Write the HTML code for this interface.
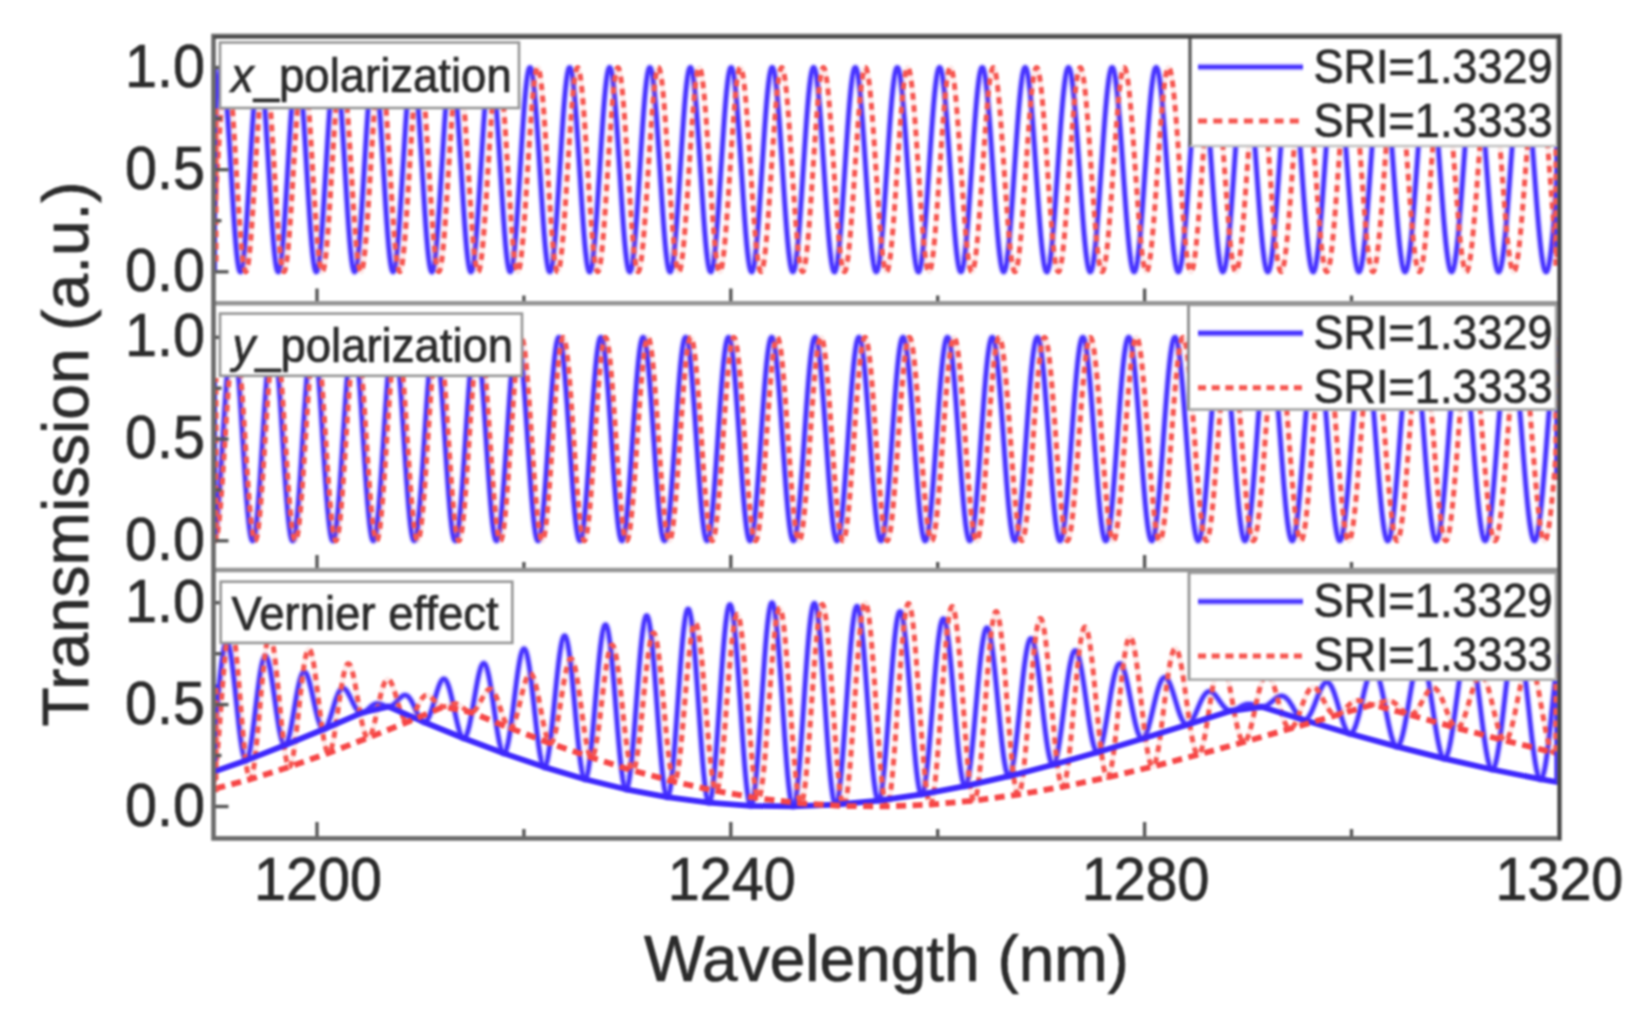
<!DOCTYPE html>
<html><head><meta charset="utf-8"><title>Transmission spectra</title>
<style>
html,body{margin:0;padding:0;background:#fff;}
body{width:1646px;height:1026px;overflow:hidden;}
svg{display:block;filter:blur(1.0px);}
</style></head><body>
<svg width="1646" height="1026" viewBox="0 0 1646 1026">
<defs>
<clipPath id="c1"><rect x="213.5" y="36.0" width="1344.9" height="267.5"/></clipPath>
<clipPath id="c2"><rect x="213.5" y="303.5" width="1344.9" height="266.5"/></clipPath>
<clipPath id="c3"><rect x="213.5" y="570.0" width="1344.9" height="267.0"/></clipPath>
</defs>
<rect width="100%" height="100%" fill="#fff"/>
<defs><path id="k0" d="M213.5 146.5l.6 -9.8l.6 -9.5l.6 -9.1l.6 -8.6l.6 -8l.6 -7.3l.6 -6.5l.6 -5.7l.6 -4.8l.6 -3.9l.6 -2.9l.6 -1.9l.6 -.9l.6 .1l.6 1.1l.6 2.2l.6 3.1l.6 4.1l.6 5.1l.6 5.8l.6 6.7l.6 7.5l.6 8.1l.6 8.6l.6 9.2l.6 9.6l.6 9.9l.6 10.1l.6 10.2l.6 10.2l.6 10.1l.6 9.9l.6 9.6l.6 9.3l.6 8.7l.6 8.2l.6 7.5l.6 6.8l.6 6l.6 5.1l.6 4.2l.6 3.3l.6 2.3l.6 1.3l.6 .3l.6 -.8l.6 -1.7l.6 -2.8l.6 -3.7l.6 -4.6l.6 -5.6l.6 -6.3l.6 -7.1l.6 -7.8l.6 -8.4l.6 -9l.6 -9.4l.6 -9.7l.6 -10l.6 -10.2l.6 -10.1l.6 -10.2l.6 -10l.6 -9.7l.6 -9.4l.6 -8.9l.6 -8.4l.6 -7.8l.6 -7.1l.6 -6.4l.6 -5.5l.6 -4.7l.6 -3.7l.6 -2.7l.6 -1.8l.6 -.8l.6 .3l.6 1.2l.6 2.3l.6 3.2l.6 4.2l.6 5.1l.6 5.9l.6 6.7l.6 7.5l.6 8.1l.6 8.6l.6 9.2l.6 9.5l.6 9.9l.6 10l.6 10.1l.6 10.2l.6 10l.6 9.9l.6 9.5l.6 9.2l.6 8.7l.6 8.1l.6 7.5l.6 6.8l.6 5.9l.6 5.2l.6 4.2l.6 3.3l.6 2.3l.6 1.4l.6 .3l.6 -.7l.6 -1.7l.6 -2.6l.6 -3.6l.6 -4.6l.6 -5.4l.6 -6.2l.6 -7l.6 -7.7l.6 -8.3l.6 -8.8l.6 -9.3l.6 -9.6l.6 -9.9l.6 -10.1l.6 -10.1l.6 -10.1l.6 -10l.6 -9.7l.6 -9.4l.6 -9l.6 -8.4l.6 -7.9l.6 -7.2l.6 -6.5l.6 -5.7l.6 -4.8l.6 -3.9l.6 -3l.6 -2l.6 -1l.6 0l.6 1l.6 2l.6 3l.6 3.8l.6 4.8l.6 5.7l.6 6.4l.6 7.2l.6 7.9l.6 8.4l.6 9l.6 9.3l.6 9.7l.6 10l.6 10l.6 10.1l.6 10l.6 9.9l.6 9.6l.6 9.3l.6 8.8l.6 8.3l.6 7.7l.6 7l.6 6.3l.6 5.4l.6 4.6l.6 3.7l.6 2.7l.6 1.8l.6 .8l.6 -.3l.6 -1.2l.6 -2.2l.6 -3.1l.6 -4.1l.6 -5l.6 -5.8l.6 -6.6l.6 -7.3l.6 -7.9l.6 -8.5l.6 -9l.6 -9.5l.6 -9.7l.6 -9.9l.6 -10l.6 -10.1l.6 -10l.6 -9.8l.6 -9.5l.6 -9.2l.6 -8.7l.6 -8.2l.6 -7.6l.6 -6.8l.6 -6.2l.6 -5.3l.6 -4.4l.6 -3.5l.6 -2.6l.6 -1.6l.6 -.7l.6 .4l.6 1.3l.6 2.3l.6 3.3l.6 4.1l.6 5.1l.6 5.8l.6 6.7l.6 7.3l.6 8l.6 8.6l.6 9l.6 9.4l.6 9.7l.6 9.9l.6 10l.6 10.1l.6 9.9l.6 9.8l.6 9.5l.6 9.1l.6 8.6l.6 8.2l.6 7.5l.6 6.8l.6 6l.6 5.3l.6 4.4l.6 3.5l.6 2.5l.6 1.6l.6 .6l.6 -.4l.6 -1.3l.6 -2.4l.6 -3.2l.6 -4.2l.6 -5l.6 -5.9l.6 -6.6l.6 -7.4l.6 -7.9l.6 -8.6l.6 -8.9l.6 -9.4l.6 -9.7l.6 -9.9l.6 -10l.6 -9.9l.6 -10l.6 -9.7l.6 -9.5l.6 -9.1l.6 -8.6l.6 -8.1l.6 -7.5l.6 -6.9l.6 -6l.6 -5.3l.6 -4.4l.6 -3.6l.6 -2.6l.6 -1.6l.6 -.7l.6 .3l.6 1.3l.6 2.2l.6 3.2l.6 4.1l.6 5l.6 5.7l.6 6.6l.6 7.2l.6 7.9l.6 8.4l.6 9l.6 9.3l.6 9.6l.6 9.8l.6 10l.6 9.9l.6 9.9l.6 9.8l.6 9.4l.6 9.2l.6 8.6l.6 8.2l.6 7.6l.6 6.9l.6 6.2l.6 5.4l.6 4.5l.6 3.7l.6 2.7l.6 1.8l.6 .8l.6 -.1l.6 -1.1l.6 -2.1l.6 -3l.6 -3.9l.6 -4.8l.6 -5.6l.6 -6.3l.6 -7.1l.6 -7.8l.6 -8.3l.6 -8.8l.6 -9.2l.6 -9.5l.6 -9.8l.6 -9.9l.6 -9.9l.6 -9.9l.6 -9.7l.6 -9.5l.6 -9.2l.6 -8.8l.6 -8.3l.6 -7.7l.6 -7l.6 -6.4l.6 -5.6l.6 -4.7l.6 -3.9l.6 -3l.6 -2l.6 -1.1l.6 -.1l.6 .8l.6 1.8l.6 2.7l.6 3.7l.6 4.5l.6 5.3l.6 6.2l.6 6.8l.6 7.6l.6 8.1l.6 8.6l.6 9.1l.6 9.4l.6 9.6l.6 9.9l.6 9.9l.6 9.8l.6 9.8l.6 9.6l.6 9.3l.6 8.9l.6 8.4l.6 7.9l.6 7.2l.6 6.6l.6 5.9l.6 5l.6 4.2l.6 3.3l.6 2.4l.6 1.4l.6 .5l.6 -.5l.6 -1.4l.6 -2.4l.6 -3.2l.6 -4.2l.6 -5l.6 -5.8l.6 -6.6l.6 -7.2l.6 -7.9l.6 -8.4l.6 -8.9l.6 -9.2l.6 -9.5l.6 -9.8l.6 -9.8l.6 -9.9l.6 -9.8l.6 -9.6l.6 -9.4l.6 -9.1l.6 -8.6l.6 -8.1l.6 -7.5l.6 -6.9l.6 -6.2l.6 -5.4l.6 -4.5l.6 -3.8l.6 -2.8l.6 -1.8l.6 -1l.6 0l.6 1l.6 1.9l.6 2.8l.6 3.7l.6 4.6l.6 5.4l.6 6.2l.6 6.9l.6 7.5l.6 8.1l.6 8.6l.6 9l.6 9.4l.6 9.6l.6 9.8l.6 9.8l.6 9.9l.6 9.7l.6 9.5l.6 9.2l.6 8.8l.6 8.4l.6 7.8l.6 7.2l.6 6.6l.6 5.8l.6 5l.6 4.2l.6 3.4l.6 2.4l.6 1.5l.6 .5l.6 -.4l.6 -1.3l.6 -2.3l.6 -3.2l.6 -4.1l.6 -4.9l.6 -5.7l.6 -6.4l.6 -7.1l.6 -7.7l.6 -8.3l.6 -8.8l.6 -9.1l.6 -9.4l.6 -9.7l.6 -9.8l.6 -9.8l.6 -9.7l.6 -9.6l.6 -9.4l.6 -9.1l.6 -8.6l.6 -8.2l.6 -7.6l.6 -7l.6 -6.3l.6 -5.6l.6 -4.7l.6 -3.9l.6 -3l.6 -2.1l.6 -1.2l.6 -.3l.6 .7l.6 1.6l.6 2.6l.6 3.4l.6 4.3l.6 5.1l.6 5.9l.6 6.6l.6 7.3l.6 7.9l.6 8.3l.6 8.9l.6 9.2l.6 9.4l.6 9.7l.6 9.8l.6 9.7l.6 9.7l.6 9.6l.6 9.2l.6 9l.6 8.5l.6 8l.6 7.5l.6 6.8l.6 6.1l.6 5.4l.6 4.5l.6 3.7l.6 2.8l.6 2l.6 1l.6 0l.6 -.9l.6 -1.8l.6 -2.7l.6 -3.5l.6 -4.5l.6 -5.2l.6 -6l.6 -6.7l.6 -7.4l.6 -7.9l.6 -8.5l.6 -8.8l.6 -9.2l.6 -9.5l.6 -9.7l.6 -9.7l.6 -9.7l.6 -9.7l.6 -9.5l.6 -9.2l.6 -8.8l.6 -8.5l.6 -7.9l.6 -7.3l.6 -6.8l.6 -6l.6 -5.2l.6 -4.5l.6 -3.6l.6 -2.7l.6 -1.8l.6 -.9l.6 0l.6 1l.6 1.8l.6 2.8l.6 3.7l.6 4.4l.6 5.3l.6 6.1l.6 6.7l.6 7.4l.6 7.9l.6 8.4l.6 8.9l.6 9.2l.6 9.4l.6 9.7l.6 9.7l.6 9.7l.6 9.6l.6 9.4l.6 9.2l.6 8.8l.6 8.4l.6 7.9l.6 7.3l.6 6.7l.6 6l.6 5.2l.6 4.4l.6 3.6l.6 2.8l.6 1.8l.6 .9l.6 0l.6 -.9l.6 -1.9l.6 -2.7l.6 -3.6l.6 -4.5l.6 -5.2l.6 -6l.6 -6.7l.6 -7.3l.6 -7.9l.6 -8.4l.6 -8.8l.6 -9.1l.6 -9.4l.6 -9.6l.6 -9.7l.6 -9.6l.6 -9.6l.6 -9.5l.6 -9.1l.6 -8.8l.6 -8.5l.6 -7.9l.6 -7.3l.6 -6.8l.6 -6l.6 -5.3l.6 -4.5l.6 -3.7l.6 -2.8l.6 -1.9l.6 -1l.6 -.1l.6 .8l.6 1.7l.6 2.6l.6 3.5l.6 4.3l.6 5.1l.6 5.8l.6 6.6l.6 7.2l.6 7.8l.6 8.2l.6 8.8l.6 9l.6 9.4l.6 9.5l.6 9.6l.6 9.7l.6 9.5l.6 9.5l.6 9.1l.6 8.9l.6 8.5l.6 8l.6 7.4l.6 6.9l.6 6.2l.6 5.4l.6 4.7l.6 3.8l.6 3l.6 2.1l.6 1.3l.6 .3l.6 -.6l.6 -1.5l.6 -2.4l.6 -3.2l.6 -4.1l.6 -4.9l.6 -5.6l.6 -6.4l.6 -7l.6 -7.6l.6 -8.1l.6 -8.6l.6 -8.9l.6 -9.3l.6 -9.4l.6 -9.6l.6 -9.6l.6 -9.6l.6 -9.4l.6 -9.3l.6 -8.9l.6 -8.6l.6 -8.1l.6 -7.6l.6 -7l.6 -6.4l.6 -5.7l.6 -4.9l.6 -4.1l.6 -3.3l.6 -2.4l.6 -1.5l.6 -.7l.6 .3l.6 1.1l.6 2.1l.6 2.9l.6 3.8l.6 4.6l.6 5.3l.6 6.1l.6 6.7l.6 7.4l.6 7.9l.6 8.4l.6 8.7l.6 9.1l.6 9.4l.6 9.5l.6 9.6l.6 9.5l.6 9.5l.6 9.3l.6 9.1l.6 8.7l.6 8.3l.6 7.8l.6 7.3l.6 6.6l.6 6l.6 5.2l.6 4.5l.6 3.6l.6 2.8l.6 1.9l.6 1.1l.6 .2l.6 -.8l.6 -1.6l.6 -2.5l.6 -3.4l.6 -4.2l.6 -4.9l.6 -5.7l.6 -6.4l.6 -7.1l.6 -7.6l.6 -8.1l.6 -8.5l.6 -9l.6 -9.2l.6 -9.4l.6 -9.5l.6 -9.5l.6 -9.5l.6 -9.4l.6 -9.2l.6 -8.8l.6 -8.5l.6 -8.1l.6 -7.5l.6 -7l.6 -6.3l.6 -5.7l.6 -4.8l.6 -4.1l.6 -3.3l.6 -2.4l.6 -1.6l.6 -.7l.6 .2l.6 1.2l.6 1.9l.6 2.9l.6 3.7l.6 4.5l.6 5.2l.6 6l.6 6.6l.6 7.2l.6 7.8l.6 8.3l.6 8.7l.6 9l.6 9.2l.6 9.4l.6 9.5l.6 9.5l.6 9.5l.6 9.3l.6 9l.6 8.7l.6 8.3l.6 7.9l.6 7.3l.6 6.8l.6 6.1l.6 5.3l.6 4.6l.6 3.9l.6 3l.6 2.1l.6 1.3l.6 .4l.6 -.5l.6 -1.4l.6 -2.2l.6 -3.1l.6 -3.9l.6 -4.7l.6 -5.4l.6 -6.1l.6 -6.8l.6 -7.4l.6 -7.9l.6 -8.3l.6 -8.8l.6 -9l.6 -9.3l.6 -9.4l.6 -9.5l.6 -9.4l.6 -9.4l.6 -9.2l.6 -8.9l.6 -8.6l.6 -8.2l.6 -7.8l.6 -7.2l.6 -6.5l.6 -5.9l.6 -5.2l.6 -4.5l.6 -3.6l.6 -2.9l.6 -1.9l.6 -1.1l.6 -.3l.6 .7l.6 1.5l.6 2.4l.6 3.2l.6 4l.6 4.8l.6 5.5l.6 6.3l.6 6.8l.6 7.4l.6 8l.6 8.4l.6 8.7l.6 9l.6 9.3l.6 9.4l.6 9.4l.6 9.5l.6 9.3l.6 9.1l.6 8.9l.6 8.6l.6 8.1l.6 7.6l.6 7.1l.6 6.5l.6 5.8l.6 5.2l.6 4.3l.6 3.6l.6 2.7l.6 1.9l.6 1.1l.6 .2l.6 -.7l.6 -1.6l.6 -2.4l.6 -3.3l.6 -4l.6 -4.8l.6 -5.6l.6 -6.2l.6 -6.9l.6 -7.4l.6 -7.9l.6 -8.4l.6 -8.7l.6 -9l.6 -9.2l.6 -9.4l.6 -9.4l.6 -9.4l.6 -9.3l.6 -9.1l.6 -8.8l.6 -8.6l.6 -8.1l.6 -7.6l.6 -7.1l.6 -6.5l.6 -5.8l.6 -5.1l.6 -4.4l.6 -3.6l.6 -2.7l.6 -2l.6 -1.1l.6 -.2l.6 .7l.6 1.5l.6 2.3l.6 3.2l.6 4l.6 4.8l.6 5.4l.6 6.2l.6 6.8l.6 7.3l.6 7.8l.6 8.3l.6 8.7l.6 9l.6 9.1l.6 9.4l.6 9.3l.6 9.4l.6 9.3l.6 9.1l.6 8.8l.6 8.6l.6 8.1l.6 7.7l.6 7.1l.6 6.6l.6 5.9l.6 5.2l.6 4.4l.6 3.7l.6 2.9l.6 2.1l.6 1.2l.6 .4l.6 -.5l.6 -1.3l.6 -2.2l.6 -3.1l.6 -3.8l.6 -4.6l.6 -5.3l.6 -6l.6 -6.6l.6 -7.2l.6 -7.7l.6 -8.2l.6 -8.6l.6 -8.8l.6 -9.1l.6 -9.3l.6 -9.3l.6 -9.4l.6 -9.2l.6 -9.2l.6 -8.9l.6 -8.5l.6 -8.2l.6 -7.8l.6 -7.3l.6 -6.7l.6 -6l.6 -5.4l.6 -4.7l.6 -3.9l.6 -3.1l.6 -2.3l.6 -1.5l.6 -.6l.6 .3l.6 1.1l.6 1.9l.6 2.7l.6 3.6l.6 4.3l.6 5.1l.6 5.8l.6 6.4l.6 7l.6 7.5l.6 8l.6 8.4l.6 8.7l.6 9l.6 9.2l.6 9.3l.6 9.3l.6 9.3l.6 9.1l.6 9l.6 8.7l.6 8.3l.6 7.9l.6 7.4l.6 6.9l.6 6.3l.6 5.7l.6 4.9l.6 4.2l.6 3.4l.6 2.7l.6 1.8l.6 .9l.6 .1l.6 -.7l.6 -1.6l.6 -2.3l.6 -3.3l.6 -3.9l.6 -4.8l.6 -5.4l.6 -6.1l.6 -6.7l.6 -7.3l.6 -7.7l.6 -8.2l.6 -8.6l.6 -8.8l.6 -9.1l.6 -9.2l.6 -9.3l.6 -9.3l.6 -9.2l.6 -9l.6 -8.8l.6 -8.5l.6 -8.1l.6 -7.6l.6 -7.2l.6 -6.6l.6 -5.9l.6 -5.3l.6 -4.6l.6 -3.8l.6 -3.1l.6 -2.2l.6 -1.4l.6 -.6l.6 .3l.6 1.1l.6 1.9l.6 2.8l.6 3.5l.6 4.3l.6 5l.6 5.7l.6 6.4l.6 6.9l.6 7.4l.6 8l.6 8.3l.6 8.6l.6 9l.6 9.1l.6 9.2l.6 9.2l.6 9.2l.6 9.1l.6 9l.6 8.6l.6 8.3l.6 7.9l.6 7.5l.6 6.9l.6 6.4l.6 5.7l.6 5l.6 4.3l.6 3.5l.6 2.8l.6 2l.6 1.1l.6 .3l.6 -.5l.6 -1.4l.6 -2.2l.6 -3l.6 -3.7l.6 -4.6l.6 -5.2l.6 -5.8l.6 -6.5l.6 -7.1l.6 -7.6l.6 -8l.6 -8.4l.6 -8.7l.6 -8.9l.6 -9.1l.6 -9.2l.6 -9.2l.6 -9.2l.6 -9l.6 -8.8l.6 -8.6l.6 -8.2l.6 -7.8l.6 -7.3l.6 -6.7l.6 -6.2l.6 -5.6l.6 -4.8l.6 -4.1l.6 -3.4l.6 -2.6l.6 -1.8l.6 -.9l.6 -.2l.6 .7l.6 1.6l.6 2.3l.6 3.1l.6 3.9l.6 4.6l.6 5.3l.6 6l.6 6.6l.6 7.1l.6 7.6l.6 8.1l.6 8.4l.6 8.7l.6 8.9l.6 9.1l.6 9.2l.6 9.2l.6 9.1l.6 8.9l.6 8.8l.6 8.5l.6 8.1l.6 7.7l.6 7.2l.6 6.7l.6 6.1l.6 5.4l.6 4.8l.6 4.1l.6 3.2l.6 2.6l.6 1.7l.6 .9l.6 0l.6 -.7l.6 -1.6l.6 -2.4l.6 -3.1l.6 -3.9l.6 -4.7l.6 -5.3l.6 -6l.6 -6.5l.6 -7.1l.6 -7.6l.6 -8.1l.6 -8.3l.6 -8.7l.6 -8.9l.6 -9.1l.6 -9.1l.6 -9.2l.6 -9l.6 -9l.6 -8.7l.6 -8.5l.6 -8.1l.6 -7.6l.6 -7.2l.6 -6.7l.6 -6.1l.6 -5.5l.6 -4.7l.6 -4.1l.6 -3.3l.6 -2.5l.6 -1.8l.6 -.9l.6 -.1l.6 .6l.6 1.6l.6 2.3l.6 3l.6 3.9l.6 4.5l.6 5.3l.6 5.9l.6 6.5l.6 7l.6 7.5l.6 8l.6 8.3l.6 8.6l.6 8.9l.6 9l.6 9.1l.6 9.1l.6 9l.6 9l.6 8.7l.6 8.5l.6 8.1l.6 7.7l.6 7.3l.6 6.7l.6 6.2l.6 5.5l.6 4.9l.6 4.1l.6 3.5l.6 2.6l.6 1.9l.6 1.1l.6 .3l.6 -.5l.6 -1.4l.6 -2.1l.6 -2.9l.6 -3.7l.6 -4.4l.6 -5.1l.6 -5.7l.6 -6.3l.6 -6.9l.6 -7.4l.6 -7.8l.6 -8.3l.6 -8.5l.6 -8.7l.6 -9l.6 -9l.6 -9.1l.6 -9.1l.6 -8.9l.6 -8.7l.6 -8.5l.6 -8.2l.6 -7.8l.6 -7.4l.6 -6.9l.6 -6.3l.6 -5.7l.6 -5.1l.6 -4.3l.6 -3.7l.6 -2.9l.6 -2.1l.6 -1.4l.6 -.5l.6 .3l.6 1l.6 1.9l.6 2.7l.6 3.4l.6 4.1l.6 4.8l.6 5.5l.6 6.1l.6 6.7l.6 7.1l.6 7.7l.6 8l.6 8.4l.6 8.7l.6 8.8l.6 9l.6 9l.6 9.1l.6 8.9l.6 8.8l.6 8.6l.6 8.3l.6 7.9l.6 7.6l.6 7l.6 6.6l.6 5.9l.6 5.3l.6 4.7l.6 4l.6 3.2l.6 2.5l.6 1.6l.6 .9l.6 .1l.6 -.6l.6 -1.5l.6 -2.3l.6 -3l.6 -3.8l.6 -4.5l.6 -5.1l.6 -5.8l.6 -6.4l.6 -6.9l.6 -7.4l.6 -7.8l.6 -8.2l.6 -8.5l.6 -8.7l.6 -8.9l.6 -8.9l.6 -9.1l.6 -8.9l.6 -8.9l.6 -8.7l.6 -8.4l.6 -8.1l.6 -7.7l.6 -7.3l.6 -6.8l.6 -6.3l.6 -5.7l.6 -5l.6 -4.4l.6 -3.6l.6 -2.9l.6 -2.1l.6 -1.4l.6 -.6l.6 .2l.6 1l.6 1.8l.6 2.6l.6 3.3l.6 4l.6 4.7l.6 5.4l.6 6l.6 6.5l.6 7.1l.6 7.5l.6 7.9l.6 8.3l.6 8.5l.6 8.8l.6 8.9l.6 8.9l.6 9l.6 8.9l.6 8.8l.6 8.6l.6 8.3l.6 7.9l.6 7.6l.6 7.1l.6 6.7l.6 6l.6 5.5l.6 4.8l.6 4.2l.6 3.4l.6 2.7l.6 1.9l.6 1.1l.6 .4l.6 -.4l.6 -1.2l.6 -2l.6 -2.7l.6 -3.5l.6 -4.2l.6 -4.8l.6 -5.5l.6 -6.1l.6 -6.7l.6 -7.1l.6 -7.6l.6 -8l.6 -8.2l.6 -8.6l.6 -8.7l.6 -8.9l.6 -9l.6 -8.9l.6 -8.8l.6 -8.7l.6 -8.5l.6 -8.3l.6 -7.8l.6 -7.5l.6 -7l.6 -6.6l.6 -5.9l.6 -5.4l.6 -4.7l.6 -4l.6 -3.3l.6 -2.6l.6 -1.8l.6 -1l.6 -.3l.6 .5l.6 1.3l.6 2.1l.6 2.8l.6 3.5l.6 4.2l.6 4.9l.6 5.6l.6 6.1l.6 6.6l.6 7.2l.6 7.6l.6 7.9l.6 8.3l.6 8.5l.6 8.8l.6 8.8l.6 8.9l.6 8.9l.6 8.8l.6 8.7l.6 8.4l.6 8.2l.6 7.9l.6 7.4l.6 7l.6 6.5l.6 5.9l.6 5.3l.6 4.7l.6 4l.6 3.3l.6 2.5l.6 1.9l.6 1l.6 .3l.6 -.5l.6 -1.3l.6 -2l.6 -2.7l.6 -3.5l.6 -4.2l.6 -4.9l.6 -5.4l.6 -6.1l.6 -6.6l.6 -7.1l.6 -7.5l.6 -7.9l.6 -8.3l.6 -8.5l.6 -8.6l.6 -8.8l.6 -8.9l.6 -8.9l.6 -8.8l.6 -8.6l.6 -8.4l.6 -8.2l.6 -7.9l.6 -7.4l.6 -7l.6 -6.6l.6 -5.9l.6 -5.4l.6 -4.8l.6 -4l.6 -3.4l.6 -2.7l.6 -1.9l.6 -1.2l.6 -.4l.6 .4l.6 1.1l.6 1.9l.6 2.6l.6 3.3l.6 4.1l.6 4.7l.6 5.3l.6 6l.6 6.4l.6 7l.6 7.4l.6 7.8l.6 8.1l.6 8.4l.6 8.7l.6 8.7l.6 8.8l.6 8.8l.6 8.8l.6 8.7l.6 8.4l.6 8.3l.6 7.9l.6 7.5l.6 7.1l.6 6.6l.6 6.1l.6 5.6l.6 4.9l.6 4.2l.6 3.6l.6 2.9l.6 2.1l.6 1.4l.6 .7l.6 -.2l.6 -.9l.6 -1.6l.6 -2.4l.6 -3.1l.6 -3.8l.6 -4.4l.6 -5.2l.6 -5.7l.6 -6.2l.6 -6.8l.6 -7.2l.6 -7.7l.6 -8l.6 -8.2l.6 -8.5l.6 -8.7l.6 -8.8l.6 -8.8l.6 -8.7l.6 -8.7l.6 -8.5l.6 -8.3l.6 -8l.6 -7.7l.6 -7.2l.6 -6.8l.6 -6.3l.6 -5.8l.6 -5.2l.6 -4.5l.6 -3.8l.6 -3.2l.6 -2.5l.6 -1.7l.6 -1l.6 -.2l.6 .6l.6 1.2l.6 2.1l.6 2.7l.6 3.5l.6 4.1l.6 4.8l.6 5.4l.6 6l.6 6.5l.6 7l.6 7.4l.6 7.8l.6 8.1l.6 8.3l.6 8.6l.6 8.7l.6 8.7l.6 8.8l.6 8.7l.6 8.5l.6 8.4l.6 8.2l.6 7.8l.6 7.4l.6 7.1l.6 6.5l.6 6.1l.6 5.5l.6 4.8l.6 4.3l.6 3.5l.6 2.9l.6 2.2l.6 1.4l.6 .6l.6 0l.6 -.9l.6 -1.5l.6 -2.3l.6 -3l.6 -3.7l.6 -4.4l.6 -5l.6 -5.6l.6 -6.1l.6 -6.7l.6 -7.1l.6 -7.5l.6 -7.9l.6 -8.1l.6 -8.4l.6 -8.6l.6 -8.7l.6 -8.7l.6 -8.7l.6 -8.6l.6 -8.5l.6 -8.3l.6 -8l.6 -7.7l.6 -7.3l.6 -6.9l.6 -6.4l.6 -5.9l.6 -5.3l.6 -4.7l.6 -4l.6 -3.4l.6 -2.6l.6 -2l.6 -1.2l.6 -.5l.6 .3l.6 1l.6 1.7l.6 2.5l.6 3.1l.6 3.8l.6 4.5l.6 5.1l.6 5.7l.6 6.2l.6 6.8l.6 7.1l.6 7.6l.6 7.9l.6 8.2l.6 8.4l.6 8.5l.6 8.7l.6 8.7l.6 8.6l.6 8.6l.6 8.4l.6 8.2l.6 8l.6 7.6l.6 7.2l.6 6.8l.6 6.3l.6 5.8l.6 5.2l.6 4.6l.6 3.9l.6 3.3l.6 2.6l.6 1.8l.6 1.2l.6 .4l.6 -.3l.6 -1.1l.6 -1.8l.6 -2.5l.6 -3.2l.6 -3.8l.6 -4.5l.6 -5.2l.6 -5.7l.6 -6.2l.6 -6.7l.6 -7.1l.6 -7.6l.6 -7.9l.6 -8.1l.6 -8.4l.6 -8.5l.6 -8.6l.6 -8.7l.6 -8.6l.6 -8.5l.6 -8.4l.6 -8.2l.6 -7.9l.6 -7.6l.6 -7.2l.6 -6.8l.6 -6.3l.6 -5.7l.6 -5.2l.6 -4.6l.6 -4l.6 -3.3l.6 -2.6l.6 -1.9l.6 -1.1l.6 -.5l.6 .3l.6 1l.6 1.7l.6 2.5l.6 3.1l.6 3.8l.6 4.4l.6 5l.6 5.7l.6 6.1l.6 6.6l.6 7.1l.6 7.5l.6 7.8l.6 8.1l.6 8.3l.6 8.5l.6 8.5l.6 8.7l.6 8.6l.6 8.5l.6 8.4l.6 8.1l.6 8l.6 7.6l.6 7.2l.6 6.8l.6 6.4l.6 5.8l.6 5.3l.6 4.7l.6 4l.6 3.5l.6 2.7l.6 2l.6 1.4l.6 .6l.6 -.2l.6 -.8l.6 -1.6l.6 -2.2l.6 -3l.6 -3.6l.6 -4.3l.6 -4.8l.6 -5.5l.6 -6l.6 -6.5l.6 -6.9l.6 -7.3l.6 -7.7l.6 -8l.6 -8.2l.6 -8.4l.6 -8.5l.6 -8.6l.6 -8.6l.6 -8.5l.6 -8.4l.6 -8.2l.6 -8l.6 -7.6l.6 -7.4l.6 -6.9l.6 -6.5l.6 -6l.6 -5.4l.6 -4.9l.6 -4.3l.6 -3.6l.6 -3l.6 -2.3l.6 -1.5l.6 -.9l.6 -.2l.6 .6l.6 1.3l.6 2l.6 2.6l.6 3.4l.6 4l.6 4.6l.6 5.2l.6 5.7l.6 6.3l.6 6.7l.6 7.1l.6 7.5l.6 7.9l.6 8l.6 8.3l.6 8.5l.6 8.5l.6 8.5l.6 8.5l.6 8.5l.6 8.2l.6 8.1l.6 7.8l.6 7.5l.6 7.1l.6 6.6l.6 6.3l.6 5.7l.6 5.1l.6 4.6l.6 3.9l.6 3.3l.6 2.7l.6 1.9l.6 1.2l.6 .6l.6 -.2l.6 -.9l.6 -1.6l.6 -2.3l.6 -2.9l.6 -3.6l.6 -4.3l.6 -4.8l.6 -5.4l.6 -6l.6 -6.4l.6 -6.9l.6 -7.2l.6 -7.7l.6 -7.9l.6 -8.1l.6 -8.3l.6 -8.4l.6 -8.5l.6 -8.6l.6 -8.4l.6 -8.3l.6 -8.2l.6 -7.9l.6 -7.7l.6 -7.3l.6 -6.9l.6 -6.5l.6 -6.1l.6 -5.4l.6 -5l.6 -4.3l.6 -3.8l.6 -3l.6 -2.4l.6 -1.8l.6 -1l.6 -.3l.6 .4l.6 1.1l.6 1.8l.6 2.4l.6 3.2l.6 3.7l.6 4.4l.6 5l.6 5.5l.6 6.1l.6 6.5l.6 6.9l.6 7.4l.6 7.6l.6 7.9l.6 8.2l.6 8.3l.6 8.4l.6 8.5l.6 8.5l.6 8.4l.6 8.2l.6 8.1l.6 7.9l.6 7.5l.6 7.2l.6 6.9l.6 6.3l.6 5.9l.6 5.4l.6 4.8l.6 4.3l.6 3.6l.6 2.9l.6 2.3l.6 1.6l.6 1l.6 .2l.6 -.5l.6 -1.2l.6 -1.8l.6 -2.6l.6 -3.2l.6 -3.8l.6 -4.4l.6 -5l.6 -5.6l.6 -6.1l.6 -6.5l.6 -6.9l.6 -7.4l.6 -7.6l.6 -7.9l.6 -8.1l.6 -8.3l.6 -8.4l.6 -8.4l.6 -8.5l.6 -8.3l.6 -8.2l.6 -8.1l.6 -7.8l.6 -7.5l.6 -7.2l.6 -6.8l.6 -6.3l.6 -5.9l.6 -5.3l.6 -4.8l.6 -4.2l.6 -3.6l.6 -3l.6 -2.3l.6 -1.6l.6 -.9l.6 -.3l.6 .5l.6 1.1l.6 1.8l.6 2.5l.6 3.2l.6 3.7l.6 4.4l.6 5l.6 5.5l.6 6l.6 6.4l.6 6.9l.6 7.3l.6 7.6l.6 7.8l.6 8.1l.6 8.2l.6 8.4l.6 8.3l.6 8.4l.6 8.4l.6 8.2l.6 8l.6 7.8l.6 7.5l.6 7.2l.6 6.9l.6 6.4l.6 5.9l.6 5.4l.6 4.9l.6 4.3l.6 3.6l.6 3.1l.6 2.4l.6 1.8l.6 1l.6 .4l.6 -.3l.6 -1l.6 -1.7l.6 -2.3l.6 -3l.6 -3.6l.6 -4.3l.6 -4.8l.6 -5.3l.6 -5.9l.6 -6.3l.6 -6.7l.6 -7.2l.6 -7.4l.6 -7.8l.6 -8l.6 -8.1l.6 -8.3l.6 -8.4l.6 -8.3l.6 -8.3l.6 -8.2l.6 -8.1l.6 -7.8l.6 -7.6l.6 -7.3l.6 -6.9l.6 -6.5l.6 -6.1l.6 -5.5l.6 -5.1l.6 -4.5l.6 -3.8l.6 -3.3l.6 -2.6l.6 -2l.6 -1.3l.6 -.6l.6 0l.6 .7l.6 1.5l.6 2l.6 2.8l.6 3.3l.6 4l.6 4.5l.6 5.1l.6 5.7l.6 6.1l.6 6.5l.6 7l.6 7.3l.6 7.6l.6 7.8l.6 8.1l.6 8.2l.6 8.2l.6 8.4l.6 8.3l.6 8.2l.6 8.1l.6 7.9l.6 7.7l.6 7.4l.6 7.1l.6 6.6l.6 6.3l.6 5.8l.6 5.3l.6 4.7l.6 4.2l.6 3.6l.6 2.9l.6 2.3l.6 1.7l.6 1l.6 .3l.6 -.4l.6 -1l.6 -1.7l.6 -2.3l.6 -3l.6 -3.6l.6 -4.2l.6 -4.8l.6 -5.3l.6 -5.8l.6 -6.3l.6 -6.7l.6 -7l.6 -7.4l.6 -7.7l.6 -7.9l.6 -8l.6 -8.2l.6 -8.3l.6 -8.3l.6 -8.2l.6 -8.2l.6 -8l.6 -7.8l.6 -7.6l.6 -7.2l.6 -6.9l.6 -6.5l.6 -6.1l.6 -5.6l.6 -5.1l.6 -4.6l.6 -3.9l.6 -3.4l.6 -2.8l.6 -2.1l.6 -1.4l.6 -.8l.6 -.2l.6 .6l.6 1.2l.6 1.8l.6 2.5l.6 3.2l.6 3.7l.6 4.4l.6 4.8l.6 5.4l.6 5.9l.6 6.3l.6 6.8l.6 7.1l.6 7.4l.6 7.7l.6 7.9l.6 8.1l.6 8.1l.6 8.3l.6 8.2l.6 8.2l.6 8.1l.6 7.9l.6 7.8l.6 7.5l.6 7.1l.6 6.8l.6 6.5l.6 6l.6 5.5l.6 5l.6 4.4l.6 3.9l.6 3.3l.6 2.7l.6 2l.6 1.4l.6 .7l.6 0l.6 -.6l.6 -1.2l.6 -1.9l.6 -2.6l.6 -3.1l.6 -3.8l.6 -4.4l.6 -4.8l.6 -5.4l.6 -5.9l.6 -6.4l.6 -6.7l.6 -7.1l.6 -7.4l.6 -7.6l.6 -7.9l.6 -8l.6 -8.2l.6 -8.2l.6 -8.2l.6 -8.1l.6 -8.1l.6 -7.9l.6 -7.7l.6 -7.4l.6 -7.2l.6 -6.8l.6 -6.4l.6 -5.9l.6 -5.5l.6 -5l.6 -4.5l.6 -3.9l.6 -3.3l.6 -2.7l.6 -2.1l.6 -1.4l.6 -.8l.6 -.1l.6 .6l.6 1.2l.6 1.8l.6 2.5l.6 3.1l.6 3.7l.6 4.2l.6 4.8l.6 5.3l.6 5.8l.6 6.3l.6 6.6l.6 7l.6 7.3l.6 7.6l.6 7.8l.6 8l.6 8.1l.6 8.1l.6 8.2l.6 8.1l.6 8.1l.6 7.9l.6 7.7l.6 7.5l.6 7.1l.6 6.9l.6 6.4l.6 6.1l.6 5.6l.6 5.1l.6 4.5l.6 4l.6 3.5l.6 2.8l.6 2.2l.6 1.6l.6 .9l.6 .3l.6 -.4l.6 -1l.6 -1.6l.6 -2.3l.6 -2.9l.6 -3.5l.6 -4.1l.6 -4.6l.6 -5.2l.6 -5.6l.6 -6.1l.6 -6.4l.6 -6.9l.6 -7.2l.6 -7.5l.6 -7.6l.6 -7.9l.6 -8l.6 -8.1l.6 -8.2l.6 -8.1l.6 -8l.6 -8l.6 -7.7l.6 -7.5l.6 -7.3l.6 -6.9l.6 -6.6l.6 -6.2l.6 -5.7l.6 -5.3l.6 -4.8l.6 -4.2l.6 -3.7l.6 -3.1l.6 -2.4l.6 -1.9l.6 -1.2l.6 -.6l.6 .1l.6 .7l.6 1.4l.6 2l.6 2.6l.6 3.2l.6 3.8l.6 4.3l.6 4.9l.6 5.3l.6 5.9l.6 6.2l.6 6.7l.6 6.9l.6 7.3l.6 7.6l.6 7.7l.6 7.9l.6 8.1l.6 8.1l.6 8l.6 8.1l.6 7.9l.6 7.9l.6 7.6l.6 7.4l.6 7.1l.6 6.7l.6 6.4l.6 6l.6 5.5l.6 5.1l.6 4.5l.6 4l.6 3.4l.6 2.9l.6 2.2l.6 1.6l.6 1l.6 .3l.6 -.3l.6 -.9l.6 -1.6l.6 -2.2l.6 -2.8l.6 -3.4l.6 -3.9l.6 -4.5l.6 -5l.6 -5.5l.6 -5.9l.6 -6.4l.6 -6.7l.6 -7l.6 -7.4l.6 -7.6l.6 -7.7l.6 -7.9l.6 -8l.6 -8.1"/><path id="k1" d="M213.5 231.3l.6 -8.4l.6 -8.9l.6 -9.4l.6 -9.7l.6 -10l.6 -10.1l.6 -10.2l.6 -10.1l.6 -10l.6 -9.7l.6 -9.4l.6 -8.9l.6 -8.4l.6 -7.8l.6 -7.1l.6 -6.4l.6 -5.5l.6 -4.7l.6 -3.7l.6 -2.8l.6 -1.8l.6 -.8l.6 .3l.6 1.2l.6 2.2l.6 3.2l.6 4.2l.6 5l.6 5.9l.6 6.7l.6 7.4l.6 8l.6 8.6l.6 9.2l.6 9.5l.6 9.8l.6 10l.6 10.1l.6 10.2l.6 10l.6 9.9l.6 9.5l.6 9.2l.6 8.7l.6 8.1l.6 7.5l.6 6.8l.6 6.1l.6 5.1l.6 4.3l.6 3.4l.6 2.4l.6 1.4l.6 .4l.6 -.6l.6 -1.6l.6 -2.6l.6 -3.5l.6 -4.5l.6 -5.3l.6 -6.1l.6 -7l.6 -7.6l.6 -8.2l.6 -8.8l.6 -9.2l.6 -9.6l.6 -9.9l.6 -10l.6 -10.1l.6 -10.1l.6 -10l.6 -9.7l.6 -9.4l.6 -9l.6 -8.6l.6 -7.9l.6 -7.3l.6 -6.5l.6 -5.8l.6 -4.9l.6 -4l.6 -3.1l.6 -2.1l.6 -1.1l.6 -.1l.6 .8l.6 1.9l.6 2.8l.6 3.8l.6 4.7l.6 5.5l.6 6.3l.6 7.1l.6 7.8l.6 8.3l.6 8.9l.6 9.3l.6 9.6l.6 9.9l.6 10.1l.6 10l.6 10.1l.6 9.9l.6 9.6l.6 9.3l.6 8.9l.6 8.4l.6 7.8l.6 7.1l.6 6.3l.6 5.6l.6 4.7l.6 3.9l.6 2.8l.6 2l.6 .9l.6 -.1l.6 -1l.6 -2l.6 -3l.6 -3.9l.6 -4.8l.6 -5.7l.6 -6.4l.6 -7.2l.6 -7.8l.6 -8.4l.6 -8.9l.6 -9.4l.6 -9.6l.6 -9.9l.6 -10l.6 -10.1l.6 -10l.6 -9.8l.6 -9.6l.6 -9.2l.6 -8.8l.6 -8.3l.6 -7.7l.6 -7l.6 -6.3l.6 -5.4l.6 -4.7l.6 -3.7l.6 -2.8l.6 -1.8l.6 -.8l.6 .1l.6 1.1l.6 2.1l.6 3.1l.6 3.9l.6 4.9l.6 5.7l.6 6.4l.6 7.2l.6 7.9l.6 8.4l.6 8.9l.6 9.3l.6 9.6l.6 9.9l.6 10l.6 10l.6 10l.6 9.8l.6 9.5l.6 9.2l.6 8.8l.6 8.2l.6 7.7l.6 7l.6 6.2l.6 5.4l.6 4.7l.6 3.7l.6 2.7l.6 1.9l.6 .8l.6 -.1l.6 -1.1l.6 -2.1l.6 -3l.6 -3.9l.6 -4.8l.6 -5.7l.6 -6.4l.6 -7.1l.6 -7.8l.6 -8.4l.6 -8.8l.6 -9.3l.6 -9.6l.6 -9.8l.6 -10l.6 -9.9l.6 -10l.6 -9.8l.6 -9.5l.6 -9.2l.6 -8.8l.6 -8.2l.6 -7.7l.6 -7.1l.6 -6.3l.6 -5.5l.6 -4.6l.6 -3.8l.6 -2.9l.6 -1.9l.6 -1l.6 0l.6 1l.6 2l.6 2.8l.6 3.9l.6 4.6l.6 5.6l.6 6.3l.6 7l.6 7.7l.6 8.2l.6 8.8l.6 9.2l.6 9.5l.6 9.7l.6 10l.6 9.9l.6 9.9l.6 9.8l.6 9.6l.6 9.2l.6 8.8l.6 8.4l.6 7.7l.6 7.2l.6 6.4l.6 5.7l.6 4.8l.6 3.9l.6 3.1l.6 2.1l.6 1.2l.6 .2l.6 -.8l.6 -1.7l.6 -2.7l.6 -3.6l.6 -4.5l.6 -5.3l.6 -6.1l.6 -6.9l.6 -7.5l.6 -8.1l.6 -8.6l.6 -9l.6 -9.4l.6 -9.7l.6 -9.9l.6 -9.9l.6 -9.9l.6 -9.8l.6 -9.6l.6 -9.3l.6 -8.9l.6 -8.5l.6 -7.9l.6 -7.3l.6 -6.6l.6 -5.9l.6 -5l.6 -4.2l.6 -3.4l.6 -2.4l.6 -1.4l.6 -.5l.6 .5l.6 1.4l.6 2.4l.6 3.2l.6 4.2l.6 5l.6 5.9l.6 6.6l.6 7.2l.6 7.9l.6 8.4l.6 8.9l.6 9.3l.6 9.5l.6 9.8l.6 9.9l.6 9.9l.6 9.8l.6 9.6l.6 9.4l.6 9.1l.6 8.6l.6 8.1l.6 7.5l.6 6.9l.6 6.1l.6 5.4l.6 4.5l.6 3.7l.6 2.8l.6 1.8l.6 .9l.6 -.1l.6 -1l.6 -1.9l.6 -2.9l.6 -3.8l.6 -4.7l.6 -5.4l.6 -6.3l.6 -6.9l.6 -7.6l.6 -8.2l.6 -8.6l.6 -9.1l.6 -9.4l.6 -9.7l.6 -9.8l.6 -9.8l.6 -9.9l.6 -9.7l.6 -9.5l.6 -9.2l.6 -8.8l.6 -8.3l.6 -7.8l.6 -7.2l.6 -6.5l.6 -5.7l.6 -5l.6 -4.1l.6 -3.2l.6 -2.3l.6 -1.4l.6 -.4l.6 .5l.6 1.5l.6 2.4l.6 3.3l.6 4.2l.6 5l.6 5.8l.6 6.6l.6 7.2l.6 7.8l.6 8.4l.6 8.8l.6 9.2l.6 9.5l.6 9.7l.6 9.8l.6 9.8l.6 9.8l.6 9.6l.6 9.3l.6 9.1l.6 8.6l.6 8.1l.6 7.5l.6 6.9l.6 6.2l.6 5.4l.6 4.6l.6 3.7l.6 2.9l.6 1.9l.6 1l.6 .1l.6 -.9l.6 -1.8l.6 -2.7l.6 -3.6l.6 -4.5l.6 -5.3l.6 -6l.6 -6.8l.6 -7.4l.6 -8l.6 -8.5l.6 -9l.6 -9.3l.6 -9.5l.6 -9.7l.6 -9.8l.6 -9.8l.6 -9.7l.6 -9.5l.6 -9.2l.6 -8.9l.6 -8.4l.6 -7.9l.6 -7.3l.6 -6.7l.6 -5.9l.6 -5.2l.6 -4.3l.6 -3.5l.6 -2.6l.6 -1.7l.6 -.8l.6 .2l.6 1.2l.6 2l.6 3l.6 3.8l.6 4.7l.6 5.4l.6 6.2l.6 7l.6 7.5l.6 8.1l.6 8.6l.6 9l.6 9.3l.6 9.6l.6 9.7l.6 9.7l.6 9.8l.6 9.6l.6 9.4l.6 9.2l.6 8.7l.6 8.3l.6 7.8l.6 7.2l.6 6.5l.6 5.7l.6 5.1l.6 4.1l.6 3.4l.6 2.4l.6 1.5l.6 .6l.6 -.3l.6 -1.3l.6 -2.2l.6 -3.1l.6 -3.9l.6 -4.8l.6 -5.6l.6 -6.3l.6 -7l.6 -7.6l.6 -8.1l.6 -8.6l.6 -9l.6 -9.4l.6 -9.5l.6 -9.7l.6 -9.7l.6 -9.7l.6 -9.6l.6 -9.4l.6 -9l.6 -8.7l.6 -8.3l.6 -7.6l.6 -7.1l.6 -6.5l.6 -5.7l.6 -4.9l.6 -4.1l.6 -3.3l.6 -2.3l.6 -1.5l.6 -.5l.6 .4l.6 1.3l.6 2.2l.6 3.1l.6 4l.6 4.8l.6 5.6l.6 6.3l.6 7l.6 7.6l.6 8.1l.6 8.6l.6 9l.6 9.3l.6 9.5l.6 9.7l.6 9.7l.6 9.6l.6 9.6l.6 9.3l.6 9.1l.6 8.6l.6 8.2l.6 7.7l.6 7.1l.6 6.4l.6 5.7l.6 5l.6 4.1l.6 3.2l.6 2.4l.6 1.5l.6 .6l.6 -.4l.6 -1.2l.6 -2.2l.6 -3l.6 -3.9l.6 -4.8l.6 -5.5l.6 -6.2l.6 -6.9l.6 -7.5l.6 -8.1l.6 -8.5l.6 -9l.6 -9.2l.6 -9.5l.6 -9.6l.6 -9.7l.6 -9.6l.6 -9.5l.6 -9.4l.6 -9l.6 -8.7l.6 -8.2l.6 -7.8l.6 -7.1l.6 -6.5l.6 -5.8l.6 -5l.6 -4.2l.6 -3.4l.6 -2.5l.6 -1.6l.6 -.8l.6 .2l.6 1.1l.6 2.1l.6 2.9l.6 3.7l.6 4.6l.6 5.3l.6 6.1l.6 6.8l.6 7.4l.6 7.9l.6 8.4l.6 8.8l.6 9.2l.6 9.4l.6 9.6l.6 9.6l.6 9.6l.6 9.6l.6 9.3l.6 9.1l.6 8.7l.6 8.4l.6 7.8l.6 7.2l.6 6.7l.6 5.9l.6 5.2l.6 4.4l.6 3.6l.6 2.8l.6 1.8l.6 1l.6 0l.6 -.9l.6 -1.7l.6 -2.7l.6 -3.5l.6 -4.3l.6 -5.1l.6 -5.9l.6 -6.5l.6 -7.2l.6 -7.7l.6 -8.3l.6 -8.7l.6 -9l.6 -9.3l.6 -9.5l.6 -9.6l.6 -9.6l.6 -9.5l.6 -9.4l.6 -9.2l.6 -8.8l.6 -8.5l.6 -7.9l.6 -7.5l.6 -6.8l.6 -6.2l.6 -5.4l.6 -4.7l.6 -3.9l.6 -3.1l.6 -2.1l.6 -1.3l.6 -.4l.6 .5l.6 1.4l.6 2.3l.6 3.2l.6 4l.6 4.8l.6 5.5l.6 6.3l.6 6.9l.6 7.5l.6 8l.6 8.5l.6 8.9l.6 9.1l.6 9.4l.6 9.5l.6 9.6l.6 9.5l.6 9.5l.6 9.2l.6 9l.6 8.6l.6 8.2l.6 7.6l.6 7.1l.6 6.5l.6 5.8l.6 5l.6 4.3l.6 3.4l.6 2.6l.6 1.7l.6 .8l.6 -.1l.6 -.9l.6 -1.9l.6 -2.7l.6 -3.5l.6 -4.4l.6 -5.2l.6 -5.8l.6 -6.6l.6 -7.2l.6 -7.7l.6 -8.2l.6 -8.7l.6 -9l.6 -9.2l.6 -9.4l.6 -9.6l.6 -9.5l.6 -9.5l.6 -9.3l.6 -9.1l.6 -8.8l.6 -8.4l.6 -7.9l.6 -7.4l.6 -6.8l.6 -6.2l.6 -5.5l.6 -4.7l.6 -3.9l.6 -3.1l.6 -2.2l.6 -1.3l.6 -.5l.6 .4l.6 1.3l.6 2.2l.6 3l.6 3.9l.6 4.7l.6 5.4l.6 6.1l.6 6.7l.6 7.4l.6 7.9l.6 8.3l.6 8.8l.6 9l.6 9.3l.6 9.5l.6 9.5l.6 9.5l.6 9.4l.6 9.2l.6 9l.6 8.6l.6 8.2l.6 7.8l.6 7.2l.6 6.6l.6 5.9l.6 5.2l.6 4.5l.6 3.7l.6 2.8l.6 2l.6 1.1l.6 .2l.6 -.7l.6 -1.5l.6 -2.4l.6 -3.3l.6 -4l.6 -4.9l.6 -5.6l.6 -6.2l.6 -6.9l.6 -7.5l.6 -8l.6 -8.4l.6 -8.8l.6 -9.1l.6 -9.3l.6 -9.4l.6 -9.5l.6 -9.4l.6 -9.4l.6 -9.1l.6 -8.9l.6 -8.5l.6 -8.1l.6 -7.7l.6 -7l.6 -6.5l.6 -5.8l.6 -5l.6 -4.3l.6 -3.5l.6 -2.7l.6 -1.8l.6 -1l.6 0l.6 .8l.6 1.7l.6 2.5l.6 3.3l.6 4.2l.6 4.9l.6 5.7l.6 6.3l.6 7l.6 7.5l.6 8l.6 8.4l.6 8.8l.6 9.1l.6 9.3l.6 9.4l.6 9.5l.6 9.4l.6 9.3l.6 9.1l.6 8.8l.6 8.4l.6 8.1l.6 7.5l.6 7l.6 6.4l.6 5.7l.6 5l.6 4.3l.6 3.4l.6 2.6l.6 1.8l.6 .9l.6 0l.6 -.8l.6 -1.7l.6 -2.6l.6 -3.4l.6 -4.1l.6 -5l.6 -5.6l.6 -6.3l.6 -7l.6 -7.5l.6 -8l.6 -8.4l.6 -8.7l.6 -9.1l.6 -9.2l.6 -9.4l.6 -9.4l.6 -9.4l.6 -9.3l.6 -9l.6 -8.8l.6 -8.5l.6 -8l.6 -7.6l.6 -7l.6 -6.3l.6 -5.8l.6 -5l.6 -4.2l.6 -3.5l.6 -2.7l.6 -1.8l.6 -.9l.6 -.1l.6 .7l.6 1.7l.6 2.4l.6 3.3l.6 4.1l.6 4.9l.6 5.5l.6 6.3l.6 6.8l.6 7.4l.6 8l.6 8.3l.6 8.7l.6 9l.6 9.2l.6 9.3l.6 9.4l.6 9.3l.6 9.3l.6 9.1l.6 8.8l.6 8.4l.6 8.1l.6 7.6l.6 7.1l.6 6.4l.6 5.9l.6 5.1l.6 4.4l.6 3.6l.6 2.8l.6 1.9l.6 1.1l.6 .3l.6 -.6l.6 -1.5l.6 -2.3l.6 -3.1l.6 -3.9l.6 -4.7l.6 -5.4l.6 -6l.6 -6.7l.6 -7.3l.6 -7.8l.6 -8.2l.6 -8.6l.6 -8.9l.6 -9.1l.6 -9.3l.6 -9.3l.6 -9.4l.6 -9.2l.6 -9.1l.6 -8.9l.6 -8.5l.6 -8.2l.6 -7.7l.6 -7.2l.6 -6.6l.6 -6l.6 -5.3l.6 -4.6l.6 -3.8l.6 -3l.6 -2.2l.6 -1.4l.6 -.5l.6 .3l.6 1.2l.6 2l.6 2.9l.6 3.6l.6 4.4l.6 5.2l.6 5.8l.6 6.5l.6 7l.6 7.6l.6 8.1l.6 8.4l.6 8.7l.6 9.1l.6 9.2l.6 9.2l.6 9.4l.6 9.2l.6 9.2l.6 8.9l.6 8.6l.6 8.3l.6 7.9l.6 7.3l.6 6.9l.6 6.2l.6 5.6l.6 4.8l.6 4.2l.6 3.3l.6 2.6l.6 1.7l.6 .9l.6 0l.6 -.8l.6 -1.6l.6 -2.5l.6 -3.3l.6 -4l.6 -4.8l.6 -5.5l.6 -6.2l.6 -6.8l.6 -7.3l.6 -7.8l.6 -8.2l.6 -8.6l.6 -8.9l.6 -9l.6 -9.3l.6 -9.2l.6 -9.3l.6 -9.2l.6 -9l.6 -8.7l.6 -8.5l.6 -8.1l.6 -7.6l.6 -7.1l.6 -6.5l.6 -5.9l.6 -5.2l.6 -4.5l.6 -3.8l.6 -3l.6 -2.1l.6 -1.4l.6 -.5l.6 .3l.6 1.2l.6 2l.6 2.8l.6 3.6l.6 4.4l.6 5.1l.6 5.7l.6 6.4l.6 7l.6 7.5l.6 7.9l.6 8.4l.6 8.6l.6 9l.6 9.1l.6 9.2l.6 9.2l.6 9.3l.6 9l.6 8.9l.6 8.7l.6 8.2l.6 7.9l.6 7.4l.6 6.9l.6 6.3l.6 5.7l.6 4.9l.6 4.3l.6 3.5l.6 2.7l.6 1.9l.6 1l.6 .3l.6 -.6l.6 -1.4l.6 -2.3l.6 -3l.6 -3.8l.6 -4.6l.6 -5.3l.6 -5.9l.6 -6.5l.6 -7.1l.6 -7.6l.6 -8.1l.6 -8.4l.6 -8.7l.6 -8.9l.6 -9.2l.6 -9.2l.6 -9.2l.6 -9.1l.6 -9l.6 -8.8l.6 -8.6l.6 -8.1l.6 -7.8l.6 -7.2l.6 -6.8l.6 -6.1l.6 -5.5l.6 -4.8l.6 -4.1l.6 -3.3l.6 -2.5l.6 -1.8l.6 -.9l.6 0l.6 .7l.6 1.6l.6 2.4l.6 3.1l.6 4l.6 4.6l.6 5.4l.6 6l.6 6.6l.6 7.2l.6 7.6l.6 8.1l.6 8.4l.6 8.7l.6 9l.6 9.1l.6 9.1l.6 9.2l.6 9.1l.6 9l.6 8.7l.6 8.5l.6 8.1l.6 7.6l.6 7.2l.6 6.7l.6 6l.6 5.4l.6 4.8l.6 4l.6 3.2l.6 2.5l.6 1.6l.6 .9l.6 0l.6 -.8l.6 -1.6l.6 -2.4l.6 -3.2l.6 -4l.6 -4.6l.6 -5.4l.6 -6l.6 -6.6l.6 -7.2l.6 -7.6l.6 -8l.6 -8.4l.6 -8.7l.6 -8.9l.6 -9.1l.6 -9.1l.6 -9.2l.6 -9.1l.6 -8.9l.6 -8.7l.6 -8.4l.6 -8.1l.6 -7.6l.6 -7.2l.6 -6.7l.6 -6l.6 -5.4l.6 -4.8l.6 -4l.6 -3.3l.6 -2.5l.6 -1.7l.6 -.9l.6 0l.6 .7l.6 1.6l.6 2.3l.6 3.1l.6 3.9l.6 4.6l.6 5.3l.6 5.9l.6 6.5l.6 7.1l.6 7.5l.6 8l.6 8.4l.6 8.6l.6 8.8l.6 9.1l.6 9.1l.6 9.1l.6 9l.6 8.9l.6 8.7l.6 8.5l.6 8.1l.6 7.7l.6 7.2l.6 6.7l.6 6.2l.6 5.5l.6 4.8l.6 4.1l.6 3.4l.6 2.7l.6 1.8l.6 1l.6 .3l.6 -.6l.6 -1.4l.6 -2.2l.6 -2.9l.6 -3.7l.6 -4.4l.6 -5.2l.6 -5.7l.6 -6.4l.6 -6.9l.6 -7.4l.6 -7.9l.6 -8.2l.6 -8.5l.6 -8.8l.6 -8.9l.6 -9.1l.6 -9.1l.6 -9l.6 -8.9l.6 -8.8l.6 -8.5l.6 -8.1l.6 -7.8l.6 -7.4l.6 -6.8l.6 -6.3l.6 -5.7l.6 -5l.6 -4.3l.6 -3.7l.6 -2.8l.6 -2.1l.6 -1.3l.6 -.5l.6 .3l.6 1.1l.6 1.9l.6 2.7l.6 3.4l.6 4.2l.6 4.9l.6 5.5l.6 6.1l.6 6.7l.6 7.2l.6 7.7l.6 8.1l.6 8.3l.6 8.7l.6 8.9l.6 8.9l.6 9.1l.6 9l.6 9l.6 8.8l.6 8.5l.6 8.3l.6 7.9l.6 7.5l.6 7.1l.6 6.5l.6 5.9l.6 5.3l.6 4.6l.6 3.9l.6 3.2l.6 2.5l.6 1.6l.6 .9l.6 0l.6 -.7l.6 -1.5l.6 -2.3l.6 -3.1l.6 -3.8l.6 -4.5l.6 -5.2l.6 -5.8l.6 -6.4l.6 -7l.6 -7.4l.6 -7.8l.6 -8.2l.6 -8.5l.6 -8.7l.6 -8.9l.6 -9l.6 -9l.6 -9l.6 -8.9l.6 -8.6l.6 -8.4l.6 -8.1l.6 -7.7l.6 -7.3l.6 -6.8l.6 -6.2l.6 -5.7l.6 -5l.6 -4.3l.6 -3.6l.6 -2.8l.6 -2.1l.6 -1.4l.6 -.5l.6 .3l.6 1l.6 1.9l.6 2.6l.6 3.3l.6 4.1l.6 4.7l.6 5.4l.6 6l.6 6.6l.6 7.1l.6 7.6l.6 7.9l.6 8.3l.6 8.5l.6 8.8l.6 8.9l.6 9l.6 8.9l.6 8.9l.6 8.8l.6 8.6l.6 8.2l.6 8l.6 7.6l.6 7.1l.6 6.5l.6 6.1l.6 5.4l.6 4.8l.6 4.1l.6 3.4l.6 2.6l.6 1.9l.6 1.1l.6 .3l.6 -.5l.6 -1.2l.6 -2l.6 -2.8l.6 -3.5l.6 -4.3l.6 -4.9l.6 -5.5l.6 -6.1l.6 -6.7l.6 -7.2l.6 -7.6l.6 -8l.6 -8.3l.6 -8.6l.6 -8.7l.6 -8.9l.6 -8.9l.6 -9l.6 -8.8l.6 -8.7l.6 -8.5l.6 -8.2l.6 -7.9l.6 -7.4l.6 -7l.6 -6.5l.6 -5.9l.6 -5.3l.6 -4.7l.6 -3.9l.6 -3.3l.6 -2.5l.6 -1.8l.6 -1l.6 -.2l.6 .6l.6 1.3l.6 2.1l.6 2.9l.6 3.6l.6 4.2l.6 5l.6 5.6l.6 6.1l.6 6.7l.6 7.2l.6 7.6l.6 8l.6 8.3l.6 8.6l.6 8.7l.6 8.9l.6 8.9l.6 8.9l.6 8.8l.6 8.6l.6 8.5l.6 8.1l.6 7.8l.6 7.4l.6 7l.6 6.4l.6 5.9l.6 5.3l.6 4.6l.6 4l.6 3.2l.6 2.5l.6 1.8l.6 1l.6 .2l.6 -.6l.6 -1.3l.6 -2.1l.6 -2.8l.6 -3.6l.6 -4.2l.6 -4.9l.6 -5.5l.6 -6.1l.6 -6.7l.6 -7.1l.6 -7.6l.6 -7.9l.6 -8.3l.6 -8.5l.6 -8.7l.6 -8.8l.6 -8.9l.6 -8.8l.6 -8.8l.6 -8.6l.6 -8.5l.6 -8.1l.6 -7.8l.6 -7.5l.6 -6.9l.6 -6.5l.6 -5.9l.6 -5.4l.6 -4.7l.6 -4l.6 -3.3l.6 -2.6l.6 -1.9l.6 -1.1l.6 -.3l.6 .4l.6 1.2l.6 2l.6 2.7l.6 3.4l.6 4.1l.6 4.8l.6 5.4l.6 6l.6 6.5l.6 7l.6 7.4l.6 7.9l.6 8.1l.6 8.5l.6 8.6l.6 8.8l.6 8.8l.6 8.8l.6 8.8l.6 8.6l.6 8.5l.6 8.2l.6 7.8l.6 7.5l.6 7.1l.6 6.6l.6 6l.6 5.5l.6 4.9l.6 4.2l.6 3.5l.6 2.8l.6 2l.6 1.3l.6 .6l.6 -.2l.6 -1l.6 -1.7l.6 -2.5l.6 -3.2l.6 -3.8l.6 -4.6l.6 -5.2l.6 -5.7l.6 -6.4l.6 -6.8l.6 -7.3l.6 -7.6l.6 -8.1l.6 -8.3l.6 -8.5l.6 -8.7l.6 -8.8l.6 -8.8l.6 -8.7l.6 -8.7l.6 -8.5l.6 -8.3l.6 -7.9l.6 -7.7l.6 -7.2l.6 -6.7l.6 -6.3l.6 -5.7l.6 -5l.6 -4.5l.6 -3.8l.6 -3.1l.6 -2.3l.6 -1.7l.6 -.8l.6 -.2l.6 .7l.6 1.4l.6 2.1l.6 2.8l.6 3.6l.6 4.2l.6 4.9l.6 5.4l.6 6.1l.6 6.5l.6 7.1l.6 7.5l.6 7.8l.6 8.1l.6 8.4l.6 8.6l.6 8.7l.6 8.8l.6 8.7l.6 8.7l.6 8.6l.6 8.3l.6 8.1l.6 7.8l.6 7.4l.6 7l.6 6.5l.6 6l.6 5.4l.6 4.8l.6 4.1l.6 3.5l.6 2.8l.6 2l.6 1.3l.6 .6l.6 -.2l.6 -.9l.6 -1.7l.6 -2.4l.6 -3.1l.6 -3.8l.6 -4.5l.6 -5.1l.6 -5.7l.6 -6.2l.6 -6.7l.6 -7.2l.6 -7.6l.6 -7.9l.6 -8.2l.6 -8.4l.6 -8.6l.6 -8.7l.6 -8.7l.6 -8.8l.6 -8.6l.6 -8.4l.6 -8.3l.6 -8l.6 -7.6l.6 -7.3l.6 -6.8l.6 -6.3l.6 -5.8l.6 -5.2l.6 -4.6l.6 -3.9l.6 -3.2l.6 -2.6l.6 -1.8l.6 -1.1l.6 -.4l.6 .4l.6 1.1l.6 1.9l.6 2.5l.6 3.3l.6 4l.6 4.6l.6 5.2l.6 5.8l.6 6.3l.6 6.8l.6 7.2l.6 7.6l.6 8l.6 8.2l.6 8.4l.6 8.6l.6 8.7l.6 8.7l.6 8.7l.6 8.5l.6 8.4l.6 8.2l.6 7.9l.6 7.5l.6 7.2l.6 6.7l.6 6.2l.6 5.7l.6 5.1l.6 4.4l.6 3.9l.6 3.1l.6 2.5l.6 1.7l.6 1l.6 .3l.6 -.5l.6 -1.2l.6 -1.9l.6 -2.6l.6 -3.4l.6 -4l.6 -4.6l.6 -5.2l.6 -5.8l.6 -6.4l.6 -6.8l.6 -7.2l.6 -7.6l.6 -8l.6 -8.2l.6 -8.4l.6 -8.5l.6 -8.7l.6 -8.6l.6 -8.7l.6 -8.5l.6 -8.3l.6 -8.2l.6 -7.8l.6 -7.5l.6 -7.1l.6 -6.7l.6 -6.2l.6 -5.7l.6 -5l.6 -4.5l.6 -3.8l.6 -3.2l.6 -2.4l.6 -1.8l.6 -1l.6 -.3l.6 .4l.6 1.2l.6 1.9l.6 2.6l.6 3.3l.6 3.9l.6 4.6l.6 5.2l.6 5.7l.6 6.3l.6 6.7l.6 7.2l.6 7.5l.6 7.9l.6 8.2l.6 8.3l.6 8.5l.6 8.6l.6 8.7l.6 8.6l.6 8.4l.6 8.4l.6 8.1l.6 7.9l.6 7.5l.6 7.2l.6 6.7l.6 6.2l.6 5.7l.6 5.2l.6 4.5l.6 3.9l.6 3.3l.6 2.5l.6 1.9l.6 1.2l.6 .4l.6 -.3l.6 -1l.6 -1.8l.6 -2.4l.6 -3.1l.6 -3.8l.6 -4.4l.6 -5.1l.6 -5.6l.6 -6.1l.6 -6.6l.6 -7l.6 -7.5l.6 -7.7l.6 -8.1l.6 -8.3l.6 -8.4l.6 -8.6l.6 -8.6l.6 -8.5l.6 -8.5l.6 -8.4l.6 -8.1l.6 -7.9l.6 -7.6l.6 -7.3l.6 -6.8l.6 -6.4l.6 -5.8l.6 -5.3l.6 -4.7l.6 -4.1l.6 -3.5l.6 -2.8l.6 -2.1l.6 -1.4l.6 -.6l.6 0l.6 .8l.6 1.5l.6 2.1l.6 2.9l.6 3.5l.6 4.2l.6 4.8l.6 5.4l.6 5.9l.6 6.4l.6 6.8l.6 7.3l.6 7.6l.6 7.9l.6 8.2l.6 8.3l.6 8.5l.6 8.5l.6 8.6l.6 8.5l.6 8.4l.6 8.2l.6 8l.6 7.7l.6 7.4l.6 7l.6 6.5l.6 6.1l.6 5.5l.6 5l.6 4.4l.6 3.7l.6 3.1l.6 2.4l.6 1.8l.6 1l.6 .3l.6 -.4l.6 -1.1l.6 -1.8l.6 -2.5l.6 -3.2l.6 -3.8l.6 -4.5l.6 -5l.6 -5.6l.6 -6.1l.6 -6.6l.6 -7l.6 -7.4l.6 -7.7l.6 -8l.6 -8.2l.6 -8.4l.6 -8.5l.6 -8.5l.6 -8.5l.6 -8.4l.6 -8.3l.6 -8.1l.6 -7.9l.6 -7.5l.6 -7.2l.6 -6.8l.6 -6.4l.6 -5.8l.6 -5.3l.6 -4.8l.6 -4.1l.6 -3.5l.6 -2.8l.6 -2.2l.6 -1.5l.6 -.8l.6 0l.6 .6l.6 1.3l.6 2.1l.6 2.7l.6 3.3l.6 4l.6 4.7l.6 5.2l.6 5.7l.6 6.2l.6 6.7l.6 7.1l.6 7.5l.6 7.7l.6 8l.6 8.3l.6 8.3l.6 8.5l.6 8.5l.6 8.4l.6 8.4l.6 8.2l.6 8l.6 7.8l.6 7.4l.6 7.1l.6 6.7l.6 6.2l.6 5.7l.6 5.2l.6 4.6l.6 4l.6 3.3l.6 2.7l.6 2l.6 1.4l.6 .6l.6 0l.6 -.8l.6 -1.4l.6 -2.2l.6 -2.8l.6 -3.4l.6 -4.1l.6 -4.7l.6 -5.2l.6 -5.8l.6 -6.3l.6 -6.7l.6 -7.1l.6 -7.5l.6 -7.7l.6 -8l.6 -8.2l.6 -8.4l.6 -8.4l.6 -8.5l.6 -8.4l.6 -8.3l.6 -8.1l.6 -8l.6 -7.7l.6 -7.4l.6 -7l.6 -6.6l.6 -6.2l.6 -5.7l.6 -5.1l.6 -4.5l.6 -4l.6 -3.3l.6 -2.7l.6 -2l.6 -1.3l.6 -.6l.6 0l.6 .8l.6 1.4l.6 2.1l.6 2.8l.6 3.5l.6 4l.6 4.7l.6 5.2l.6 5.7l.6 6.2l.6 6.7l.6 7.1l.6 7.4l.6 7.7l.6 8l.6 8.2l.6 8.3l.6 8.3l.6 8.4l.6 8.4l.6 8.3l.6 8.2l.6 7.9l.6 7.7l.6 7.4l.6 7l.6 6.6l.6 6.2l.6 5.7l.6 5.2l.6 4.6l.6 4l.6 3.4l.6 2.8l.6 2l.6 1.5l.6 .7l.6 0l.6 -.6l.6 -1.3l.6 -2l.6 -2.7l.6 -3.3l.6 -3.9l.6 -4.6l.6 -5.1l.6 -5.6l.6 -6.1l.6 -6.5l.6 -7l.6 -7.3l.6 -7.6l.6 -7.9l.6 -8.1l.6 -8.2l.6 -8.4l.6 -8.3l.6 -8.4l.6 -8.3l.6 -8.1l.6 -8l.6 -7.7l.6 -7.5l.6 -7.1l.6 -6.7l.6 -6.3l.6 -5.8l.6 -5.3l.6 -4.7l.6 -4.2l.6 -3.6l.6 -2.9l.6 -2.3l.6 -1.6l.6 -.9l.6 -.3l.6 .4l.6 1.1l.6 1.8l.6 2.4l.6 3.1l.6 3.7l.6 4.3l.6 4.9l.6 5.4l.6 5.9l.6 6.4l.6 6.7l.6 7.2l.6 7.5l.6 7.7l.6 8l.6 8.2l.6 8.2l.6 8.4l.6 8.3l.6 8.3l.6 8.1l.6 8l.6 7.9l.6 7.5l.6 7.2l.6 6.9l.6 6.4l.6 6l.6 5.5l.6 5l.6 4.4l.6 3.9l.6 3.2l.6 2.6l.6 1.9l.6 1.3l.6 .6l.6 -.1l.6 -.8l.6 -1.4l.6 -2.1l.6 -2.8l.6 -3.3l.6 -4l.6 -4.6l.6 -5.1l.6 -5.6l.6 -6.1l.6 -6.5l.6 -6.9l.6 -7.3l.6 -7.6l.6 -7.8l.6 -8l.6 -8.2l.6 -8.3l.6 -8.3l.6 -8.2l.6 -8.2l.6 -8.1l.6 -7.9l.6 -7.7l.6 -7.4l.6 -7l.6 -6.7l.6 -6.3l.6 -5.7l.6 -5.3l.6 -4.8l.6 -4.2l.6 -3.6l.6 -3l.6 -2.3l.6 -1.7l.6 -1l.6 -.4l.6 .3l.6 1l.6 1.6l.6 2.3l.6 2.9l.6 3.6l.6 4.1l.6 4.7l.6 5.3l.6 5.7l.6 6.2l.6 6.6l.6 7l.6 7.3l.6 7.7l.6 7.8l.6 8l.6 8.2l.6 8.2l.6 8.3l.6 8.2l.6 8.2l.6 8l.6 7.8l.6 7.6l.6 7.2l.6 7l.6 6.6l.6 6.1l.6 5.7l.6 5.1l.6 4.6l.6 4.1l.6 3.5l.6 2.8l.6 2.3l.6 1.5l.6 .9l.6 .3l.6 -.4l.6 -1.1l.6 -1.7l.6 -2.4l.6 -3l.6 -3.6l.6 -4.2l.6 -4.7l.6 -5.3l.6 -5.8l.6 -6.2l.6 -6.6l.6 -7l.6 -7.4l.6 -7.6l.6 -7.8l.6 -8l.6 -8.1l.6 -8.2l.6 -8.3l.6 -8.2l.6 -8.1l.6 -7.9l.6 -7.8l.6 -7.5l.6 -7.2l.6 -6.9l.6 -6.6l.6 -6.1l.6 -5.6l.6 -5.1l.6 -4.6l.6 -4l.6 -3.5l.6 -2.8l.6 -2.2l.6 -1.6l.6 -.9l.6 -.3l.6 .4l.6 1.1l.6 1.7l.6 2.3l.6 3l.6 3.5l.6 4.2l.6 4.7l.6 5.2l.6 5.7l.6 6.2l.6 6.5l.6 7l.6 7.3l.6 7.5l.6 7.8l.6 7.9l.6 8.1l.6 8.2l.6 8.2l.6 8.1l.6 8.1l.6 8l.6 7.7l.6 7.5l.6 7.3l.6 6.9l.6 6.5l.6 6.2l.6 5.6l.6 5.2l.6 4.7l.6 4.1l.6 3.5l.6 3l.6 2.3l.6 1.7l.6 1l.6 .4l.6 -.3l.6 -.9l.6 -1.5l.6 -2.2l.6 -2.9l.6 -3.4l.6 -4l.6 -4.5l.6 -5.1l.6 -5.6l.6 -6l.6 -6.5l.6 -6.8l.6 -7.1l.6 -7.5l.6 -7.7l.6 -7.8l.6 -8.1l.6 -8.1l.6 -8.1l.6 -8.1l.6 -8.1l.6 -8l.6 -7.8l.6 -7.5l.6 -7.3l.6 -7l.6 -6.7l.6 -6.2l.6 -5.8l.6 -5.3l.6 -4.9l.6 -4.2l.6 -3.8l.6 -3.1l.6 -2.5l.6 -1.9l.6 -1.3l.6 -.6l.6 0l.6 .7l.6 1.3l.6 1.9l.6 2.6l.6 3.1l.6 3.8l.6 4.3l.6 4.8l.6 5.4l.6 5.8l.6 6.2l.6 6.7l.6 6.9l.6 7.3l.6 7.6l.6 7.7l.6 8l.6 8l.6 8.1l.6 8.1l.6 8.1l.6 7.9l.6 7.9l.6 7.6l.6 7.4l.6 7.1l.6 6.8l.6 6.4l.6 6.1l.6 5.5l.6 5.1l.6 4.5l.6 4l.6 3.5l.6 2.8l.6 2.3l.6 1.6l.6 1l.6 .3l.6 -.3l.6 -.9l.6 -1.6l.6 -2.2l.6 -2.8l.6 -3.4l.6 -3.9l.6 -4.6l.6 -5l.6 -5.5l.6 -5.9l.6 -6.4l.6 -6.7l.6 -7.1l.6 -7.4l.6 -7.6l.6 -7.7l.6 -8l.6 -8l.6 -8.1l.6 -8l.6 -8l.6 -7.9l.6 -7.8l.6 -7.5l.6 -7.3l.6 -7l.6 -6.6l.6 -6.3l.6 -5.8l.6 -5.4l.6 -4.9l.6 -4.4l.6 -3.8l.6 -3.3l.6 -2.7l.6 -2l.6 -1.5l.6 -.8l.6 -.2l.6 .5l.6 1.1l.6 1.7l.6 2.3l.6 2.9l.6 3.5l.6 4.1l.6 4.6l.6 5.1l.6 5.5l.6 6l.6 6.5l.6 6.7l.6 7.1l.6 7.4l.6 7.6l.6 7.8l.6 7.9l.6 8l.6 8l.6 8l.6 8l.6 7.8l.6 7.7l.6 7.5l.6 7.2l.6 6.9l.6 6.6l.6 6.2l.6 5.7l.6 5.3l.6 4.9l.6 4.3l.6 3.7"/><path id="k2" d="M213.5 540.3l.6 -1.5l.6 -2.3l.6 -3.2l.6 -4.1l.6 -4.9l.6 -5.6l.6 -6.4l.6 -7l.6 -7.7l.6 -8.1l.6 -8.6l.6 -9l.6 -9.3l.6 -9.5l.6 -9.6l.6 -9.7l.6 -9.6l.6 -9.5l.6 -9.2l.6 -9l.6 -8.5l.6 -8.2l.6 -7.5l.6 -7l.6 -6.3l.6 -5.6l.6 -4.8l.6 -4l.6 -3.2l.6 -2.3l.6 -1.3l.6 -.5l.6 .4l.6 1.4l.6 2.3l.6 3.1l.6 4l.6 4.8l.6 5.5l.6 6.3l.6 6.9l.6 7.6l.6 8.1l.6 8.5l.6 8.9l.6 9.2l.6 9.5l.6 9.5l.6 9.7l.6 9.6l.6 9.4l.6 9.3l.6 9l.6 8.6l.6 8.1l.6 7.7l.6 7l.6 6.4l.6 5.7l.6 5l.6 4.1l.6 3.3l.6 2.4l.6 1.5l.6 .7l.6 -.3l.6 -1.2l.6 -2.1l.6 -2.9l.6 -3.8l.6 -4.6l.6 -5.4l.6 -6.1l.6 -6.8l.6 -7.4l.6 -8l.6 -8.4l.6 -8.8l.6 -9.1l.6 -9.4l.6 -9.5l.6 -9.6l.6 -9.6l.6 -9.5l.6 -9.3l.6 -9l.6 -8.7l.6 -8.2l.6 -7.8l.6 -7.2l.6 -6.5l.6 -5.9l.6 -5.1l.6 -4.4l.6 -3.5l.6 -2.6l.6 -1.8l.6 -.9l.6 0l.6 .9l.6 1.9l.6 2.6l.6 3.6l.6 4.3l.6 5.2l.6 5.9l.6 6.5l.6 7.2l.6 7.8l.6 8.2l.6 8.7l.6 9l.6 9.3l.6 9.4l.6 9.6l.6 9.6l.6 9.5l.6 9.3l.6 9.1l.6 8.8l.6 8.4l.6 7.9l.6 7.4l.6 6.7l.6 6.1l.6 5.4l.6 4.6l.6 3.9l.6 2.9l.6 2.1l.6 1.3l.6 .3l.6 -.6l.6 -1.4l.6 -2.4l.6 -3.2l.6 -4l.6 -4.8l.6 -5.6l.6 -6.3l.6 -6.9l.6 -7.5l.6 -8l.6 -8.5l.6 -8.8l.6 -9.2l.6 -9.3l.6 -9.5l.6 -9.6l.6 -9.5l.6 -9.4l.6 -9.1l.6 -9l.6 -8.5l.6 -8.1l.6 -7.6l.6 -7.1l.6 -6.4l.6 -5.7l.6 -4.9l.6 -4.2l.6 -3.4l.6 -2.5l.6 -1.7l.6 -.7l.6 .1l.6 1l.6 1.9l.6 2.8l.6 3.6l.6 4.4l.6 5.2l.6 5.9l.6 6.5l.6 7.2l.6 7.8l.6 8.2l.6 8.6l.6 9l.6 9.2l.6 9.4l.6 9.5l.6 9.5l.6 9.4l.6 9.3l.6 9.1l.6 8.7l.6 8.3l.6 7.9l.6 7.4l.6 6.7l.6 6.1l.6 5.4l.6 4.6l.6 3.8l.6 3.1l.6 2.1l.6 1.3l.6 .4l.6 -.5l.6 -1.4l.6 -2.2l.6 -3.1l.6 -3.9l.6 -4.7l.6 -5.4l.6 -6.2l.6 -6.8l.6 -7.4l.6 -7.9l.6 -8.3l.6 -8.8l.6 -9l.6 -9.3l.6 -9.4l.6 -9.5l.6 -9.4l.6 -9.4l.6 -9.2l.6 -8.9l.6 -8.6l.6 -8.1l.6 -7.7l.6 -7.1l.6 -6.6l.6 -5.8l.6 -5.1l.6 -4.4l.6 -3.6l.6 -2.7l.6 -1.9l.6 -1l.6 -.1l.6 .7l.6 1.6l.6 2.5l.6 3.3l.6 4.1l.6 4.9l.6 5.7l.6 6.3l.6 6.9l.6 7.5l.6 8l.6 8.5l.6 8.8l.6 9.1l.6 9.2l.6 9.4l.6 9.5l.6 9.4l.6 9.3l.6 9.1l.6 8.8l.6 8.5l.6 8l.6 7.6l.6 6.9l.6 6.4l.6 5.7l.6 4.9l.6 4.2l.6 3.4l.6 2.6l.6 1.7l.6 .8l.6 0l.6 -.9l.6 -1.8l.6 -2.7l.6 -3.4l.6 -4.3l.6 -5l.6 -5.7l.6 -6.4l.6 -7l.6 -7.6l.6 -8.1l.6 -8.4l.6 -8.8l.6 -9.1l.6 -9.3l.6 -9.4l.6 -9.4l.6 -9.4l.6 -9.2l.6 -9.1l.6 -8.7l.6 -8.4l.6 -8l.6 -7.4l.6 -6.9l.6 -6.3l.6 -5.6l.6 -4.8l.6 -4.1l.6 -3.3l.6 -2.5l.6 -1.6l.6 -.7l.6 .1l.6 1l.6 1.8l.6 2.7l.6 3.5l.6 4.3l.6 5l.6 5.8l.6 6.4l.6 7.1l.6 7.5l.6 8.1l.6 8.4l.6 8.9l.6 9l.6 9.3l.6 9.3l.6 9.4l.6 9.4l.6 9.2l.6 9l.6 8.7l.6 8.3l.6 8l.6 7.4l.6 6.8l.6 6.3l.6 5.6l.6 4.8l.6 4.1l.6 3.3l.6 2.4l.6 1.7l.6 .7l.6 -.1l.6 -.9l.6 -1.8l.6 -2.7l.6 -3.5l.6 -4.2l.6 -5l.6 -5.7l.6 -6.4l.6 -7l.6 -7.5l.6 -8l.6 -8.4l.6 -8.8l.6 -9l.6 -9.2l.6 -9.4l.6 -9.3l.6 -9.3l.6 -9.2l.6 -9l.6 -8.7l.6 -8.4l.6 -7.9l.6 -7.5l.6 -6.9l.6 -6.3l.6 -5.6l.6 -4.9l.6 -4.2l.6 -3.3l.6 -2.6l.6 -1.7l.6 -.9l.6 0l.6 .8l.6 1.7l.6 2.6l.6 3.3l.6 4.2l.6 4.8l.6 5.6l.6 6.3l.6 6.8l.6 7.5l.6 7.9l.6 8.3l.6 8.7l.6 8.9l.6 9.2l.6 9.3l.6 9.3l.6 9.3l.6 9.2l.6 9l.6 8.7l.6 8.5l.6 8l.6 7.5l.6 7l.6 6.4l.6 5.7l.6 5.1l.6 4.3l.6 3.5l.6 2.8l.6 1.9l.6 1.1l.6 .2l.6 -.7l.6 -1.4l.6 -2.4l.6 -3.1l.6 -3.9l.6 -4.7l.6 -5.4l.6 -6.1l.6 -6.6l.6 -7.3l.6 -7.7l.6 -8.2l.6 -8.6l.6 -8.9l.6 -9l.6 -9.3l.6 -9.3l.6 -9.2l.6 -9.2l.6 -9.1l.6 -8.8l.6 -8.5l.6 -8.1l.6 -7.7l.6 -7.1l.6 -6.6l.6 -5.9l.6 -5.3l.6 -4.6l.6 -3.7l.6 -3l.6 -2.2l.6 -1.4l.6 -.5l.6 .3l.6 1.2l.6 2l.6 2.9l.6 3.6l.6 4.4l.6 5.1l.6 5.8l.6 6.4l.6 7.1l.6 7.5l.6 8l.6 8.4l.6 8.7l.6 9l.6 9.1l.6 9.3l.6 9.3l.6 9.2l.6 9.1l.6 8.9l.6 8.6l.6 8.2l.6 7.8l.6 7.4l.6 6.8l.6 6.2l.6 5.6l.6 4.8l.6 4.1l.6 3.4l.6 2.5l.6 1.8l.6 .9l.6 0l.6 -.8l.6 -1.6l.6 -2.4l.6 -3.3l.6 -4l.6 -4.8l.6 -5.4l.6 -6.1l.6 -6.7l.6 -7.3l.6 -7.8l.6 -8.1l.6 -8.6l.6 -8.8l.6 -9l.6 -9.2l.6 -9.3l.6 -9.2l.6 -9.1l.6 -9l.6 -8.7l.6 -8.4l.6 -8.1l.6 -7.6l.6 -7.1l.6 -6.5l.6 -5.9l.6 -5.2l.6 -4.5l.6 -3.8l.6 -3l.6 -2.2l.6 -1.4l.6 -.5l.6 .3l.6 1.1l.6 2l.6 2.8l.6 3.5l.6 4.3l.6 5.1l.6 5.7l.6 6.3l.6 6.9l.6 7.5l.6 7.9l.6 8.3l.6 8.6l.6 8.9l.6 9.1l.6 9.1l.6 9.2l.6 9.2l.6 9.1l.6 8.8l.6 8.6l.6 8.3l.6 7.9l.6 7.4l.6 6.8l.6 6.3l.6 5.7l.6 5l.6 4.3l.6 3.5l.6 2.7l.6 1.9l.6 1.1l.6 .3l.6 -.6l.6 -1.4l.6 -2.2l.6 -2.9l.6 -3.8l.6 -4.5l.6 -5.2l.6 -5.9l.6 -6.5l.6 -7l.6 -7.6l.6 -8l.6 -8.3l.6 -8.7l.6 -8.9l.6 -9.1l.6 -9.2l.6 -9.1l.6 -9.2l.6 -8.9l.6 -8.8l.6 -8.5l.6 -8.2l.6 -7.7l.6 -7.3l.6 -6.7l.6 -6.1l.6 -5.5l.6 -4.9l.6 -4.1l.6 -3.3l.6 -2.5l.6 -1.8l.6 -.9l.6 -.1l.6 .7l.6 1.5l.6 2.3l.6 3.2l.6 3.9l.6 4.6l.6 5.3l.6 6l.6 6.5l.6 7.1l.6 7.6l.6 8l.6 8.4l.6 8.7l.6 8.9l.6 9.1l.6 9.1l.6 9.2l.6 9l.6 9l.6 8.7l.6 8.4l.6 8.1l.6 7.7l.6 7.2l.6 6.6l.6 6l.6 5.5l.6 4.7l.6 4l.6 3.3l.6 2.4l.6 1.7l.6 .9l.6 0l.6 -.8l.6 -1.5l.6 -2.4l.6 -3.2l.6 -3.9l.6 -4.7l.6 -5.3l.6 -6l.6 -6.5l.6 -7.1l.6 -7.6l.6 -8l.6 -8.4l.6 -8.7l.6 -8.9l.6 -9l.6 -9.1l.6 -9.1l.6 -9.1l.6 -8.9l.6 -8.6l.6 -8.5l.6 -8l.6 -7.6l.6 -7.2l.6 -6.6l.6 -6.1l.6 -5.4l.6 -4.7l.6 -4l.6 -3.3l.6 -2.5l.6 -1.7l.6 -.9l.6 0l.6 .7l.6 1.5l.6 2.4l.6 3.1l.6 3.9l.6 4.6l.6 5.2l.6 5.9l.6 6.6l.6 7l.6 7.5l.6 8l.6 8.3l.6 8.6l.6 8.8l.6 9l.6 9.1l.6 9.1l.6 9l.6 8.9l.6 8.7l.6 8.4l.6 8.1l.6 7.6l.6 7.2l.6 6.7l.6 6.1l.6 5.5l.6 4.8l.6 4.1l.6 3.4l.6 2.5l.6 1.9l.6 1l.6 .2l.6 -.6l.6 -1.4l.6 -2.2l.6 -3l.6 -3.7l.6 -4.5l.6 -5.1l.6 -5.8l.6 -6.4l.6 -6.9l.6 -7.4l.6 -7.9l.6 -8.2l.6 -8.5l.6 -8.8l.6 -8.9l.6 -9l.6 -9.1l.6 -9l.6 -8.9l.6 -8.7l.6 -8.5l.6 -8.1l.6 -7.7l.6 -7.3l.6 -6.8l.6 -6.2l.6 -5.6l.6 -5l.6 -4.3l.6 -3.5l.6 -2.8l.6 -2l.6 -1.3l.6 -.4l.6 .4l.6 1.2l.6 1.9l.6 2.8l.6 3.5l.6 4.2l.6 4.9l.6 5.6l.6 6.1l.6 6.8l.6 7.2l.6 7.7l.6 8.1l.6 8.4l.6 8.7l.6 8.8l.6 9l.6 9l.6 9l.6 8.9l.6 8.8l.6 8.5l.6 8.2l.6 7.9l.6 7.4l.6 7l.6 6.4l.6 5.8l.6 5.2l.6 4.5l.6 3.9l.6 3l.6 2.3l.6 1.6l.6 .7l.6 0l.6 -.9l.6 -1.6l.6 -2.4l.6 -3.2l.6 -3.9l.6 -4.6l.6 -5.3l.6 -5.9l.6 -6.5l.6 -7l.6 -7.5l.6 -7.9l.6 -8.2l.6 -8.5l.6 -8.8l.6 -8.9l.6 -8.9l.6 -9l.6 -9l.6 -8.8l.6 -8.6l.6 -8.3l.6 -8l.6 -7.7l.6 -7.1l.6 -6.7l.6 -6.1l.6 -5.5l.6 -4.9l.6 -4.1l.6 -3.5l.6 -2.7l.6 -1.9l.6 -1.1l.6 -.4l.6 .4l.6 1.3l.6 2l.6 2.7l.6 3.5l.6 4.2l.6 4.9l.6 5.6l.6 6.1l.6 6.7l.6 7.2l.6 7.7l.6 8l.6 8.3l.6 8.6l.6 8.8l.6 8.9l.6 9l.6 8.9l.6 8.9l.6 8.7l.6 8.5l.6 8.1l.6 7.9l.6 7.4l.6 7l.6 6.4l.6 5.9l.6 5.2l.6 4.6l.6 3.9l.6 3.1l.6 2.4l.6 1.7l.6 .9l.6 0l.6 -.7l.6 -1.5l.6 -2.2l.6 -3l.6 -3.8l.6 -4.4l.6 -5.1l.6 -5.7l.6 -6.3l.6 -6.8l.6 -7.4l.6 -7.7l.6 -8.1l.6 -8.4l.6 -8.6l.6 -8.8l.6 -8.9l.6 -9l.6 -8.9l.6 -8.7l.6 -8.7l.6 -8.3l.6 -8.1l.6 -7.7l.6 -7.3l.6 -6.8l.6 -6.3l.6 -5.6l.6 -5.1l.6 -4.4l.6 -3.7l.6 -3l.6 -2.2l.6 -1.5l.6 -.6l.6 .1l.6 .8l.6 1.7l.6 2.4l.6 3.1l.6 3.9l.6 4.6l.6 5.2l.6 5.8l.6 6.4l.6 6.9l.6 7.4l.6 7.7l.6 8.2l.6 8.4l.6 8.6l.6 8.8l.6 8.9l.6 8.9l.6 8.8l.6 8.8l.6 8.5l.6 8.3l.6 8l.6 7.7l.6 7.2l.6 6.7l.6 6.1l.6 5.6l.6 5l.6 4.3l.6 3.6l.6 2.9l.6 2.1l.6 1.4l.6 .6l.6 -.2l.6 -1l.6 -1.7l.6 -2.4l.6 -3.2l.6 -4l.6 -4.5l.6 -5.3l.6 -5.8l.6 -6.4l.6 -6.9l.6 -7.4l.6 -7.8l.6 -8.1l.6 -8.4l.6 -8.6l.6 -8.8l.6 -8.8l.6 -8.9l.6 -8.8l.6 -8.7l.6 -8.5l.6 -8.3l.6 -8l.6 -7.6l.6 -7.1l.6 -6.7l.6 -6.1l.6 -5.6l.6 -5l.6 -4.2l.6 -3.6l.6 -2.9l.6 -2.2l.6 -1.3l.6 -.7l.6 .2l.6 .9l.6 1.7l.6 2.4l.6 3.2l.6 3.9l.6 4.5l.6 5.2l.6 5.8l.6 6.3l.6 6.9l.6 7.3l.6 7.7l.6 8.1l.6 8.3l.6 8.6l.6 8.7l.6 8.8l.6 8.9l.6 8.8l.6 8.6l.6 8.6l.6 8.2l.6 8l.6 7.6l.6 7.2l.6 6.7l.6 6.2l.6 5.6l.6 5l.6 4.4l.6 3.7l.6 3l.6 2.2l.6 1.5l.6 .7l.6 0l.6 -.8l.6 -1.6l.6 -2.3l.6 -3l.6 -3.7l.6 -4.4l.6 -5.1l.6 -5.6l.6 -6.3l.6 -6.7l.6 -7.2l.6 -7.6l.6 -8l.6 -8.3l.6 -8.4l.6 -8.7l.6 -8.8l.6 -8.8l.6 -8.8l.6 -8.6l.6 -8.6l.6 -8.3l.6 -8l.6 -7.7l.6 -7.2l.6 -6.9l.6 -6.3l.6 -5.7l.6 -5.2l.6 -4.5l.6 -3.9l.6 -3.1l.6 -2.4l.6 -1.7l.6 -1l.6 -.2l.6 .6l.6 1.3l.6 2.1l.6 2.8l.6 3.5l.6 4.2l.6 4.8l.6 5.5l.6 6l.6 6.6l.6 7l.6 7.4l.6 7.9l.6 8.1l.6 8.4l.6 8.6l.6 8.7l.6 8.8l.6 8.7l.6 8.7l.6 8.6l.6 8.3l.6 8.1l.6 7.8l.6 7.4l.6 7l.6 6.5l.6 5.9l.6 5.4l.6 4.8l.6 4.1l.6 3.4l.6 2.7l.6 2l.6 1.3l.6 .5l.6 -.3l.6 -1l.6 -1.7l.6 -2.5l.6 -3.2l.6 -3.9l.6 -4.5l.6 -5.2l.6 -5.7l.6 -6.3l.6 -6.8l.6 -7.2l.6 -7.7l.6 -7.9l.6 -8.3l.6 -8.5l.6 -8.6l.6 -8.7l.6 -8.7l.6 -8.8l.6 -8.6l.6 -8.4l.6 -8.2l.6 -7.9l.6 -7.6l.6 -7.2l.6 -6.7l.6 -6.2l.6 -5.7l.6 -5l.6 -4.5l.6 -3.8l.6 -3.1l.6 -2.3l.6 -1.7l.6 -.9l.6 -.2l.6 .6l.6 1.3l.6 2.1l.6 2.8l.6 3.4l.6 4.2l.6 4.8l.6 5.4l.6 5.9l.6 6.5l.6 7l.6 7.4l.6 7.7l.6 8.1l.6 8.3l.6 8.5l.6 8.6l.6 8.7l.6 8.7l.6 8.7l.6 8.5l.6 8.3l.6 8.1l.6 7.8l.6 7.4l.6 7l.6 6.5l.6 6l.6 5.4l.6 4.9l.6 4.2l.6 3.5l.6 2.9l.6 2.1l.6 1.5l.6 .6l.6 0l.6 -.8l.6 -1.6l.6 -2.2l.6 -3l.6 -3.7l.6 -4.3l.6 -4.9l.6 -5.6l.6 -6.1l.6 -6.6l.6 -7l.6 -7.5l.6 -7.8l.6 -8.1l.6 -8.3l.6 -8.5l.6 -8.6l.6 -8.7l.6 -8.7l.6 -8.6l.6 -8.4l.6 -8.3l.6 -8l.6 -7.6l.6 -7.3l.6 -6.9l.6 -6.4l.6 -5.9l.6 -5.3l.6 -4.7l.6 -4l.6 -3.4l.6 -2.8l.6 -2l.6 -1.2l.6 -.6l.6 .2l.6 .9l.6 1.7l.6 2.4l.6 3l.6 3.8l.6 4.4l.6 5l.6 5.6l.6 6.1l.6 6.7l.6 7.1l.6 7.4l.6 7.8l.6 8.1l.6 8.4l.6 8.5l.6 8.6l.6 8.6l.6 8.6l.6 8.6l.6 8.4l.6 8.2l.6 7.9l.6 7.6l.6 7.3l.6 6.8l.6 6.3l.6 5.8l.6 5.3l.6 4.6l.6 4l.6 3.4l.6 2.7l.6 1.9l.6 1.3l.6 .5l.6 -.2l.6 -1l.6 -1.7l.6 -2.3l.6 -3.1l.6 -3.8l.6 -4.3l.6 -5l.6 -5.6l.6 -6.1l.6 -6.6l.6 -7.1l.6 -7.4l.6 -7.8l.6 -8.1l.6 -8.3l.6 -8.4l.6 -8.6l.6 -8.6l.6 -8.6l.6 -8.5l.6 -8.4l.6 -8.2l.6 -7.9l.6 -7.6l.6 -7.2l.6 -6.8l.6 -6.4l.6 -5.8l.6 -5.3l.6 -4.7l.6 -4l.6 -3.4l.6 -2.8l.6 -2l.6 -1.3l.6 -.6l.6 .2l.6 .8l.6 1.6l.6 2.3l.6 3l.6 3.6l.6 4.3l.6 4.9l.6 5.5l.6 6l.6 6.6l.6 6.9l.6 7.4l.6 7.7l.6 8l.6 8.2l.6 8.4l.6 8.5l.6 8.6l.6 8.6l.6 8.5l.6 8.3l.6 8.2l.6 8l.6 7.6l.6 7.3l.6 6.9l.6 6.4l.6 5.9l.6 5.4l.6 4.8l.6 4.2l.6 3.5l.6 2.9l.6 2.2l.6 1.4l.6 .8l.6 0l.6 -.7l.6 -1.4l.6 -2.1l.6 -2.7l.6 -3.5l.6 -4.1l.6 -4.7l.6 -5.3l.6 -5.9l.6 -6.3l.6 -6.9l.6 -7.2l.6 -7.6l.6 -7.8l.6 -8.2l.6 -8.3l.6 -8.5l.6 -8.5l.6 -8.5l.6 -8.5l.6 -8.4l.6 -8.2l.6 -8l.6 -7.8l.6 -7.3l.6 -7l.6 -6.6l.6 -6.1l.6 -5.5l.6 -5l.6 -4.4l.6 -3.8l.6 -3.1l.6 -2.4l.6 -1.8l.6 -1l.6 -.3l.6 .4l.6 1.1l.6 1.8l.6 2.5l.6 3.2l.6 3.8l.6 4.5l.6 5l.6 5.6l.6 6.2l.6 6.6l.6 7l.6 7.4l.6 7.7l.6 8l.6 8.2l.6 8.4l.6 8.5l.6 8.5l.6 8.5l.6 8.4l.6 8.3l.6 8.1l.6 7.8l.6 7.5l.6 7.2l.6 6.7l.6 6.3l.6 5.8l.6 5.3l.6 4.7l.6 4l.6 3.5l.6 2.7l.6 2.1l.6 1.4l.6 .7l.6 0l.6 -.7l.6 -1.5l.6 -2.1l.6 -2.8l.6 -3.4l.6 -4.1l.6 -4.7l.6 -5.3l.6 -5.8l.6 -6.3l.6 -6.8l.6 -7.1l.6 -7.5l.6 -7.9l.6 -8l.6 -8.3l.6 -8.4l.6 -8.4l.6 -8.5l.6 -8.4l.6 -8.4l.6 -8.2l.6 -7.9l.6 -7.7l.6 -7.4l.6 -7l.6 -6.5l.6 -6.1l.6 -5.6l.6 -5.1l.6 -4.4l.6 -3.9l.6 -3.2l.6 -2.5l.6 -1.9l.6 -1.1l.6 -.5l.6 .3l.6 .9l.6 1.6l.6 2.4l.6 2.9l.6 3.7l.6 4.2l.6 4.9l.6 5.4l.6 5.9l.6 6.4l.6 6.9l.6 7.2l.6 7.6l.6 7.8l.6 8.1l.6 8.3l.6 8.4l.6 8.4l.6 8.5l.6 8.3l.6 8.3l.6 8.1l.6 7.9l.6 7.6l.6 7.2l.6 6.9l.6 6.5l.6 5.9l.6 5.5l.6 4.9l.6 4.3l.6 3.7l.6 3.1l.6 2.4l.6 1.7l.6 1.1l.6 .3l.6 -.4l.6 -1l.6 -1.8l.6 -2.4l.6 -3.1l.6 -3.7l.6 -4.3l.6 -4.9l.6 -5.5l.6 -6l.6 -6.4l.6 -6.9l.6 -7.2l.6 -7.6l.6 -7.8l.6 -8.1l.6 -8.3l.6 -8.3l.6 -8.4l.6 -8.4l.6 -8.4l.6 -8.2l.6 -8.1l.6 -7.8l.6 -7.5l.6 -7.2l.6 -6.9l.6 -6.3l.6 -6l.6 -5.4l.6 -4.8l.6 -4.3l.6 -3.7l.6 -3l.6 -2.4l.6 -1.7l.6 -1l.6 -.3l.6 .4l.6 1l.6 1.8l.6 2.4l.6 3.1l.6 3.7l.6 4.3l.6 4.9l.6 5.4l.6 5.9l.6 6.5l.6 6.8l.6 7.2l.6 7.5l.6 7.8l.6 8.1l.6 8.2l.6 8.3l.6 8.4l.6 8.3l.6 8.4l.6 8.2l.6 8l.6 7.8l.6 7.5l.6 7.2l.6 6.9l.6 6.4l.6 5.9l.6 5.5l.6 4.9l.6 4.3l.6 3.7l.6 3.1l.6 2.4l.6 1.8l.6 1.1l.6 .4l.6 -.3l.6 -.9l.6 -1.7l.6 -2.3l.6 -3l.6 -3.6l.6 -4.2l.6 -4.7l.6 -5.4l.6 -5.8l.6 -6.3l.6 -6.7l.6 -7.2l.6 -7.4l.6 -7.7l.6 -8l.6 -8.1l.6 -8.3l.6 -8.3l.6 -8.4l.6 -8.3l.6 -8.2l.6 -8l.6 -7.9l.6 -7.5l.6 -7.3l.6 -6.9l.6 -6.5l.6 -6l.6 -5.6l.6 -5l.6 -4.4l.6 -3.9l.6 -3.2l.6 -2.6l.6 -2l.6 -1.3l.6 -.6l.6 .1l.6 .8l.6 1.4l.6 2.1l.6 2.8l.6 3.4l.6 4l.6 4.6l.6 5.1l.6 5.7l.6 6.1l.6 6.6l.6 6.9l.6 7.3l.6 7.7l.6 7.8l.6 8.1l.6 8.2l.6 8.2l.6 8.4l.6 8.2l.6 8.3l.6 8l.6 7.9l.6 7.7l.6 7.3l.6 7l.6 6.7l.6 6.2l.6 5.7l.6 5.2l.6 4.7l.6 4.1l.6 3.4l.6 2.9l.6 2.2l.6 1.6l.6 .9l.6 .2l.6 -.5l.6 -1.1l.6 -1.8l.6 -2.5l.6 -3.1l.6 -3.7l.6 -4.3l.6 -4.8l.6 -5.4l.6 -5.9l.6 -6.3l.6 -6.8l.6 -7.1l.6 -7.4l.6 -7.7l.6 -8l.6 -8.1l.6 -8.2l.6 -8.3l.6 -8.2l.6 -8.3l.6 -8.1l.6 -7.9l.6 -7.8l.6 -7.5l.6 -7.1l.6 -6.9l.6 -6.4l.6 -5.9l.6 -5.5l.6 -5l.6 -4.4l.6 -3.8l.6 -3.2l.6 -2.6l.6 -1.9l.6 -1.3l.6 -.6l.6 0l.6 .7l.6 1.4l.6 2.1l.6 2.7l.6 3.3l.6 3.9l.6 4.5l.6 5l.6 5.6l.6 6l.6 6.5l.6 6.8l.6 7.2l.6 7.6l.6 7.7l.6 8l.6 8.1l.6 8.2l.6 8.2l.6 8.3l.6 8.1l.6 8.1l.6 7.8l.6 7.7l.6 7.3l.6 7.1l.6 6.7l.6 6.2l.6 5.8l.6 5.4l.6 4.7l.6 4.3l.6 3.6l.6 3.1l.6 2.4l.6 1.7l.6 1.1l.6 .5l.6 -.2l.6 -.9l.6 -1.6l.6 -2.1l.6 -2.9l.6 -3.4l.6 -4l.6 -4.6l.6 -5.1l.6 -5.7l.6 -6.1l.6 -6.5l.6 -6.9l.6 -7.2l.6 -7.6l.6 -7.7l.6 -8l.6 -8.1l.6 -8.2l.6 -8.2l.6 -8.2l.6 -8.1l.6 -8l.6 -7.8l.6 -7.5l.6 -7.3l.6 -7l.6 -6.6l.6 -6.2l.6 -5.7l.6 -5.2l.6 -4.7l.6 -4.2l.6 -3.6l.6 -2.9l.6 -2.4l.6 -1.7l.6 -1l.6 -.4l.6 .3l.6 .9l.6 1.6l.6 2.2l.6 2.9l.6 3.4l.6 4.1l.6 4.6l.6 5.1l.6 5.6l.6 6.1l.6 6.5l.6 6.9l.6 7.2l.6 7.5l.6 7.7l.6 8l.6 8l.6 8.2l.6 8.2l.6 8.1l.6 8.1l.6 7.9l.6 7.8l.6 7.6l.6 7.2l.6 7l.6 6.6l.6 6.2l.6 5.7l.6 5.2l.6 4.7l.6 4.2l.6 3.6l.6 3l.6 2.3l.6 1.8l.6 1.1l.6 .4l.6 -.2l.6 -.9l.6 -1.5l.6 -2.2l.6 -2.7l.6 -3.4l.6 -4l.6 -4.5l.6 -5.1l.6 -5.5l.6 -6l.6 -6.4l.6 -6.8l.6 -7.2l.6 -7.4l.6 -7.7l.6 -7.9l.6 -8l.6 -8.1l.6 -8.1l.6 -8.1l.6 -8.1l.6 -8l.6 -7.7l.6 -7.6l.6 -7.3l.6 -7l.6 -6.6l.6 -6.2l.6 -5.8l.6 -5.3l.6 -4.9l.6 -4.2l.6 -3.7l.6 -3.1l.6 -2.5l.6 -1.9l.6 -1.3l.6 -.5l.6 0l.6 .7l.6 1.4l.6 1.9l.6 2.6l.6 3.3l.6 3.7l.6 4.4l.6 4.9l.6 5.4l.6 5.8l.6 6.3l.6 6.7l.6 7l.6 7.3l.6 7.6l.6 7.8l.6 7.9l.6 8l.6 8.1l.6 8.1l.6 8.1l.6 8l.6 7.8l.6 7.6l.6 7.3l.6 7.1l.6 6.7l.6 6.4l.6 5.9l.6 5.5l.6 5l.6 4.4l.6 4l.6 3.3l.6 2.7l.6 2.1l.6 1.5l.6 .9l.6 .2l.6 -.4l.6 -1.1l.6 -1.7l.6 -2.3l.6 -3l.6 -3.5l.6 -4.1l.6 -4.6l.6 -5.2l.6 -5.6l.6 -6l.6 -6.5l.6 -6.8l.6 -7.2l.6 -7.4l.6 -7.7l.6 -7.8l.6 -8l.6 -8l.6 -8.1l.6 -8l.6 -8l.6 -7.9l.6 -7.7l.6 -7.4l.6 -7.2l.6 -6.9l.6 -6.5l.6 -6.2l.6 -5.7l.6 -5.2l.6 -4.8l.6 -4.1l.6 -3.7l.6 -3l.6 -2.5l.6 -1.8l.6 -1.3l.6 -.5l.6 0l.6 .7l.6 1.3l.6 2l.6 2.5l.6 3.2l.6 3.7l.6 4.3l.6 4.8l.6 5.3l.6 5.8l.6 6.2l.6 6.5l.6 7l.6 7.2l.6 7.5l.6 7.7l.6 7.8l.6 8l.6 8l.6 8l.6 8l.6 7.9l.6 7.8l.6 7.6l.6 7.4l.6 7l.6 6.8l.6 6.4l.6 6l.6 5.5l.6 5.1l.6 4.6l.6 4l.6 3.5l.6 2.9l.6 2.2l.6 1.7l.6 1.1l.6 .4l.6 -.2l.6 -.9l.6 -1.4l.6 -2.1l.6 -2.7l.6 -3.3l.6 -3.8l.6 -4.4l.6 -4.9l.6 -5.3l.6 -5.9l.6 -6.2l.6 -6.6l.6 -7l.6 -7.2l.6 -7.5l.6 -7.7l.6 -7.8l.6 -8l.6 -8l.6 -8l.6 -7.9l.6 -7.9l.6 -7.7l.6 -7.5l.6 -7.3l.6 -7l.6 -6.7l.6 -6.3l.6 -5.9l.6 -5.5l.6 -5l.6 -4.5l.6 -4l.6 -3.4l.6 -2.8l.6 -2.2l.6 -1.6l.6 -1l.6 -.4l.6 .3l.6 .8l.6 1.5l.6 2.1l.6 2.7l.6 3.3l.6 3.9l.6 4.3l.6 4.9l.6 5.4l.6 5.8l.6 6.2l.6 6.6l.6 6.9l.6 7.3l.6 7.4l.6 7.7l.6 7.8l.6 7.9l.6 7.9l.6 8l.6 7.9l.6 7.8l.6 7.7l.6 7.5l.6 7.3l.6 7l.6 6.7l.6 6.3l.6 5.9l.6 5.5l.6 5l.6 4.5l.6 4l.6 3.4l.6 2.9l.6 2.2l.6 1.7l.6 1l.6 .5l.6 -.2l.6 -.8l.6 -1.4l.6 -2l.6 -2.7l.6 -3.2l.6 -3.7l.6 -4.3l.6 -4.8l.6 -5.3l.6 -5.7l.6 -6.1l.6 -6.5l.6 -6.9l.6 -7.1l.6 -7.4l.6 -7.6l.6 -7.7l.6 -7.9l.6 -7.9l.6 -7.9l.6 -7.9l.6 -7.8l.6 -7.7l.6 -7.5l.6 -7.3l.6 -7l.6 -6.8l.6 -6.3l.6 -6l.6 -5.6l.6 -5.1l.6 -4.6l.6 -4.1l.6 -3.6l.6 -3l.6 -2.4l.6 -1.8l.6 -1.2l.6 -.6l.6 0l.6 .6l.6 1.2l.6 1.9l.6 2.4l.6 3l.6 3.6l.6 4.1l.6 4.6l.6 5.1l.6 5.5l.6 6l.6 6.4l.6 6.7l.6 7l.6 7.2l.6 7.5l.6 7.7l.6 7.8l.6 7.8l.6 7.9l.6 7.9l.6 7.8l.6 7.7l.6 7.6l.6 7.3l.6 7.1l.6 6.9l.6 6.4l.6 6.2l.6 5.7l.6 5.3l.6 4.8l.6 4.3l.6 3.8l.6 3.2l.6 2.7l.6 2l.6 1.5l.6 .9l.6 .3l.6 -.3l.6 -1l.6 -1.5l.6 -2.1l.6 -2.8l.6 -3.2l.6 -3.9l.6 -4.3l.6 -4.8l.6 -5.3l.6 -5.8l.6 -6.1l.6 -6.5l.6 -6.8l.6 -7.1l.6 -7.4l.6 -7.5l.6 -7.7l.6 -7.8l.6 -7.8l.6 -7.9l.6 -7.8l.6 -7.7l.6 -7.7l.6 -7.4l.6 -7.2l.6 -7l.6 -6.6l.6 -6.4l.6 -5.9l.6 -5.5l.6 -5.1l.6 -4.6l.6 -4.1l.6 -3.5l.6 -3l.6 -2.5l.6 -1.9l.6 -1.2l.6 -.7l.6 -.1l.6 .6l.6 1.1l.6 1.8l.6 2.3l.6 2.9l.6 3.4l.6 4l.6 4.5l.6 4.9l.6 5.4l.6 5.9l.6 6.2l.6 6.5l.6 6.9l.6 7.2l.6 7.3l.6 7.6l.6 7.6l.6 7.8l.6 7.8l.6 7.9l.6 7.7l.6 7.7l.6 7.6l.6 7.3l.6 7.1l.6 6.9l.6 6.6l.6 6.2l.6 5.8l.6 5.4l.6 5l.6 4.4l.6 4l.6 3.4l.6 2.9l.6 2.4l.6 1.7l.6 1.2l.6 .5l.6 0l.6 -.6l.6 -1.3l.6 -1.8l.6 -2.4l.6 -2.9l.6 -3.5l.6 -4l.6 -4.6l.6 -4.9l.6 -5.5l.6 -5.8l.6 -6.3l.6 -6.5l.6 -6.9l.6 -7.1l.6 -7.4l.6 -7.5l.6 -7.7l.6 -7.7l.6 -7.8l.6 -7.8l.6 -7.7l.6 -7.6l.6 -7.5l.6 -7.3l.6 -7.1l.6 -6.9l.6 -6.5l.6 -6.1l.6 -5.8l.6 -5.4l.6 -4.9l.6 -4.5l.6 -3.9l.6 -3.4l.6 -2.9l.6 -2.3l.6 -1.8l.6 -1.2l.6 -.5l.6 0l.6 .6l.6 1.2l.6 1.8l.6 2.3l.6 2.9l.6 3.5l.6 4l.6 4.4l.6 5l.6 5.4l.6 5.8l.6 6.1l.6 6.5l.6 6.8l.6 7.1l.6 7.3l.6 7.5l.6 7.6l.6 7.7l.6 7.7l.6 7.8l.6 7.7l.6 7.6l.6 7.5l.6 7.3l.6 7.1l.6 6.8l.6 6.6l.6 6.2l.6 5.8l.6 5.4l.6 5l.6 4.5l.6 4l.6 3.5l.6 3l.6 2.4l.6 1.9l.6 1.3l.6 .7l.6 .1l.6 -.5l.6 -1.1l.6 -1.6l.6 -2.2l.6 -2.8l.6 -3.3l.6 -3.8l.6 -4.4l.6 -4.8l.6 -5.2l.6 -5.7l.6 -6l.6 -6.4l.6 -6.7l.6 -7l.6 -7.2l.6 -7.3l.6 -7.6l.6 -7.6l.6 -7.7l.6 -7.7l.6 -7.7l.6 -7.6l.6 -7.5l.6 -7.4l.6 -7.1l.6 -6.9l.6 -6.6l.6 -6.3l.6 -5.9l.6 -5.6l.6 -5.1l.6 -4.7l.6 -4.2l.6 -3.7l.6 -3.1l.6 -2.6l.6 -2.1l.6 -1.5"/><path id="k3" d="M213.5 537.4l.6 2l.6 1.1l.6 .3l.6 -.7l.6 -1.6l.6 -2.5l.6 -3.3l.6 -4.2l.6 -5l.6 -5.7l.6 -6.4l.6 -7.1l.6 -7.6l.6 -8.2l.6 -8.6l.6 -9l.6 -9.2l.6 -9.5l.6 -9.5l.6 -9.6l.6 -9.6l.6 -9.4l.6 -9.2l.6 -8.9l.6 -8.5l.6 -8l.6 -7.5l.6 -6.9l.6 -6.3l.6 -5.5l.6 -4.8l.6 -3.9l.6 -3.2l.6 -2.2l.6 -1.4l.6 -.5l.6 .4l.6 1.4l.6 2.2l.6 3l.6 4l.6 4.7l.6 5.5l.6 6.2l.6 6.8l.6 7.5l.6 8l.6 8.4l.6 8.9l.6 9.1l.6 9.4l.6 9.5l.6 9.6l.6 9.5l.6 9.4l.6 9.3l.6 8.9l.6 8.7l.6 8.1l.6 7.7l.6 7.1l.6 6.5l.6 5.8l.6 5l.6 4.3l.6 3.4l.6 2.6l.6 1.7l.6 .8l.6 -.1l.6 -.9l.6 -1.9l.6 -2.7l.6 -3.6l.6 -4.4l.6 -5.2l.6 -5.9l.6 -6.6l.6 -7.2l.6 -7.7l.6 -8.3l.6 -8.6l.6 -9l.6 -9.3l.6 -9.4l.6 -9.5l.6 -9.6l.6 -9.4l.6 -9.3l.6 -9.1l.6 -8.8l.6 -8.3l.6 -7.9l.6 -7.4l.6 -6.7l.6 -6.1l.6 -5.4l.6 -4.6l.6 -3.8l.6 -3l.6 -2.1l.6 -1.2l.6 -.4l.6 .5l.6 1.5l.6 2.3l.6 3.1l.6 4l.6 4.8l.6 5.5l.6 6.2l.6 6.9l.6 7.5l.6 7.9l.6 8.5l.6 8.8l.6 9.1l.6 9.3l.6 9.4l.6 9.6l.6 9.4l.6 9.4l.6 9.2l.6 8.9l.6 8.6l.6 8.1l.6 7.6l.6 7.1l.6 6.5l.6 5.7l.6 5.1l.6 4.2l.6 3.5l.6 2.6l.6 1.7l.6 .9l.6 0l.6 -.9l.6 -1.8l.6 -2.6l.6 -3.5l.6 -4.3l.6 -5.1l.6 -5.8l.6 -6.4l.6 -7.1l.6 -7.7l.6 -8.1l.6 -8.5l.6 -8.9l.6 -9.2l.6 -9.3l.6 -9.5l.6 -9.5l.6 -9.4l.6 -9.3l.6 -9.1l.6 -8.7l.6 -8.4l.6 -8l.6 -7.4l.6 -6.8l.6 -6.2l.6 -5.6l.6 -4.7l.6 -4l.6 -3.2l.6 -2.3l.6 -1.5l.6 -.6l.6 .3l.6 1.2l.6 2l.6 2.9l.6 3.7l.6 4.5l.6 5.3l.6 6l.6 6.6l.6 7.2l.6 7.8l.6 8.2l.6 8.6l.6 9l.6 9.1l.6 9.4l.6 9.5l.6 9.4l.6 9.4l.6 9.2l.6 8.9l.6 8.7l.6 8.3l.6 7.8l.6 7.2l.6 6.7l.6 6.1l.6 5.3l.6 4.6l.6 3.8l.6 3l.6 2.1l.6 1.3l.6 .4l.6 -.5l.6 -1.3l.6 -2.2l.6 -3.1l.6 -3.8l.6 -4.7l.6 -5.3l.6 -6.1l.6 -6.7l.6 -7.3l.6 -7.8l.6 -8.3l.6 -8.7l.6 -8.9l.6 -9.2l.6 -9.4l.6 -9.4l.6 -9.4l.6 -9.3l.6 -9.2l.6 -8.9l.6 -8.6l.6 -8.1l.6 -7.8l.6 -7.1l.6 -6.6l.6 -6l.6 -5.2l.6 -4.5l.6 -3.7l.6 -2.9l.6 -2l.6 -1.2l.6 -.3l.6 .6l.6 1.4l.6 2.3l.6 3.1l.6 3.9l.6 4.7l.6 5.4l.6 6.1l.6 6.7l.6 7.3l.6 7.9l.6 8.2l.6 8.7l.6 8.9l.6 9.2l.6 9.3l.6 9.4l.6 9.4l.6 9.3l.6 9.1l.6 8.9l.6 8.5l.6 8.2l.6 7.6l.6 7.2l.6 6.5l.6 5.9l.6 5.2l.6 4.5l.6 3.7l.6 2.9l.6 2l.6 1.2l.6 .3l.6 -.6l.6 -1.4l.6 -2.2l.6 -3.1l.6 -3.9l.6 -4.6l.6 -5.4l.6 -6.1l.6 -6.7l.6 -7.3l.6 -7.7l.6 -8.3l.6 -8.6l.6 -8.9l.6 -9.1l.6 -9.3l.6 -9.4l.6 -9.3l.6 -9.3l.6 -9.1l.6 -8.9l.6 -8.5l.6 -8.1l.6 -7.7l.6 -7.2l.6 -6.6l.6 -5.9l.6 -5.3l.6 -4.5l.6 -3.8l.6 -2.9l.6 -2.1l.6 -1.3l.6 -.4l.6 .4l.6 1.3l.6 2.2l.6 3l.6 3.7l.6 4.6l.6 5.2l.6 6l.6 6.6l.6 7.2l.6 7.7l.6 8.1l.6 8.5l.6 8.9l.6 9l.6 9.3l.6 9.3l.6 9.3l.6 9.3l.6 9.1l.6 8.9l.6 8.6l.6 8.2l.6 7.7l.6 7.3l.6 6.6l.6 6.1l.6 5.4l.6 4.6l.6 3.9l.6 3.1l.6 2.3l.6 1.5l.6 .6l.6 -.3l.6 -1.1l.6 -1.9l.6 -2.8l.6 -3.6l.6 -4.3l.6 -5.1l.6 -5.8l.6 -6.4l.6 -7l.6 -7.5l.6 -8l.6 -8.4l.6 -8.8l.6 -9l.6 -9.2l.6 -9.2l.6 -9.3l.6 -9.3l.6 -9.1l.6 -8.9l.6 -8.7l.6 -8.3l.6 -7.9l.6 -7.3l.6 -6.9l.6 -6.2l.6 -5.6l.6 -4.9l.6 -4.1l.6 -3.3l.6 -2.6l.6 -1.7l.6 -.9l.6 0l.6 .8l.6 1.7l.6 2.5l.6 3.2l.6 4.1l.6 4.8l.6 5.5l.6 6.2l.6 6.8l.6 7.3l.6 7.8l.6 8.3l.6 8.6l.6 8.9l.6 9l.6 9.3l.6 9.2l.6 9.3l.6 9.1l.6 9l.6 8.8l.6 8.4l.6 8l.6 7.6l.6 7l.6 6.5l.6 5.8l.6 5.2l.6 4.4l.6 3.7l.6 2.9l.6 2.1l.6 1.2l.6 .4l.6 -.4l.6 -1.3l.6 -2.1l.6 -2.9l.6 -3.7l.6 -4.5l.6 -5.2l.6 -5.8l.6 -6.5l.6 -7.1l.6 -7.5l.6 -8.1l.6 -8.4l.6 -8.7l.6 -9l.6 -9.1l.6 -9.2l.6 -9.3l.6 -9.1l.6 -9.1l.6 -8.8l.6 -8.6l.6 -8.2l.6 -7.8l.6 -7.3l.6 -6.8l.6 -6.1l.6 -5.5l.6 -4.8l.6 -4.1l.6 -3.3l.6 -2.5l.6 -1.7l.6 -.9l.6 0l.6 .8l.6 1.6l.6 2.5l.6 3.2l.6 4.1l.6 4.7l.6 5.5l.6 6.1l.6 6.7l.6 7.2l.6 7.8l.6 8.1l.6 8.5l.6 8.8l.6 9.1l.6 9.1l.6 9.2l.6 9.2l.6 9.1l.6 9l.6 8.7l.6 8.4l.6 8l.6 7.6l.6 7.1l.6 6.5l.6 6l.6 5.2l.6 4.5l.6 3.8l.6 3.1l.6 2.2l.6 1.4l.6 .6l.6 -.3l.6 -1l.6 -1.9l.6 -2.8l.6 -3.4l.6 -4.3l.6 -4.9l.6 -5.7l.6 -6.3l.6 -6.8l.6 -7.4l.6 -7.8l.6 -8.3l.6 -8.5l.6 -8.9l.6 -9l.6 -9.2l.6 -9.1l.6 -9.2l.6 -9l.6 -8.9l.6 -8.6l.6 -8.3l.6 -7.9l.6 -7.5l.6 -6.9l.6 -6.4l.6 -5.7l.6 -5l.6 -4.4l.6 -3.6l.6 -2.8l.6 -2.1l.6 -1.2l.6 -.4l.6 .4l.6 1.3l.6 2l.6 2.9l.6 3.6l.6 4.4l.6 5.1l.6 5.7l.6 6.4l.6 6.9l.6 7.5l.6 7.9l.6 8.3l.6 8.6l.6 8.8l.6 9l.6 9.2l.6 9.1l.6 9.1l.6 9l.6 8.8l.6 8.6l.6 8.2l.6 7.8l.6 7.3l.6 6.9l.6 6.2l.6 5.7l.6 4.9l.6 4.3l.6 3.5l.6 2.7l.6 2l.6 1.1l.6 .3l.6 -.5l.6 -1.3l.6 -2.2l.6 -2.9l.6 -3.7l.6 -4.4l.6 -5.1l.6 -5.8l.6 -6.4l.6 -7l.6 -7.4l.6 -7.9l.6 -8.3l.6 -8.6l.6 -8.8l.6 -9l.6 -9.1l.6 -9.1l.6 -9.1l.6 -9l.6 -8.7l.6 -8.5l.6 -8.2l.6 -7.8l.6 -7.3l.6 -6.8l.6 -6.2l.6 -5.6l.6 -5l.6 -4.2l.6 -3.5l.6 -2.7l.6 -1.9l.6 -1.2l.6 -.3l.6 .5l.6 1.3l.6 2.1l.6 2.9l.6 3.7l.6 4.4l.6 5l.6 5.8l.6 6.3l.6 6.9l.6 7.4l.6 7.9l.6 8.2l.6 8.5l.6 8.8l.6 9l.6 9.1l.6 9.1l.6 9l.6 8.9l.6 8.8l.6 8.5l.6 8.2l.6 7.8l.6 7.3l.6 6.8l.6 6.3l.6 5.7l.6 5l.6 4.3l.6 3.5l.6 2.8l.6 2.1l.6 1.2l.6 .4l.6 -.4l.6 -1.2l.6 -2l.6 -2.8l.6 -3.5l.6 -4.3l.6 -4.9l.6 -5.6l.6 -6.3l.6 -6.8l.6 -7.3l.6 -7.7l.6 -8.2l.6 -8.4l.6 -8.7l.6 -8.9l.6 -9.1l.6 -9l.6 -9.1l.6 -8.9l.6 -8.8l.6 -8.5l.6 -8.2l.6 -7.9l.6 -7.4l.6 -6.9l.6 -6.4l.6 -5.7l.6 -5.2l.6 -4.4l.6 -3.8l.6 -2.9l.6 -2.2l.6 -1.5l.6 -.6l.6 .2l.6 1l.6 1.8l.6 2.6l.6 3.3l.6 4l.6 4.8l.6 5.4l.6 6.1l.6 6.6l.6 7.1l.6 7.6l.6 8l.6 8.4l.6 8.6l.6 8.8l.6 9l.6 9l.6 9.1l.6 8.9l.6 8.8l.6 8.6l.6 8.3l.6 7.9l.6 7.6l.6 7l.6 6.6l.6 5.9l.6 5.4l.6 4.7l.6 3.9l.6 3.3l.6 2.4l.6 1.7l.6 .9l.6 .1l.6 -.6l.6 -1.5l.6 -2.3l.6 -3l.6 -3.8l.6 -4.5l.6 -5.1l.6 -5.8l.6 -6.4l.6 -6.9l.6 -7.4l.6 -7.8l.6 -8.2l.6 -8.5l.6 -8.7l.6 -8.9l.6 -9l.6 -9l.6 -8.9l.6 -8.9l.6 -8.6l.6 -8.4l.6 -8.1l.6 -7.7l.6 -7.3l.6 -6.8l.6 -6.2l.6 -5.6l.6 -5l.6 -4.2l.6 -3.6l.6 -2.8l.6 -2.1l.6 -1.3l.6 -.5l.6 .3l.6 1.1l.6 1.9l.6 2.6l.6 3.4l.6 4.1l.6 4.8l.6 5.4l.6 6.1l.6 6.6l.6 7.1l.6 7.6l.6 8l.6 8.3l.6 8.6l.6 8.7l.6 8.9l.6 9l.6 9l.6 8.9l.6 8.7l.6 8.5l.6 8.3l.6 7.9l.6 7.5l.6 7l.6 6.5l.6 6l.6 5.3l.6 4.7l.6 4l.6 3.2l.6 2.6l.6 1.7l.6 1l.6 .2l.6 -.6l.6 -1.4l.6 -2.2l.6 -2.9l.6 -3.6l.6 -4.4l.6 -5l.6 -5.7l.6 -6.2l.6 -6.8l.6 -7.2l.6 -7.7l.6 -8.1l.6 -8.4l.6 -8.6l.6 -8.8l.6 -8.9l.6 -8.9l.6 -9l.6 -8.8l.6 -8.6l.6 -8.4l.6 -8.1l.6 -7.8l.6 -7.3l.6 -6.9l.6 -6.3l.6 -5.8l.6 -5.1l.6 -4.5l.6 -3.8l.6 -3l.6 -2.3l.6 -1.6l.6 -.7l.6 0l.6 .8l.6 1.6l.6 2.3l.6 3.1l.6 3.8l.6 4.5l.6 5.2l.6 5.8l.6 6.3l.6 6.9l.6 7.3l.6 7.8l.6 8.1l.6 8.4l.6 8.6l.6 8.8l.6 8.9l.6 8.9l.6 8.9l.6 8.8l.6 8.5l.6 8.4l.6 8l.6 7.7l.6 7.2l.6 6.7l.6 6.3l.6 5.6l.6 5l.6 4.3l.6 3.7l.6 2.9l.6 2.2l.6 1.4l.6 .7l.6 -.2l.6 -.9l.6 -1.7l.6 -2.4l.6 -3.2l.6 -3.8l.6 -4.6l.6 -5.2l.6 -5.8l.6 -6.4l.6 -6.9l.6 -7.4l.6 -7.8l.6 -8.1l.6 -8.4l.6 -8.6l.6 -8.8l.6 -8.8l.6 -8.9l.6 -8.8l.6 -8.7l.6 -8.6l.6 -8.3l.6 -7.9l.6 -7.7l.6 -7.1l.6 -6.7l.6 -6.2l.6 -5.6l.6 -5l.6 -4.3l.6 -3.6l.6 -2.9l.6 -2.1l.6 -1.4l.6 -.7l.6 .2l.6 .9l.6 1.7l.6 2.4l.6 3.2l.6 3.8l.6 4.6l.6 5.2l.6 5.7l.6 6.4l.6 6.9l.6 7.3l.6 7.7l.6 8.1l.6 8.3l.6 8.6l.6 8.8l.6 8.8l.6 8.8l.6 8.8l.6 8.7l.6 8.6l.6 8.2l.6 8l.6 7.6l.6 7.2l.6 6.7l.6 6.2l.6 5.6l.6 5l.6 4.4l.6 3.7l.6 2.9l.6 2.2l.6 1.5l.6 .7l.6 0l.6 -.8l.6 -1.6l.6 -2.3l.6 -3.1l.6 -3.8l.6 -4.4l.6 -5.1l.6 -5.7l.6 -6.2l.6 -6.8l.6 -7.2l.6 -7.7l.6 -8l.6 -8.3l.6 -8.5l.6 -8.7l.6 -8.7l.6 -8.9l.6 -8.7l.6 -8.7l.6 -8.5l.6 -8.3l.6 -8.1l.6 -7.6l.6 -7.3l.6 -6.8l.6 -6.2l.6 -5.8l.6 -5.1l.6 -4.5l.6 -3.8l.6 -3.1l.6 -2.4l.6 -1.6l.6 -.9l.6 -.2l.6 .7l.6 1.4l.6 2.1l.6 2.8l.6 3.6l.6 4.3l.6 4.9l.6 5.5l.6 6.1l.6 6.6l.6 7l.6 7.5l.6 7.9l.6 8.2l.6 8.4l.6 8.6l.6 8.8l.6 8.7l.6 8.8l.6 8.7l.6 8.6l.6 8.3l.6 8.1l.6 7.7l.6 7.4l.6 6.9l.6 6.5l.6 5.9l.6 5.3l.6 4.7l.6 4l.6 3.4l.6 2.6l.6 1.9l.6 1.2l.6 .4l.6 -.3l.6 -1.1l.6 -1.9l.6 -2.6l.6 -3.2l.6 -4l.6 -4.6l.6 -5.3l.6 -5.8l.6 -6.4l.6 -6.9l.6 -7.3l.6 -7.7l.6 -8l.6 -8.3l.6 -8.5l.6 -8.7l.6 -8.7l.6 -8.7l.6 -8.8l.6 -8.5l.6 -8.5l.6 -8.1l.6 -7.9l.6 -7.5l.6 -7.2l.6 -6.6l.6 -6.1l.6 -5.6l.6 -5l.6 -4.3l.6 -3.7l.6 -3l.6 -2.3l.6 -1.5l.6 -.8l.6 0l.6 .7l.6 1.4l.6 2.2l.6 2.9l.6 3.6l.6 4.3l.6 4.9l.6 5.5l.6 6.1l.6 6.6l.6 7l.6 7.5l.6 7.8l.6 8.1l.6 8.4l.6 8.6l.6 8.6l.6 8.7l.6 8.8l.6 8.6l.6 8.5l.6 8.3l.6 8l.6 7.7l.6 7.4l.6 6.9l.6 6.4l.6 5.9l.6 5.3l.6 4.8l.6 4l.6 3.4l.6 2.7l.6 2l.6 1.3l.6 .5l.6 -.2l.6 -1l.6 -1.7l.6 -2.5l.6 -3.1l.6 -3.8l.6 -4.5l.6 -5.1l.6 -5.7l.6 -6.2l.6 -6.7l.6 -7.2l.6 -7.5l.6 -7.9l.6 -8.2l.6 -8.4l.6 -8.6l.6 -8.6l.6 -8.7l.6 -8.7l.6 -8.5l.6 -8.5l.6 -8.2l.6 -7.9l.6 -7.6l.6 -7.2l.6 -6.7l.6 -6.3l.6 -5.7l.6 -5.2l.6 -4.5l.6 -3.9l.6 -3.3l.6 -2.5l.6 -1.8l.6 -1.1l.6 -.3l.6 .4l.6 1.1l.6 1.9l.6 2.6l.6 3.3l.6 3.9l.6 4.6l.6 5.2l.6 5.7l.6 6.3l.6 6.8l.6 7.2l.6 7.6l.6 8l.6 8.1l.6 8.4l.6 8.6l.6 8.6l.6 8.7l.6 8.6l.6 8.5l.6 8.4l.6 8.1l.6 7.9l.6 7.5l.6 7.1l.6 6.7l.6 6.1l.6 5.7l.6 5.1l.6 4.4l.6 3.8l.6 3.2l.6 2.4l.6 1.7l.6 1l.6 .3l.6 -.5l.6 -1.2l.6 -1.9l.6 -2.6l.6 -3.3l.6 -4l.6 -4.6l.6 -5.2l.6 -5.8l.6 -6.3l.6 -6.8l.6 -7.2l.6 -7.6l.6 -7.9l.6 -8.1l.6 -8.4l.6 -8.5l.6 -8.6l.6 -8.7l.6 -8.5l.6 -8.5l.6 -8.4l.6 -8.1l.6 -7.8l.6 -7.5l.6 -7.1l.6 -6.6l.6 -6.2l.6 -5.6l.6 -5.1l.6 -4.4l.6 -3.8l.6 -3.2l.6 -2.4l.6 -1.8l.6 -1l.6 -.3l.6 .4l.6 1.2l.6 1.9l.6 2.5l.6 3.3l.6 3.9l.6 4.6l.6 5.1l.6 5.7l.6 6.3l.6 6.7l.6 7.1l.6 7.5l.6 7.9l.6 8.1l.6 8.3l.6 8.5l.6 8.6l.6 8.6l.6 8.5l.6 8.5l.6 8.3l.6 8.1l.6 7.8l.6 7.5l.6 7.2l.6 6.7l.6 6.2l.6 5.7l.6 5.1l.6 4.5l.6 3.9l.6 3.3l.6 2.5l.6 1.9l.6 1.2l.6 .4l.6 -.3l.6 -1l.6 -1.7l.6 -2.5l.6 -3.1l.6 -3.7l.6 -4.4l.6 -5.1l.6 -5.5l.6 -6.1l.6 -6.6l.6 -7l.6 -7.5l.6 -7.7l.6 -8l.6 -8.3l.6 -8.4l.6 -8.5l.6 -8.6l.6 -8.5l.6 -8.5l.6 -8.3l.6 -8.1l.6 -7.9l.6 -7.6l.6 -7.2l.6 -6.8l.6 -6.3l.6 -5.9l.6 -5.2l.6 -4.7l.6 -4.1l.6 -3.5l.6 -2.7l.6 -2.1l.6 -1.4l.6 -.6l.6 0l.6 .8l.6 1.5l.6 2.2l.6 2.8l.6 3.6l.6 4.1l.6 4.8l.6 5.4l.6 5.9l.6 6.4l.6 6.8l.6 7.2l.6 7.6l.6 7.9l.6 8.2l.6 8.3l.6 8.4l.6 8.6l.6 8.5l.6 8.5l.6 8.3l.6 8.2l.6 8l.6 7.7l.6 7.3l.6 6.9l.6 6.6l.6 6l.6 5.5l.6 4.9l.6 4.4l.6 3.7l.6 3.1l.6 2.3l.6 1.7l.6 1l.6 .3l.6 -.4l.6 -1.2l.6 -1.8l.6 -2.6l.6 -3.2l.6 -3.8l.6 -4.5l.6 -5l.6 -5.6l.6 -6.2l.6 -6.6l.6 -7l.6 -7.4l.6 -7.7l.6 -8l.6 -8.2l.6 -8.3l.6 -8.5l.6 -8.5l.6 -8.5l.6 -8.4l.6 -8.2l.6 -8.1l.6 -7.8l.6 -7.5l.6 -7.1l.6 -6.8l.6 -6.3l.6 -5.8l.6 -5.2l.6 -4.7l.6 -4.1l.6 -3.4l.6 -2.8l.6 -2.1l.6 -1.4l.6 -.7l.6 0l.6 .7l.6 1.4l.6 2.1l.6 2.8l.6 3.4l.6 4.1l.6 4.6l.6 5.3l.6 5.7l.6 6.3l.6 6.7l.6 7.1l.6 7.5l.6 7.8l.6 8l.6 8.3l.6 8.3l.6 8.5l.6 8.4l.6 8.5l.6 8.3l.6 8.2l.6 7.9l.6 7.7l.6 7.4l.6 7l.6 6.6l.6 6.1l.6 5.7l.6 5l.6 4.5l.6 3.9l.6 3.3l.6 2.6l.6 1.9l.6 1.2l.6 .6l.6 -.2l.6 -.9l.6 -1.5l.6 -2.3l.6 -2.9l.6 -3.5l.6 -4.2l.6 -4.8l.6 -5.3l.6 -5.9l.6 -6.3l.6 -6.8l.6 -7.2l.6 -7.5l.6 -7.8l.6 -8l.6 -8.2l.6 -8.4l.6 -8.4l.6 -8.4l.6 -8.4l.6 -8.3l.6 -8.1l.6 -7.9l.6 -7.6l.6 -7.3l.6 -7l.6 -6.5l.6 -6l.6 -5.5l.6 -5l.6 -4.4l.6 -3.8l.6 -3.2l.6 -2.5l.6 -1.9l.6 -1.1l.6 -.5l.6 .2l.6 1l.6 1.6l.6 2.3l.6 2.9l.6 3.6l.6 4.2l.6 4.8l.6 5.4l.6 5.8l.6 6.4l.6 6.7l.6 7.2l.6 7.5l.6 7.8l.6 8l.6 8.2l.6 8.3l.6 8.4l.6 8.4l.6 8.3l.6 8.3l.6 8.1l.6 7.8l.6 7.6l.6 7.3l.6 6.9l.6 6.5l.6 6l.6 5.5l.6 5l.6 4.4l.6 3.8l.6 3.2l.6 2.5l.6 1.9l.6 1.2l.6 .5l.6 -.2l.6 -.9l.6 -1.6l.6 -2.2l.6 -2.9l.6 -3.5l.6 -4.2l.6 -4.7l.6 -5.3l.6 -5.8l.6 -6.2l.6 -6.7l.6 -7.1l.6 -7.5l.6 -7.7l.6 -7.9l.6 -8.2l.6 -8.3l.6 -8.3l.6 -8.4l.6 -8.3l.6 -8.2l.6 -8.1l.6 -7.9l.6 -7.6l.6 -7.3l.6 -6.9l.6 -6.5l.6 -6.1l.6 -5.6l.6 -5.1l.6 -4.5l.6 -3.9l.6 -3.3l.6 -2.6l.6 -2l.6 -1.3l.6 -.6l.6 0l.6 .7l.6 1.5l.6 2l.6 2.8l.6 3.4l.6 3.9l.6 4.6l.6 5.2l.6 5.6l.6 6.1l.6 6.6l.6 7l.6 7.3l.6 7.6l.6 7.9l.6 8.1l.6 8.2l.6 8.3l.6 8.3l.6 8.3l.6 8.2l.6 8.1l.6 7.9l.6 7.7l.6 7.4l.6 7l.6 6.6l.6 6.2l.6 5.8l.6 5.2l.6 4.7l.6 4l.6 3.5l.6 2.9l.6 2.2l.6 1.5l.6 .9l.6 .2l.6 -.5l.6 -1.2l.6 -1.8l.6 -2.5l.6 -3.1l.6 -3.8l.6 -4.3l.6 -4.9l.6 -5.4l.6 -5.9l.6 -6.4l.6 -6.8l.6 -7.2l.6 -7.4l.6 -7.8l.6 -7.9l.6 -8.2l.6 -8.2l.6 -8.3l.6 -8.3l.6 -8.2l.6 -8.1l.6 -8l.6 -7.8l.6 -7.4l.6 -7.2l.6 -6.8l.6 -6.4l.6 -5.9l.6 -5.5l.6 -4.9l.6 -4.3l.6 -3.8l.6 -3.1l.6 -2.6l.6 -1.8l.6 -1.2l.6 -.6l.6 .2l.6 .8l.6 1.5l.6 2.1l.6 2.8l.6 3.4l.6 4l.6 4.6l.6 5.1l.6 5.6l.6 6.1l.6 6.6l.6 6.9l.6 7.3l.6 7.5l.6 7.8l.6 8l.6 8.2l.6 8.2l.6 8.3l.6 8.2l.6 8.2l.6 8l.6 7.9l.6 7.6l.6 7.3l.6 7l.6 6.6l.6 6.2l.6 5.8l.6 5.2l.6 4.7l.6 4.1l.6 3.6l.6 2.9l.6 2.3l.6 1.6l.6 1l.6 .3l.6 -.4l.6 -1l.6 -1.7l.6 -2.3l.6 -3l.6 -3.5l.6 -4.2l.6 -4.7l.6 -5.3l.6 -5.7l.6 -6.3l.6 -6.6l.6 -7l.6 -7.3l.6 -7.6l.6 -7.9l.6 -8l.6 -8.1l.6 -8.2l.6 -8.2l.6 -8.2l.6 -8.1l.6 -8l.6 -7.8l.6 -7.5l.6 -7.2l.6 -6.9l.6 -6.5l.6 -6.1l.6 -5.6l.6 -5.1l.6 -4.6l.6 -4l.6 -3.4l.6 -2.8l.6 -2.1l.6 -1.5l.6 -.9l.6 -.2l.6 .5l.6 1.1l.6 1.8l.6 2.4l.6 3.1l.6 3.6l.6 4.3l.6 4.7l.6 5.3l.6 5.8l.6 6.3l.6 6.6l.6 7l.6 7.4l.6 7.6l.6 7.8l.6 8l.6 8.1l.6 8.2l.6 8.2l.6 8.1l.6 8.1l.6 7.9l.6 7.7l.6 7.5l.6 7.2l.6 6.8l.6 6.5l.6 6l.6 5.6l.6 5l.6 4.6l.6 3.9l.6 3.4l.6 2.7l.6 2.2l.6 1.5l.6 .8l.6 .2l.6 -.5l.6 -1.1l.6 -1.8l.6 -2.4l.6 -3l.6 -3.7l.6 -4.2l.6 -4.7l.6 -5.3l.6 -5.8l.6 -6.2l.6 -6.6l.6 -6.9l.6 -7.3l.6 -7.6l.6 -7.8l.6 -7.9l.6 -8.1l.6 -8.1l.6 -8.2l.6 -8.1l.6 -8.1l.6 -7.9l.6 -7.7l.6 -7.4l.6 -7.2l.6 -6.9l.6 -6.4l.6 -6.1l.6 -5.6l.6 -5.1l.6 -4.5l.6 -4l.6 -3.5l.6 -2.8l.6 -2.2l.6 -1.6l.6 -.9l.6 -.3l.6 .4l.6 1l.6 1.7l.6 2.3l.6 2.9l.6 3.5l.6 4.1l.6 4.6l.6 5.2l.6 5.6l.6 6.1l.6 6.5l.6 6.9l.6 7.2l.6 7.5l.6 7.7l.6 7.9l.6 8l.6 8.1l.6 8.1l.6 8.1l.6 8l.6 7.9l.6 7.8l.6 7.5l.6 7.2l.6 6.9l.6 6.5l.6 6.2l.6 5.7l.6 5.2l.6 4.7l.6 4.2l.6 3.5l.6 3l.6 2.4l.6 1.8l.6 1.1l.6 .5l.6 -.2l.6 -.8l.6 -1.5l.6 -2l.6 -2.7l.6 -3.3l.6 -3.9l.6 -4.5l.6 -4.9l.6 -5.5l.6 -5.9l.6 -6.3l.6 -6.7l.6 -7.1l.6 -7.3l.6 -7.6l.6 -7.8l.6 -7.9l.6 -8.1l.6 -8.1l.6 -8.1l.6 -8l.6 -7.9l.6 -7.8l.6 -7.6l.6 -7.3l.6 -7l.6 -6.7l.6 -6.3l.6 -5.8l.6 -5.4l.6 -5l.6 -4.3l.6 -3.9l.6 -3.2l.6 -2.7l.6 -2l.6 -1.5l.6 -.7l.6 -.2l.6 .5l.6 1.2l.6 1.7l.6 2.4l.6 3l.6 3.6l.6 4.1l.6 4.7l.6 5.2l.6 5.6l.6 6.1l.6 6.5l.6 6.8l.6 7.2l.6 7.4l.6 7.7l.6 7.8l.6 8l.6 8l.6 8.1l.6 8l.6 8l.6 7.8l.6 7.7l.6 7.4l.6 7.2l.6 6.8l.6 6.5l.6 6.1l.6 5.7l.6 5.2l.6 4.7l.6 4.2l.6 3.6l.6 3l.6 2.4l.6 1.8l.6 1.2l.6 .6l.6 -.1l.6 -.7l.6 -1.4l.6 -2l.6 -2.5l.6 -3.2l.6 -3.8l.6 -4.2l.6 -4.9l.6 -5.3l.6 -5.7l.6 -6.2l.6 -6.6l.6 -6.9l.6 -7.2l.6 -7.5l.6 -7.7l.6 -7.8l.6 -8l.6 -8l.6 -8l.6 -8l.6 -7.9l.6 -7.8l.6 -7.5l.6 -7.4l.6 -7l.6 -6.8l.6 -6.4l.6 -6l.6 -5.5l.6 -5.1l.6 -4.5l.6 -4.1l.6 -3.4l.6 -2.9l.6 -2.3l.6 -1.7l.6 -1.1l.6 -.4l.6 .2l.6 .8l.6 1.5l.6 2l.6 2.7l.6 3.3l.6 3.8l.6 4.3l.6 4.9l.6 5.3l.6 5.8l.6 6.3l.6 6.5l.6 7l.6 7.2l.6 7.5l.6 7.6l.6 7.8l.6 8l.6 7.9l.6 8l.6 8l.6 7.8l.6 7.7l.6 7.6l.6 7.3l.6 7l.6 6.7l.6 6.3l.6 5.9l.6 5.5l.6 5.1l.6 4.5l.6 4l.6 3.4l.6 2.9l.6 2.3l.6 1.6l.6 1.1l.6 .4l.6 -.2l.6 -.8l.6 -1.5l.6 -2l.6 -2.7l.6 -3.2l.6 -3.8l.6 -4.3l.6 -4.8l.6 -5.3l.6 -5.8l.6 -6.2l.6 -6.5l.6 -6.9l.6 -7.2l.6 -7.4l.6 -7.6l.6 -7.8l.6 -7.9l.6 -7.9l.6 -8l.6 -7.9l.6 -7.8l.6 -7.7l.6 -7.5l.6 -7.3l.6 -7l.6 -6.7l.6 -6.4l.6 -5.9l.6 -5.6l.6 -5l.6 -4.6l.6 -4.1l.6 -3.5l.6 -2.9l.6 -2.3l.6 -1.8l.6 -1.1l.6 -.6l.6 .1l.6 .7l.6 1.4l.6 1.9l.6 2.5l.6 3.1l.6 3.7l.6 4.2l.6 4.7l.6 5.2l.6 5.6l.6 6.1l.6 6.4l.6 6.8l.6 7.1l.6 7.3l.6 7.6l.6 7.7l.6 7.8l.6 7.9l.6 7.9l.6 7.9l.6 7.8l.6 7.7l.6 7.6l.6 7.3l.6 7.1l.6 6.7l.6 6.5l.6 6l.6 5.6l.6 5.2l.6 4.7l.6 4.2l.6 3.7l.6 3.1l.6 2.5l.6 2l.6 1.3l.6 .8l.6 .1l.6 -.5l.6 -1.1l.6 -1.7l.6 -2.3l.6 -2.9l.6 -3.5l.6 -3.9l.6 -4.5l.6 -5l.6 -5.5l.6 -5.9l.6 -6.2l.6 -6.6l.6 -7l.6 -7.2l.6 -7.4l.6 -7.6l.6 -7.7l.6 -7.9l.6 -7.9l.6 -7.8l.6 -7.9l.6 -7.7l.6 -7.6l.6 -7.4l.6 -7.1l.6 -6.9l.6 -6.6l.6 -6.2l.6 -5.8l.6 -5.4l.6 -4.9l.6 -4.4l.6 -3.9l.6 -3.4l.6 -2.8l.6 -2.3l.6 -1.6l.6 -1l.6 -.5l.6 .2l.6 .8l.6 1.3l.6 2l.6 2.6l.6 3.1l.6 3.7l.6 4.2l.6 4.7l.6 5.1l.6 5.6l.6 6l.6 6.4l.6 6.8l.6 7l.6 7.2l.6 7.5l.6 7.6l.6 7.8l.6 7.8l.6 7.9l.6 7.8l.6 7.8l.6 7.6l.6 7.5l.6 7.3l.6 7l.6 6.8l.6 6.4l.6 6l.6 5.7l.6 5.2l.6 4.7l.6 4.3l.6 3.7l.6 3.2l.6 2.6l.6 2l.6 1.5l.6 .8l.6 .3l.6 -.3l.6 -1l.6 -1.5l.6 -2.2l.6 -2.7l.6 -3.2l.6 -3.8l.6 -4.3l.6 -4.8l.6 -5.3l.6 -5.7l.6 -6l.6 -6.5l.6 -6.7l.6 -7.1l.6 -7.3l.6 -7.4l.6 -7.7l.6 -7.7l.6 -7.8l.6 -7.8l.6 -7.8l.6 -7.7l.6 -7.6l.6 -7.4l.6 -7.2l.6 -7l.6 -6.6l.6 -6.4l.6 -5.9l.6 -5.6l.6 -5.1l.6 -4.6l.6 -4.2l.6 -3.6l.6 -3.1l.6 -2.6l.6 -1.9l.6 -1.4l.6 -.8l.6 -.2l.6 .4l.6 1l.6 1.6l.6 2.2l.6 2.7l.6 3.3l.6 3.8l.6 4.3l.6 4.8l.6 5.3l.6 5.7l.6 6.1l.6 6.4l.6 6.7l.6 7.1l.6 7.2l.6 7.5l.6 7.6l.6 7.7l.6 7.7l.6 7.8l.6 7.8l.6 7.6l.6 7.6l.6 7.4l.6 7.1l.6 7l.6 6.6l.6 6.3l.6 6l.6 5.5l.6 5.1l.6 4.7l.6 4.1l.6 3.7l.6 3.1l.6 2.5l.6 2l.6 1.4l.6 .9l.6 .2l.6 -.4l.6 -.9l.6 -1.5l.6 -2.1l.6 -2.7l.6 -3.2l.6 -3.8l.6 -4.2l.6 -4.7l.6 -5.2l.6 -5.6l.6 -6l.6 -6.4l.6 -6.6l.6 -7l.6 -7.2l.6 -7.4l.6 -7.5l.6 -7.7l.6 -7.7l.6 -7.7l.6 -7.8l.6 -7.6l.6 -7.6l.6 -7.3l.6 -7.2l.6 -7l.6 -6.6l.6 -6.4l.6 -6l.6 -5.6l.6 -5.2l.6 -4.7l.6 -4.3l.6 -3.7l.6 -3.3l.6 -2.6l.6 -2.2l.6 -1.5l.6 -1l.6 -.4l.6 .2l.6 .8l.6 1.3l.6 2l.6 2.5l.6 3l.6 3.6l.6 4.1l.6 4.5l.6 5l.6 5.5l.6 5.8l.6 6.2l.6 6.6l.6 6.8l.6 7.1l.6 7.3l.6 7.4l.6 7.6l.6 7.7l.6 7.7l.6 7.7l.6 7.6l.6 7.6l.6 7.4l.6 7.3l.6 7l.6 6.7l.6 6.5l.6 6.1l.6 5.7l.6 5.4l.6 4.9l.6 4.4l.6 4l.6 3.4l.6 2.9l.6 2.4l.6 1.8l.6 1.2l.6 .7l.6 .1l.6 -.5l.6 -1.1l.6 -1.7l.6 -2.2l.6 -2.8l.6 -3.3l.6 -3.8l.6 -4.3l.6 -4.7l.6 -5.2l.6 -5.7l.6 -6l.6 -6.3l.6 -6.7l.6 -6.9l.6 -7.1l.6 -7.4l.6 -7.5l.6 -7.5l.6 -7.7l.6 -7.7l.6 -7.6"/><path id="k4" d="M213.5 743.8l.6 -5.7l.6 -5.9l.6 -6.1l.6 -6.4l.6 -6.4l.6 -6.4l.6 -6.5l.6 -6.4l.6 -6.2l.6 -6l.6 -5.8l.6 -5.4l.6 -5.1l.6 -4.7l.6 -4.3l.6 -3.7l.6 -3.3l.6 -2.7l.6 -2.1l.6 -1.5l.6 -1l.6 -.4l.6 .3l.6 .8l.6 1.4l.6 2l.6 2.5l.6 3.1l.6 3.5l.6 3.9l.6 4.4l.6 4.7l.6 5l.6 5.3l.6 5.5l.6 5.6l.6 5.8l.6 5.8l.6 5.7l.6 5.7l.6 5.6l.6 5.4l.6 5.2l.6 4.9l.6 4.6l.6 4.3l.6 3.8l.6 3.5l.6 2.9l.6 2.5l.6 2l.6 1.5l.6 .9l.6 .4l.6 -.1l.6 -.6l.6 -1.2l.6 -1.6l.6 -2.1l.6 -2.6l.6 -3l.6 -3.5l.6 -3.7l.6 -4.1l.6 -4.4l.6 -4.6l.6 -4.8l.6 -4.9l.6 -5l.6 -5.1l.6 -5l.6 -5.1l.6 -4.9l.6 -4.8l.6 -4.5l.6 -4.4l.6 -4.1l.6 -3.8l.6 -3.4l.6 -3.1l.6 -2.7l.6 -2.3l.6 -1.8l.6 -1.4l.6 -.9l.6 -.5l.6 0l.6 .4l.6 .9l.6 1.3l.6 1.7l.6 2.1l.6 2.5l.6 2.8l.6 3.2l.6 3.4l.6 3.7l.6 3.9l.6 4.1l.6 4.2l.6 4.2l.6 4.4l.6 4.3l.6 4.3l.6 4.2l.6 4.1l.6 4l.6 3.7l.6 3.6l.6 3.3l.6 3l.6 2.7l.6 2.4l.6 2l.6 1.7l.6 1.3l.6 .9l.6 .6l.6 .1l.6 -.2l.6 -.6l.6 -1l.6 -1.3l.6 -1.7l.6 -2l.6 -2.2l.6 -2.6l.6 -2.8l.6 -2.9l.6 -3.2l.6 -3.3l.6 -3.5l.6 -3.5l.6 -3.5l.6 -3.6l.6 -3.5l.6 -3.5l.6 -3.5l.6 -3.2l.6 -3.2l.6 -3l.6 -2.7l.6 -2.6l.6 -2.3l.6 -2l.6 -1.8l.6 -1.4l.6 -1.2l.6 -.9l.6 -.5l.6 -.3l.6 .1l.6 .4l.6 .7l.6 .9l.6 1.2l.6 1.5l.6 1.7l.6 2l.6 2.1l.6 2.3l.6 2.5l.6 2.5l.6 2.7l.6 2.7l.6 2.8l.6 2.8l.6 2.8l.6 2.8l.6 2.6l.6 2.6l.6 2.5l.6 2.4l.6 2.2l.6 2l.6 1.8l.6 1.7l.6 1.4l.6 1.2l.6 1l.6 .7l.6 .5l.6 .3l.6 0l.6 -.2l.6 -.4l.6 -.6l.6 -.9l.6 -1l.6 -1.2l.6 -1.4l.6 -1.5l.6 -1.7l.6 -1.7l.6 -1.9l.6 -1.9l.6 -2l.6 -2l.6 -2l.6 -2l.6 -2l.6 -1.9l.6 -1.9l.6 -1.8l.6 -1.7l.6 -1.5l.6 -1.5l.6 -1.3l.6 -1.2l.6 -1l.6 -.9l.6 -.7l.6 -.5l.6 -.4l.6 -.2l.6 -.1l.6 .1l.6 .3l.6 .4l.6 .5l.6 .7l.6 .7l.6 .9l.6 1l.6 1.1l.6 1.1l.6 1.2l.6 1.2l.6 1.2l.6 1.3l.6 1.2l.6 1.2l.6 1.2l.6 1.2l.6 1.1l.6 1.1l.6 1l.6 .9l.6 .8l.6 .7l.6 .7l.6 .5l.6 .5l.6 .3l.6 .3l.6 .1l.6 .1l.6 0l.6 -.2l.6 -.1l.6 -.3l.6 -.3l.6 -.4l.6 -.5l.6 -.5l.6 -.5l.6 -.5l.6 -.6l.6 -.5l.6 -.6l.6 -.5l.6 -.6l.6 -.5l.6 -.5l.6 -.4l.6 -.4l.6 -.4l.6 -.3l.6 -.2l.6 -.2l.6 -.2l.6 -.1l.6 0l.6 0l.6 .1l.6 .1l.6 .1l.6 .2l.6 .2l.6 .2l.6 .3l.6 .2l.6 .3l.6 .2l.6 .3l.6 .2l.6 .2l.6 .2l.6 .1l.6 .1l.6 .1l.6 0l.6 -.1l.6 -.1l.6 -.2l.6 -.2l.6 -.3l.6 -.3l.6 -.4l.6 -.5l.6 -.5l.6 -.5l.6 -.6l.6 -.6l.6 -.6l.6 -.6l.6 -.7l.6 -.7l.6 -.6l.6 -.6l.6 -.6l.6 -.6l.6 -.5l.6 -.4l.6 -.4l.6 -.4l.6 -.2l.6 -.2l.6 0l.6 0l.6 .1l.6 .3l.6 .3l.6 .4l.6 .6l.6 .7l.6 .7l.6 .9l.6 .9l.6 1l.6 1.1l.6 1.2l.6 1.2l.6 1.3l.6 1.3l.6 1.4l.6 1.3l.6 1.3l.6 1.4l.6 1.3l.6 1.2l.6 1.2l.6 1.1l.6 1l.6 1l.6 .8l.6 .7l.6 .5l.6 .4l.6 .3l.6 .1l.6 -.1l.6 -.2l.6 -.4l.6 -.6l.6 -.7l.6 -.9l.6 -1.1l.6 -1.2l.6 -1.4l.6 -1.5l.6 -1.6l.6 -1.7l.6 -1.9l.6 -1.9l.6 -2l.6 -2l.6 -2.1l.6 -2.1l.6 -2.1l.6 -2l.6 -2l.6 -2l.6 -1.8l.6 -1.8l.6 -1.6l.6 -1.5l.6 -1.3l.6 -1.1l.6 -1l.6 -.7l.6 -.6l.6 -.3l.6 -.1l.6 .2l.6 .3l.6 .6l.6 .9l.6 1.1l.6 1.3l.6 1.5l.6 1.7l.6 1.9l.6 2.1l.6 2.3l.6 2.4l.6 2.5l.6 2.7l.6 2.7l.6 2.8l.6 2.8l.6 2.8l.6 2.8l.6 2.8l.6 2.7l.6 2.6l.6 2.4l.6 2.4l.6 2.1l.6 2l.6 1.8l.6 1.5l.6 1.3l.6 1l.6 .7l.6 .5l.6 .1l.6 -.1l.6 -.5l.6 -.7l.6 -1l.6 -1.4l.6 -1.6l.6 -1.9l.6 -2.2l.6 -2.4l.6 -2.6l.6 -2.9l.6 -3l.6 -3.2l.6 -3.3l.6 -3.4l.6 -3.5l.6 -3.5l.6 -3.5l.6 -3.5l.6 -3.5l.6 -3.4l.6 -3.3l.6 -3.1l.6 -2.9l.6 -2.8l.6 -2.5l.6 -2.2l.6 -2l.6 -1.7l.6 -1.3l.6 -1l.6 -.7l.6 -.3l.6 0l.6 .5l.6 .7l.6 1.2l.6 1.5l.6 1.8l.6 2.2l.6 2.5l.6 2.8l.6 3.1l.6 3.3l.6 3.6l.6 3.7l.6 4l.6 4l.6 4.1l.6 4.3l.6 4.2l.6 4.2l.6 4.2l.6 4l.6 4l.6 3.8l.6 3.6l.6 3.3l.6 3.1l.6 2.8l.6 2.5l.6 2.2l.6 1.7l.6 1.4l.6 1l.6 .6l.6 .1l.6 -.2l.6 -.7l.6 -1.2l.6 -1.5l.6 -2l.6 -2.3l.6 -2.7l.6 -3.1l.6 -3.4l.6 -3.8l.6 -3.9l.6 -4.3l.6 -4.4l.6 -4.6l.6 -4.8l.6 -4.8l.6 -4.9l.6 -4.9l.6 -4.8l.6 -4.8l.6 -4.6l.6 -4.5l.6 -4.3l.6 -4l.6 -3.7l.6 -3.5l.6 -3.1l.6 -2.7l.6 -2.2l.6 -1.9l.6 -1.4l.6 -1l.6 -.5l.6 0l.6 .5l.6 1l.6 1.4l.6 2l.6 2.3l.6 2.9l.6 3.2l.6 3.6l.6 4l.6 4.3l.6 4.6l.6 4.9l.6 5.1l.6 5.3l.6 5.4l.6 5.4l.6 5.5l.6 5.5l.6 5.5l.6 5.3l.6 5.2l.6 4.9l.6 4.7l.6 4.5l.6 4.1l.6 3.7l.6 3.4l.6 2.9l.6 2.4l.6 2l.6 1.4l.6 1l.6 .4l.6 -.1l.6 -.7l.6 -1.2l.6 -1.7l.6 -2.3l.6 -2.7l.6 -3.3l.6 -3.7l.6 -4.1l.6 -4.5l.6 -4.8l.6 -5.2l.6 -5.5l.6 -5.6l.6 -5.9l.6 -6l.6 -6l.6 -6.1l.6 -6.1l.6 -6l.6 -5.8l.6 -5.7l.6 -5.4l.6 -5.2l.6 -4.8l.6 -4.5l.6 -4l.6 -3.6l.6 -3.2l.6 -2.6l.6 -2.1l.6 -1.5l.6 -1l.6 -.4l.6 .2l.6 .8l.6 1.4l.6 2l.6 2.5l.6 3l.6 3.6l.6 4.1l.6 4.5l.6 4.9l.6 5.4l.6 5.6l.6 6l.6 6.2l.6 6.4l.6 6.5l.6 6.6l.6 6.6l.6 6.6l.6 6.5l.6 6.3l.6 6.2l.6 5.9l.6 5.6l.6 5.2l.6 4.9l.6 4.3l.6 3.9l.6 3.4l.6 2.9l.6 2.2l.6 1.7l.6 1l.6 .5l.6 -.2l.6 -.9l.6 -1.5l.6 -2.1l.6 -2.6l.6 -3.3l.6 -3.9l.6 -4.3l.6 -4.9l.6 -5.3l.6 -5.7l.6 -6.1l.6 -6.4l.6 -6.6l.6 -6.9l.6 -6.9l.6 -7.1l.6 -7.1l.6 -7.1l.6 -7l.6 -6.8l.6 -6.6l.6 -6.4l.6 -6l.6 -5.6l.6 -5.3l.6 -4.7l.6 -4.3l.6 -3.7l.6 -3.1l.6 -2.4l.6 -1.9l.6 -1.2l.6 -.5l.6 .1l.6 .8l.6 1.5l.6 2.1l.6 2.8l.6 3.4l.6 4l.6 4.5l.6 5.1l.6 5.6l.6 6l.6 6.4l.6 6.7l.6 7l.6 7.3l.6 7.4l.6 7.5l.6 7.5l.6 7.5l.6 7.5l.6 7.3l.6 7l.6 6.8l.6 6.5l.6 6.1l.6 5.6l.6 5.1l.6 4.7l.6 4l.6 3.4l.6 2.8l.6 2.2l.6 1.4l.6 .7l.6 .1l.6 -.7l.6 -1.3l.6 -2.1l.6 -2.8l.6 -3.4l.6 -4l.6 -4.6l.6 -5.3l.6 -5.7l.6 -6.2l.6 -6.6l.6 -7l.6 -7.3l.6 -7.5l.6 -7.8l.6 -7.8l.6 -8l.6 -7.9l.6 -7.8l.6 -7.7l.6 -7.5l.6 -7.3l.6 -6.9l.6 -6.5l.6 -6.1l.6 -5.5l.6 -5.1l.6 -4.4l.6 -3.9l.6 -3.1l.6 -2.5l.6 -1.8l.6 -1.1l.6 -.3l.6 .4l.6 1.2l.6 1.9l.6 2.6l.6 3.3l.6 3.9l.6 4.6l.6 5.2l.6 5.8l.6 6.2l.6 6.8l.6 7.1l.6 7.5l.6 7.8l.6 8l.6 8.1l.6 8.2l.6 8.3l.6 8.2l.6 8.1l.6 7.9l.6 7.7l.6 7.3l.6 7l.6 6.5l.6 6.1l.6 5.5l.6 4.9l.6 4.3l.6 3.6l.6 3l.6 2.2l.6 1.5l.6 .7l.6 -.1l.6 -.8l.6 -1.6l.6 -2.3l.6 -3l.6 -3.8l.6 -4.4l.6 -5.1l.6 -5.6l.6 -6.2l.6 -6.8l.6 -7.1l.6 -7.6l.6 -7.9l.6 -8.1l.6 -8.4l.6 -8.4l.6 -8.6l.6 -8.5l.6 -8.4l.6 -8.3l.6 -8.1l.6 -7.8l.6 -7.4l.6 -7l.6 -6.5l.6 -6.1l.6 -5.4l.6 -4.8l.6 -4.2l.6 -3.4l.6 -2.8l.6 -2l.6 -1.2l.6 -.4l.6 .3l.6 1.2l.6 1.9l.6 2.6l.6 3.4l.6 4.1l.6 4.8l.6 5.4l.6 6.1l.6 6.5l.6 7.1l.6 7.5l.6 7.9l.6 8.2l.6 8.4l.6 8.6l.6 8.8l.6 8.7l.6 8.7l.6 8.6l.6 8.5l.6 8.2l.6 7.8l.6 7.5l.6 7.1l.6 6.5l.6 6l.6 5.4l.6 4.8l.6 4l.6 3.4l.6 2.6l.6 1.8l.6 1l.6 .3l.6 -.6l.6 -1.3l.6 -2.2l.6 -2.9l.6 -3.6l.6 -4.4l.6 -5l.6 -5.7l.6 -6.3l.6 -6.8l.6 -7.3l.6 -7.8l.6 -8.1l.6 -8.4l.6 -8.6l.6 -8.8l.6 -8.9l.6 -8.9l.6 -8.9l.6 -8.7l.6 -8.6l.6 -8.3l.6 -7.9l.6 -7.6l.6 -7.1l.6 -6.5l.6 -6l.6 -5.4l.6 -4.7l.6 -4.1l.6 -3.3l.6 -2.5l.6 -1.7l.6 -1l.6 -.1l.6 .7l.6 1.4l.6 2.3l.6 3l.6 3.8l.6 4.5l.6 5.2l.6 5.8l.6 6.5l.6 6.9l.6 7.5l.6 7.8l.6 8.3l.6 8.5l.6 8.8l.6 8.9l.6 9l.6 9l.6 9l.6 8.8l.6 8.7l.6 8.3l.6 8l.6 7.7l.6 7.1l.6 6.6l.6 6.1l.6 5.4l.6 4.7l.6 4.1l.6 3.3l.6 2.5l.6 1.8l.6 .9l.6 .1l.6 -.6l.6 -1.5l.6 -2.3l.6 -3.1l.6 -3.8l.6 -4.5l.6 -5.2l.6 -5.9l.6 -6.4l.6 -7l.6 -7.5l.6 -7.9l.6 -8.3l.6 -8.6l.6 -8.8l.6 -9l.6 -9l.6 -9.1l.6 -9l.6 -8.9l.6 -8.7l.6 -8.4l.6 -8.1l.6 -7.7l.6 -7.2l.6 -6.7l.6 -6.1l.6 -5.5l.6 -4.8l.6 -4.2l.6 -3.4l.6 -2.6l.6 -1.8l.6 -1.1l.6 -.2l.6 .6l.6 1.4l.6 2.2l.6 2.9l.6 3.7l.6 4.5l.6 5.1l.6 5.8l.6 6.3l.6 7l.6 7.4l.6 7.8l.6 8.3l.6 8.5l.6 8.8l.6 8.9l.6 9.1l.6 9l.6 9.1l.6 8.9l.6 8.7l.6 8.5l.6 8.1l.6 7.8l.6 7.3l.6 6.8l.6 6.2l.6 5.6l.6 5l.6 4.3l.6 3.6l.6 2.8l.6 2l.6 1.2l.6 .4l.6 -.3l.6 -1.2l.6 -2l.6 -2.7l.6 -3.6l.6 -4.2l.6 -4.9l.6 -5.6l.6 -6.2l.6 -6.7l.6 -7.2l.6 -7.7l.6 -8.1l.6 -8.4l.6 -8.7l.6 -8.8l.6 -9l.6 -9l.6 -9l.6 -8.9l.6 -8.7l.6 -8.5l.6 -8.2l.6 -7.9l.6 -7.4l.6 -6.9l.6 -6.4l.6 -5.8l.6 -5.1l.6 -4.5l.6 -3.8l.6 -3.1l.6 -2.3l.6 -1.5l.6 -.7l.6 .1l.6 .9l.6 1.6l.6 2.4l.6 3.2l.6 3.9l.6 4.6l.6 5.3l.6 5.9l.6 6.4l.6 7l.6 7.4l.6 7.9l.6 8.1l.6 8.5l.6 8.7l.6 8.8l.6 8.9l.6 8.9l.6 8.8l.6 8.7l.6 8.5l.6 8.3l.6 7.9l.6 7.5l.6 7l.6 6.6l.6 6l.6 5.4l.6 4.7l.6 4.1l.6 3.4l.6 2.6l.6 1.8l.6 1.1l.6 .4l.6 -.5l.6 -1.2l.6 -2l.6 -2.8l.6 -3.5l.6 -4.1l.6 -4.9l.6 -5.4l.6 -6.1l.6 -6.6l.6 -7l.6 -7.5l.6 -7.9l.6 -8.2l.6 -8.4l.6 -8.6l.6 -8.7l.6 -8.7l.6 -8.7l.6 -8.6l.6 -8.5l.6 -8.2l.6 -8l.6 -7.6l.6 -7.2l.6 -6.7l.6 -6.2l.6 -5.7l.6 -5l.6 -4.4l.6 -3.7l.6 -3.1l.6 -2.3l.6 -1.5l.6 -.8l.6 0l.6 .7l.6 1.5l.6 2.2l.6 2.9l.6 3.7l.6 4.3l.6 4.9l.6 5.6l.6 6.1l.6 6.6l.6 7l.6 7.4l.6 7.8l.6 8.1l.6 8.3l.6 8.4l.6 8.5l.6 8.5l.6 8.5l.6 8.4l.6 8.2l.6 7.9l.6 7.7l.6 7.3l.6 6.9l.6 6.4l.6 5.9l.6 5.4l.6 4.7l.6 4.2l.6 3.4l.6 2.8l.6 2l.6 1.4l.6 .5l.6 -.1l.6 -.9l.6 -1.6l.6 -2.3l.6 -3l.6 -3.7l.6 -4.3l.6 -4.9l.6 -5.5l.6 -6l.6 -6.5l.6 -7l.6 -7.2l.6 -7.6l.6 -7.9l.6 -8.1l.6 -8.2l.6 -8.2l.6 -8.3l.6 -8.2l.6 -8.1l.6 -7.9l.6 -7.7l.6 -7.4l.6 -7l.6 -6.6l.6 -6.1l.6 -5.7l.6 -5.1l.6 -4.5l.6 -3.9l.6 -3.3l.6 -2.6l.6 -1.9l.6 -1.2l.6 -.5l.6 .2l.6 .9l.6 1.6l.6 2.3l.6 3l.6 3.6l.6 4.2l.6 4.8l.6 5.4l.6 5.8l.6 6.3l.6 6.7l.6 7l.6 7.4l.6 7.6l.6 7.7l.6 7.9l.6 8l.6 8l.6 7.9l.6 7.8l.6 7.6l.6 7.4l.6 7.1l.6 6.7l.6 6.4l.6 5.9l.6 5.4l.6 4.9l.6 4.4l.6 3.7l.6 3.2l.6 2.5l.6 1.8l.6 1.2l.6 .5l.6 -.2l.6 -.8l.6 -1.5l.6 -2.2l.6 -2.8l.6 -3.5l.6 -4l.6 -4.5l.6 -5.1l.6 -5.6l.6 -6l.6 -6.4l.6 -6.7l.6 -7l.6 -7.3l.6 -7.4l.6 -7.5l.6 -7.7l.6 -7.6l.6 -7.6l.6 -7.4l.6 -7.3l.6 -7.1l.6 -6.8l.6 -6.5l.6 -6.1l.6 -5.8l.6 -5.2l.6 -4.8l.6 -4.2l.6 -3.7l.6 -3.1l.6 -2.4l.6 -1.9l.6 -1.2l.6 -.6l.6 .1l.6 .7l.6 1.3l.6 2l.6 2.5l.6 3.2l.6 3.7l.6 4.3l.6 4.7l.6 5.2l.6 5.6l.6 6l.6 6.4l.6 6.6l.6 6.8l.6 7.1l.6 7.1l.6 7.2l.6 7.3l.6 7.2l.6 7.1l.6 7l.6 6.7l.6 6.6l.6 6.2l.6 5.9l.6 5.5l.6 5.1l.6 4.7l.6 4.1l.6 3.7l.6 3.1l.6 2.5l.6 1.9l.6 1.3l.6 .8l.6 .1l.6 -.5l.6 -1.1l.6 -1.6l.6 -2.3l.6 -2.8l.6 -3.3l.6 -3.9l.6 -4.3l.6 -4.8l.6 -5.2l.6 -5.5l.6 -5.9l.6 -6.1l.6 -6.4l.6 -6.6l.6 -6.7l.6 -6.8l.6 -6.8l.6 -6.8l.6 -6.8l.6 -6.6l.6 -6.4l.6 -6.3l.6 -6l.6 -5.6l.6 -5.4l.6 -4.9l.6 -4.6l.6 -4.1l.6 -3.6l.6 -3.1l.6 -2.6l.6 -2.1l.6 -1.5l.6 -.9l.6 -.4l.6 .3l.6 .7l.6 1.3l.6 1.9l.6 2.4l.6 2.9l.6 3.4l.6 3.8l.6 4.3l.6 4.7l.6 5l.6 5.4l.6 5.6l.6 5.9l.6 6l.6 6.2l.6 6.3l.6 6.4l.6 6.4l.6 6.3l.6 6.2l.6 6.2l.6 5.9l.6 5.7l.6 5.5l.6 5.1l.6 4.8l.6 4.5l.6 4l.6 3.6l.6 3.2l.6 2.7l.6 2.2l.6 1.6l.6 1.2l.6 .7l.6 .1l.6 -.4l.6 -1l.6 -1.4l.6 -1.9l.6 -2.5l.6 -2.8l.6 -3.4l.6 -3.7l.6 -4.1l.6 -4.5l.6 -4.7l.6 -5.1l.6 -5.3l.6 -5.5l.6 -5.7l.6 -5.7l.6 -5.9l.6 -5.9l.6 -5.9l.6 -5.8l.6 -5.7l.6 -5.6l.6 -5.4l.6 -5.2l.6 -5l.6 -4.6l.6 -4.3l.6 -4l.6 -3.6l.6 -3.2l.6 -2.8l.6 -2.3l.6 -1.9l.6 -1.4l.6 -1l.6 -.4l.6 0l.6 .5l.6 1l.6 1.5l.6 1.9l.6 2.3l.6 2.7l.6 3.2l.6 3.5l.6 3.9l.6 4.1l.6 4.5l.6 4.6l.6 4.9l.6 5.1l.6 5.2l.6 5.3l.6 5.4l.6 5.4l.6 5.3l.6 5.3l.6 5.3l.6 5l.6 4.9l.6 4.7l.6 4.5l.6 4.2l.6 3.9l.6 3.5l.6 3.2l.6 2.9l.6 2.4l.6 2.1l.6 1.6l.6 1.3l.6 .7l.6 .4l.6 -.1l.6 -.5l.6 -1l.6 -1.4l.6 -1.7l.6 -2.2l.6 -2.5l.6 -2.9l.6 -3.2l.6 -3.6l.6 -3.8l.6 -4l.6 -4.3l.6 -4.4l.6 -4.6l.6 -4.7l.6 -4.8l.6 -4.8l.6 -4.9l.6 -4.8l.6 -4.8l.6 -4.7l.6 -4.5l.6 -4.4l.6 -4.2l.6 -4l.6 -3.8l.6 -3.5l.6 -3.2l.6 -2.8l.6 -2.6l.6 -2.2l.6 -1.8l.6 -1.5l.6 -1l.6 -.7l.6 -.3l.6 .1l.6 .4l.6 .9l.6 1.2l.6 1.6l.6 1.9l.6 2.3l.6 2.6l.6 2.8l.6 3.2l.6 3.3l.6 3.6l.6 3.8l.6 3.9l.6 4.1l.6 4.2l.6 4.3l.6 4.2l.6 4.4l.6 4.2l.6 4.3l.6 4.1l.6 4.1l.6 3.9l.6 3.7l.6 3.6l.6 3.3l.6 3.1l.6 2.8l.6 2.6l.6 2.2l.6 2l.6 1.7l.6 1.3l.6 1l.6 .6l.6 .3l.6 0l.6 -.4l.6 -.7l.6 -1l.6 -1.4l.6 -1.6l.6 -2l.6 -2.2l.6 -2.5l.6 -2.7l.6 -2.9l.6 -3.1l.6 -3.3l.6 -3.4l.6 -3.5l.6 -3.6l.6 -3.7l.6 -3.8l.6 -3.7l.6 -3.7l.6 -3.7l.6 -3.6l.6 -3.5l.6 -3.5l.6 -3.2l.6 -3.1l.6 -2.9l.6 -2.8l.6 -2.5l.6 -2.2l.6 -2l.6 -1.8l.6 -1.5l.6 -1.2l.6 -.9l.6 -.6l.6 -.3l.6 -.1l.6 .3l.6 .5l.6 .8l.6 1.1l.6 1.3l.6 1.6l.6 1.9l.6 2l.6 2.3l.6 2.4l.6 2.6l.6 2.7l.6 2.9l.6 3l.6 3l.6 3.2l.6 3.1l.6 3.2l.6 3.1l.6 3.2l.6 3l.6 3l.6 2.9l.6 2.8l.6 2.7l.6 2.5l.6 2.3l.6 2.2l.6 2l.6 1.7l.6 1.6l.6 1.3l.6 1.1l.6 .8l.6 .6l.6 .4l.6 .1l.6 -.1l.6 -.4l.6 -.6l.6 -.8l.6 -1l.6 -1.3l.6 -1.4l.6 -1.6l.6 -1.8l.6 -2l.6 -2.1l.6 -2.2l.6 -2.3l.6 -2.4l.6 -2.5l.6 -2.5l.6 -2.6l.6 -2.6l.6 -2.5l.6 -2.6l.6 -2.5l.6 -2.5l.6 -2.4l.6 -2.3l.6 -2.2l.6 -2.1l.6 -1.9l.6 -1.8l.6 -1.7l.6 -1.5l.6 -1.3l.6 -1.1l.6 -1l.6 -.7l.6 -.6l.6 -.4l.6 -.1l.6 0l.6 .2l.6 .4l.6 .5l.6 .8l.6 .9l.6 1l.6 1.3l.6 1.3l.6 1.5l.6 1.6l.6 1.7l.6 1.7l.6 1.9l.6 1.9l.6 1.9l.6 2l.6 2l.6 2l.6 2l.6 2l.6 1.9l.6 1.9l.6 1.8l.6 1.7l.6 1.6l.6 1.5l.6 1.5l.6 1.3l.6 1.2l.6 1l.6 .9l.6 .8l.6 .6l.6 .5l.6 .4l.6 .2l.6 0l.6 0l.6 -.3l.6 -.3l.6 -.5l.6 -.6l.6 -.8l.6 -.8l.6 -.9l.6 -1.1l.6 -1.1l.6 -1.2l.6 -1.2l.6 -1.4l.6 -1.3l.6 -1.4l.6 -1.4l.6 -1.4l.6 -1.4l.6 -1.5l.6 -1.3l.6 -1.4l.6 -1.3l.6 -1.3l.6 -1.2l.6 -1.2l.6 -1.1l.6 -1l.6 -.9l.6 -.8l.6 -.8l.6 -.6l.6 -.6l.6 -.4l.6 -.4l.6 -.3l.6 -.1l.6 -.1l.6 0l.6 .2l.6 .2l.6 .3l.6 .4l.6 .4l.6 .5l.6 .6l.6 .7l.6 .7l.6 .7l.6 .8l.6 .8l.6 .8l.6 .9l.6 .8l.6 .9l.6 .9l.6 .8l.6 .8l.6 .8l.6 .8l.6 .7l.6 .7l.6 .7l.6 .6l.6 .5l.6 .5l.6 .5l.6 .3l.6 .4l.6 .2l.6 .3l.6 .1l.6 .1l.6 0l.6 0l.6 0l.6 -.1l.6 -.2l.6 -.2l.6 -.2l.6 -.3l.6 -.3l.6 -.3l.6 -.3l.6 -.4l.6 -.3l.6 -.4l.6 -.4l.6 -.3l.6 -.4l.6 -.3l.6 -.4l.6 -.3l.6 -.3l.6 -.3l.6 -.2l.6 -.2l.6 -.2l.6 -.2l.6 -.1l.6 -.1l.6 0l.6 0l.6 0l.6 0l.6 .1l.6 0l.6 .2l.6 .1l.6 .1l.6 .2l.6 .2l.6 .2l.6 .2l.6 .2l.6 .2l.6 .2l.6 .1l.6 .2l.6 .1l.6 .2l.6 .1l.6 0l.6 .1l.6 0l.6 0l.6 -.1l.6 -.1l.6 -.1l.6 -.2l.6 -.2l.6 -.2l.6 -.3l.6 -.3l.6 -.4l.6 -.4l.6 -.4l.6 -.4l.6 -.5l.6 -.5l.6 -.5l.6 -.5l.6 -.5l.6 -.5l.6 -.5l.6 -.6l.6 -.5l.6 -.4l.6 -.5l.6 -.4l.6 -.4l.6 -.4l.6 -.3l.6 -.2l.6 -.3l.6 -.1l.6 -.1l.6 -.1l.6 .1l.6 .1l.6 .1l.6 .3l.6 .3l.6 .3l.6 .5l.6 .5l.6 .6l.6 .6l.6 .7l.6 .7l.6 .9l.6 .8l.6 .9l.6 1l.6 .9l.6 1l.6 1l.6 1.1l.6 1l.6 1l.6 1l.6 1l.6 1l.6 .9l.6 .9l.6 .9l.6 .7l.6 .7l.6 .7l.6 .6l.6 .4l.6 .4l.6 .3l.6 .2l.6 .1l.6 0l.6 -.1l.6 -.2l.6 -.4l.6 -.4l.6 -.6l.6 -.6l.6 -.8l.6 -.9l.6 -.9l.6 -1.1l.6 -1.1l.6 -1.2l.6 -1.3l.6 -1.4l.6 -1.4l.6 -1.5l.6 -1.5l.6 -1.5l.6 -1.6l.6 -1.6l.6 -1.5l.6 -1.6l.6 -1.5l.6 -1.5l.6 -1.4l.6 -1.4l.6 -1.3l.6 -1.3l.6 -1.1l.6 -1.1l.6 -1l.6 -.8l.6 -.7l.6 -.6l.6 -.5l.6 -.3l.6 -.1l.6 -.1l.6 .2l.6 .2l.6 .5l.6 .5l.6 .8l.6 .8l.6 1l.6 1.2l.6 1.3l.6 1.4l.6 1.5l.6 1.6l.6 1.8l.6 1.8l.6 1.9l.6 2l.6 2l.6 2l.6 2.1l.6 2.1l.6 2.1l.6 2.1l.6 2l.6 2l.6 2l.6 1.9l.6 1.8l.6 1.7l.6 1.6l.6 1.4l.6 1.4l.6 1.1l.6 1.1l.6 .9l.6 .7l.6 .5l.6 .3l.6 .2l.6 0l.6 -.3l.6 -.4l.6 -.6l.6 -.8l.6 -1l.6 -1.1l.6 -1.4l.6 -1.5l.6 -1.6l.6 -1.9l.6 -1.9l.6 -2.1l.6 -2.2l.6 -2.3l.6 -2.4l.6 -2.5l.6 -2.6l.6 -2.5l.6 -2.6l.6 -2.7l.6 -2.6l.6 -2.6l.6 -2.5l.6 -2.5l.6 -2.4l.6 -2.3l.6 -2.2l.6 -2.1l.6 -1.9l.6 -1.8l.6 -1.6l.6 -1.5l.6 -1.2l.6 -1.1l.6 -.8l.6 -.7l.6 -.4l.6 -.1l.6 0l.6 .3l.6 .5l.6 .7l.6 1l.6 1.2l.6 1.4l.6 1.6l.6 1.8l.6 2l.6 2.2l.6 2.4l.6 2.5l.6 2.7l.6 2.7l.6 2.9l.6 3l.6 3l.6 3.1l.6 3.1l.6 3.1l.6 3.1l.6 3.1l.6 3l.6 2.9l.6 2.9l.6 2.8l.6 2.6l.6 2.5l.6 2.3l.6 2.1l.6 2l.6 1.7l.6 1.5l.6 1.3l.6 1l.6 .8l.6 .5l.6 .3l.6 0l.6 -.3l.6 -.5l.6 -.9l.6 -1l.6 -1.4l.6 -1.6l.6 -1.8l.6 -2.1l.6 -2.2l.6 -2.5l.6 -2.7l.6 -2.9l.6 -3l.6 -3.2l.6 -3.3l.6 -3.4l.6 -3.5l.6 -3.5l.6 -3.6l.6 -3.6l.6 -3.6l.6 -3.6l.6 -3.5l.6 -3.4l.6 -3.3l.6 -3.2l.6 -3.1l.6 -2.9l.6 -2.7l.6 -2.6l.6 -2.3l.6 -2l.6 -1.9l.6 -1.5l.6 -1.3l.6 -1l.6 -.7l.6 -.4l.6 -.1l.6 .2l.6 .4l.6 .9l.6 1.1l.6 1.3l.6 1.7l.6 2l.6 2.2l.6 2.5l.6 2.7l.6 3l.6 3.2l.6 3.3l.6 3.5l.6 3.7l.6 3.8l.6 3.9l.6 4l.6 4l.6 4l.6 4.1l.6 4l.6 4l.6 3.9l.6 3.8l.6 3.7l.6 3.5l.6 3.4l.6 3.1l.6 3l.6 2.7l.6 2.5l.6 2.2l.6 1.9l.6 1.6l.6 1.3l.6 1l.6 .7l.6 .3l.6 0l.6 -.4l.6 -.7l.6 -1l.6 -1.3l.6 -1.7l.6 -2l.6 -2.3l.6 -2.6l.6 -2.9l.6 -3.1l.6 -3.4l.6 -3.5l.6 -3.8l.6 -4l.6 -4.1l.6 -4.3l.6 -4.3l.6 -4.4l.6 -4.5l.6 -4.5l.6 -4.4l.6 -4.5l.6 -4.4l.6 -4.3l.6 -4.1l.6 -4l.6 -3.9l.6 -3.7l.6 -3.4l.6 -3.2l.6 -2.9l.6 -2.7l.6 -2.3l.6 -2l.6 -1.7l.6 -1.4l.6 -1l.6 -.6l.6 -.3l.6 .1l.6 .4l.6 .9l.6 1.2l.6 1.5l.6 1.9l.6 2.3l.6 2.5l.6 2.9l.6 3.2l.6 3.5l.6 3.7l.6 3.9l.6 4.2l.6 4.4l.6 4.5l.6 4.6l.6 4.8l.6 4.8l.6 4.9l.6 4.9l.6 4.9l.6 4.8l.6 4.8l.6 4.6l.6 4.6l.6 4.3l.6 4.2l.6 4l.6 3.7l.6 3.4l.6 3.2l.6 2.8l.6 2.6l.6 2.2l.6 1.8l.6 1.5l.6 1l.6 .7l.6 .3l.6 -.1l.6 -.5l.6 -.9l.6 -1.3l.6 -1.7l.6 -2l.6 -2.4l.6 -2.8l.6 -3.1l.6 -3.5l.6 -3.7l.6 -4l.6 -4.3l.6 -4.4l.6 -4.7l.6 -4.9l.6 -5l.6 -5.1l.6 -5.2l.6 -5.3l.6 -5.2l.6 -5.3l.6 -5.2l.6 -5.2l.6 -5l.6 -4.9l.6 -4.7l.6 -4.5l.6 -4.3l.6 -4l.6 -3.8l.6 -3.4l.6 -3.1l.6 -2.8l.6 -2.4l.6 -2l.6 -1.7l.6 -1.2l.6 -.8l.6 -.4l.6 0l.6 .5l.6 .9l.6 1.3l.6 1.7l.6 2.1l.6 2.5l.6 2.9l.6 3.3l.6 3.6l.6 3.9l.6 4.2l.6 4.5l.6 4.7l.6 5l.6 5.1l.6 5.3l.6 5.5l.6 5.5l.6 5.6l.6 5.6l.6 5.6l.6 5.6l.6 5.5l.6 5.4l.6 5.3l.6 5l.6 4.9l.6 4.7l.6 4.3l.6 4.1l.6 3.8l.6 3.4l.6 3.1l.6 2.7l.6 2.3l.6 1.9l.6 1.4l.6 1.1l.6 .5l.6 .2l.6 -.3l.6 -.8l.6 -1.2l.6 -1.7l.6 -2l.6 -2.5l.6 -2.9l.6 -3.3l.6 -3.7l.6 -4l.6 -4.3l.6 -4.6l.6 -5l.6 -5.1l.6 -5.4l.6 -5.5l.6 -5.7l.6 -5.8l.6 -5.9l.6 -5.9l.6 -6l.6 -5.9l.6 -5.8l.6 -5.8l.6 -5.6l.6 -5.5l.6 -5.2l.6 -5.1l.6 -4.7"/><path id="k5" d="M213.5 784.6l.6 -3.2l.6 -3.9l.6 -4.5l.6 -5.2l.6 -5.8l.6 -6.3l.6 -6.7l.6 -7.2l.6 -7.4l.6 -7.7l.6 -7.9l.6 -8l.6 -8.1l.6 -7.9l.6 -7.9l.6 -7.7l.6 -7.3l.6 -7.1l.6 -6.7l.6 -6.1l.6 -5.7l.6 -5.1l.6 -4.5l.6 -3.8l.6 -3.2l.6 -2.4l.6 -1.7l.6 -1l.6 -.2l.6 .6l.6 1.3l.6 2l.6 2.8l.6 3.4l.6 4l.6 4.7l.6 5.2l.6 5.7l.6 6.2l.6 6.5l.6 6.9l.6 7.1l.6 7.4l.6 7.4l.6 7.5l.6 7.5l.6 7.4l.6 7.2l.6 7l.6 6.7l.6 6.4l.6 6l.6 5.4l.6 5l.6 4.5l.6 3.8l.6 3.2l.6 2.5l.6 1.9l.6 1.2l.6 .5l.6 -.2l.6 -.9l.6 -1.6l.6 -2.2l.6 -2.9l.6 -3.5l.6 -4.1l.6 -4.6l.6 -5.1l.6 -5.5l.6 -5.9l.6 -6.2l.6 -6.5l.6 -6.7l.6 -6.8l.6 -7l.6 -6.9l.6 -6.8l.6 -6.8l.6 -6.6l.6 -6.3l.6 -6l.6 -5.7l.6 -5.3l.6 -4.9l.6 -4.3l.6 -3.8l.6 -3.3l.6 -2.6l.6 -2.1l.6 -1.4l.6 -.8l.6 -.1l.6 .5l.6 1.1l.6 1.7l.6 2.3l.6 2.9l.6 3.5l.6 3.9l.6 4.4l.6 4.8l.6 5.2l.6 5.6l.6 5.8l.6 6l.6 6.2l.6 6.2l.6 6.3l.6 6.3l.6 6.3l.6 6l.6 5.9l.6 5.7l.6 5.4l.6 5l.6 4.6l.6 4.2l.6 3.8l.6 3.3l.6 2.7l.6 2.2l.6 1.6l.6 1.1l.6 .5l.6 -.1l.6 -.6l.6 -1.2l.6 -1.8l.6 -2.3l.6 -2.8l.6 -3.3l.6 -3.7l.6 -4.1l.6 -4.4l.6 -4.8l.6 -5.1l.6 -5.3l.6 -5.4l.6 -5.6l.6 -5.6l.6 -5.7l.6 -5.6l.6 -5.6l.6 -5.4l.6 -5.2l.6 -5l.6 -4.7l.6 -4.4l.6 -4l.6 -3.6l.6 -3.3l.6 -2.7l.6 -2.3l.6 -1.8l.6 -1.3l.6 -.8l.6 -.3l.6 .2l.6 .7l.6 1.2l.6 1.7l.6 2.2l.6 2.6l.6 3l.6 3.3l.6 3.8l.6 4l.6 4.3l.6 4.5l.6 4.7l.6 4.8l.6 5l.6 4.9l.6 5l.6 4.9l.6 4.9l.6 4.7l.6 4.5l.6 4.3l.6 4.1l.6 3.8l.6 3.4l.6 3.1l.6 2.7l.6 2.4l.6 1.9l.6 1.5l.6 1l.6 .6l.6 .2l.6 -.3l.6 -.7l.6 -1.2l.6 -1.5l.6 -1.9l.6 -2.4l.6 -2.6l.6 -3l.6 -3.2l.6 -3.6l.6 -3.7l.6 -3.9l.6 -4.1l.6 -4.2l.6 -4.2l.6 -4.3l.6 -4.2l.6 -4.3l.6 -4.1l.6 -4l.6 -3.8l.6 -3.7l.6 -3.4l.6 -3.2l.6 -2.9l.6 -2.6l.6 -2.2l.6 -2l.6 -1.5l.6 -1.2l.6 -.9l.6 -.4l.6 -.1l.6 .3l.6 .6l.6 1l.6 1.4l.6 1.6l.6 2l.6 2.3l.6 2.5l.6 2.7l.6 3l.6 3.1l.6 3.3l.6 3.4l.6 3.5l.6 3.5l.6 3.6l.6 3.5l.6 3.5l.6 3.4l.6 3.3l.6 3.1l.6 3l.6 2.8l.6 2.6l.6 2.4l.6 2.1l.6 1.8l.6 1.5l.6 1.3l.6 1l.6 .6l.6 .4l.6 0l.6 -.2l.6 -.6l.6 -.8l.6 -1.1l.6 -1.4l.6 -1.6l.6 -1.8l.6 -2.1l.6 -2.2l.6 -2.4l.6 -2.5l.6 -2.6l.6 -2.7l.6 -2.8l.6 -2.8l.6 -2.8l.6 -2.7l.6 -2.8l.6 -2.7l.6 -2.5l.6 -2.5l.6 -2.3l.6 -2.2l.6 -2l.6 -1.8l.6 -1.6l.6 -1.4l.6 -1.2l.6 -1l.6 -.7l.6 -.5l.6 -.2l.6 0l.6 .2l.6 .4l.6 .7l.6 .8l.6 1.1l.6 1.2l.6 1.4l.6 1.5l.6 1.7l.6 1.8l.6 1.8l.6 2l.6 2l.6 2l.6 2.1l.6 2l.6 2.1l.6 2l.6 1.9l.6 1.8l.6 1.8l.6 1.7l.6 1.5l.6 1.4l.6 1.3l.6 1.1l.6 1l.6 .8l.6 .6l.6 .5l.6 .3l.6 .2l.6 -.1l.6 -.1l.6 -.4l.6 -.4l.6 -.7l.6 -.7l.6 -.8l.6 -1l.6 -1l.6 -1.2l.6 -1.2l.6 -1.2l.6 -1.3l.6 -1.3l.6 -1.3l.6 -1.4l.6 -1.3l.6 -1.2l.6 -1.3l.6 -1.2l.6 -1.1l.6 -1l.6 -1l.6 -.9l.6 -.8l.6 -.7l.6 -.7l.6 -.5l.6 -.4l.6 -.3l.6 -.2l.6 -.1l.6 0l.6 .1l.6 .2l.6 .2l.6 .4l.6 .4l.6 .4l.6 .6l.6 .5l.6 .6l.6 .6l.6 .7l.6 .6l.6 .6l.6 .7l.6 .6l.6 .6l.6 .5l.6 .6l.6 .5l.6 .4l.6 .4l.6 .3l.6 .3l.6 .3l.6 .1l.6 .2l.6 0l.6 .1l.6 -.1l.6 -.1l.6 -.1l.6 -.1l.6 -.2l.6 -.2l.6 -.2l.6 -.3l.6 -.2l.6 -.3l.6 -.2l.6 -.2l.6 -.3l.6 -.1l.6 -.2l.6 -.1l.6 -.1l.6 0l.6 0l.6 0l.6 .1l.6 .2l.6 .2l.6 .2l.6 .3l.6 .4l.6 .3l.6 .5l.6 .4l.6 .5l.6 .5l.6 .5l.6 .5l.6 .5l.6 .5l.6 .5l.6 .5l.6 .4l.6 .4l.6 .4l.6 .3l.6 .2l.6 .2l.6 .1l.6 0l.6 -.1l.6 -.1l.6 -.2l.6 -.4l.6 -.4l.6 -.5l.6 -.5l.6 -.7l.6 -.8l.6 -.8l.6 -.9l.6 -1l.6 -1l.6 -1l.6 -1.2l.6 -1.1l.6 -1.1l.6 -1.2l.6 -1.1l.6 -1.2l.6 -1.1l.6 -1l.6 -1l.6 -1l.6 -.8l.6 -.8l.6 -.7l.6 -.6l.6 -.4l.6 -.3l.6 -.2l.6 -.1l.6 .1l.6 .2l.6 .4l.6 .5l.6 .7l.6 .8l.6 1l.6 1.1l.6 1.2l.6 1.3l.6 1.5l.6 1.5l.6 1.7l.6 1.7l.6 1.7l.6 1.9l.6 1.8l.6 1.9l.6 1.8l.6 1.8l.6 1.8l.6 1.8l.6 1.6l.6 1.6l.6 1.5l.6 1.3l.6 1.2l.6 1.1l.6 .9l.6 .7l.6 .5l.6 .3l.6 .2l.6 -.1l.6 -.3l.6 -.5l.6 -.7l.6 -.9l.6 -1.1l.6 -1.3l.6 -1.5l.6 -1.7l.6 -1.8l.6 -2l.6 -2.1l.6 -2.3l.6 -2.3l.6 -2.5l.6 -2.5l.6 -2.5l.6 -2.6l.6 -2.5l.6 -2.5l.6 -2.5l.6 -2.4l.6 -2.4l.6 -2.2l.6 -2l.6 -1.9l.6 -1.8l.6 -1.5l.6 -1.3l.6 -1.1l.6 -.9l.6 -.6l.6 -.3l.6 -.1l.6 .2l.6 .4l.6 .8l.6 1l.6 1.2l.6 1.5l.6 1.8l.6 2l.6 2.2l.6 2.5l.6 2.6l.6 2.8l.6 2.9l.6 3l.6 3.2l.6 3.2l.6 3.2l.6 3.2l.6 3.3l.6 3.2l.6 3.1l.6 3l.6 2.9l.6 2.7l.6 2.6l.6 2.3l.6 2.2l.6 1.8l.6 1.6l.6 1.4l.6 1l.6 .7l.6 .4l.6 .1l.6 -.3l.6 -.6l.6 -1l.6 -1.2l.6 -1.6l.6 -1.9l.6 -2.2l.6 -2.4l.6 -2.8l.6 -2.9l.6 -3.2l.6 -3.4l.6 -3.6l.6 -3.6l.6 -3.8l.6 -3.9l.6 -3.9l.6 -3.9l.6 -3.9l.6 -3.9l.6 -3.7l.6 -3.6l.6 -3.5l.6 -3.2l.6 -3.1l.6 -2.8l.6 -2.5l.6 -2.3l.6 -1.9l.6 -1.6l.6 -1.2l.6 -.9l.6 -.4l.6 -.1l.6 .3l.6 .6l.6 1.1l.6 1.5l.6 1.8l.6 2.2l.6 2.5l.6 2.9l.6 3.2l.6 3.4l.6 3.8l.6 3.9l.6 4.1l.6 4.3l.6 4.4l.6 4.5l.6 4.5l.6 4.6l.6 4.5l.6 4.5l.6 4.3l.6 4.2l.6 4.1l.6 3.8l.6 3.6l.6 3.3l.6 2.9l.6 2.7l.6 2.3l.6 1.9l.6 1.4l.6 1.1l.6 .6l.6 .2l.6 -.2l.6 -.7l.6 -1.1l.6 -1.6l.6 -2l.6 -2.4l.6 -2.9l.6 -3.1l.6 -3.6l.6 -3.8l.6 -4.2l.6 -4.4l.6 -4.6l.6 -4.9l.6 -4.9l.6 -5.1l.6 -5.1l.6 -5.2l.6 -5.1l.6 -5.1l.6 -5l.6 -4.8l.6 -4.6l.6 -4.4l.6 -4.1l.6 -3.8l.6 -3.5l.6 -3.1l.6 -2.7l.6 -2.2l.6 -1.8l.6 -1.4l.6 -.9l.6 -.4l.6 .2l.6 .6l.6 1.1l.6 1.6l.6 2l.6 2.6l.6 3l.6 3.4l.6 3.8l.6 4.1l.6 4.6l.6 4.8l.6 5l.6 5.3l.6 5.5l.6 5.6l.6 5.7l.6 5.7l.6 5.7l.6 5.7l.6 5.5l.6 5.4l.6 5.2l.6 5l.6 4.7l.6 4.3l.6 4l.6 3.6l.6 3.2l.6 2.7l.6 2.3l.6 1.7l.6 1.2l.6 .7l.6 .1l.6 -.4l.6 -1l.6 -1.5l.6 -2l.6 -2.5l.6 -3.1l.6 -3.5l.6 -3.9l.6 -4.4l.6 -4.8l.6 -5.1l.6 -5.4l.6 -5.7l.6 -5.8l.6 -6.1l.6 -6.2l.6 -6.2l.6 -6.2l.6 -6.3l.6 -6.1l.6 -6l.6 -5.8l.6 -5.5l.6 -5.3l.6 -5l.6 -4.6l.6 -4.1l.6 -3.7l.6 -3.3l.6 -2.7l.6 -2.2l.6 -1.7l.6 -1l.6 -.5l.6 .1l.6 .7l.6 1.2l.6 1.9l.6 2.4l.6 2.9l.6 3.5l.6 4l.6 4.5l.6 4.9l.6 5.2l.6 5.7l.6 5.9l.6 6.2l.6 6.4l.6 6.6l.6 6.7l.6 6.7l.6 6.8l.6 6.6l.6 6.6l.6 6.4l.6 6.1l.6 5.9l.6 5.6l.6 5.2l.6 4.8l.6 4.3l.6 3.9l.6 3.3l.6 2.7l.6 2.2l.6 1.6l.6 1l.6 .3l.6 -.2l.6 -.9l.6 -1.6l.6 -2.1l.6 -2.7l.6 -3.4l.6 -3.8l.6 -4.4l.6 -4.9l.6 -5.3l.6 -5.7l.6 -6.1l.6 -6.5l.6 -6.6l.6 -6.9l.6 -7.1l.6 -7.1l.6 -7.2l.6 -7.1l.6 -7.1l.6 -6.9l.6 -6.8l.6 -6.5l.6 -6.2l.6 -5.8l.6 -5.5l.6 -5l.6 -4.5l.6 -4l.6 -3.4l.6 -2.8l.6 -2.3l.6 -1.5l.6 -1l.6 -.2l.6 .3l.6 1.1l.6 1.7l.6 2.4l.6 2.9l.6 3.6l.6 4.2l.6 4.7l.6 5.2l.6 5.7l.6 6.1l.6 6.5l.6 6.8l.6 7.1l.6 7.2l.6 7.5l.6 7.5l.6 7.6l.6 7.5l.6 7.5l.6 7.3l.6 7.1l.6 6.8l.6 6.5l.6 6.1l.6 5.7l.6 5.3l.6 4.7l.6 4.2l.6 3.5l.6 3l.6 2.3l.6 1.6l.6 1l.6 .2l.6 -.4l.6 -1.1l.6 -1.8l.6 -2.5l.6 -3.1l.6 -3.8l.6 -4.3l.6 -5l.6 -5.4l.6 -6l.6 -6.4l.6 -6.7l.6 -7.2l.6 -7.4l.6 -7.6l.6 -7.7l.6 -7.9l.6 -7.9l.6 -7.9l.6 -7.8l.6 -7.6l.6 -7.5l.6 -7.1l.6 -6.8l.6 -6.4l.6 -6l.6 -5.5l.6 -5l.6 -4.4l.6 -3.7l.6 -3.2l.6 -2.4l.6 -1.8l.6 -1.1l.6 -.3l.6 .3l.6 1.1l.6 1.8l.6 2.5l.6 3.2l.6 3.8l.6 4.5l.6 5.1l.6 5.6l.6 6.1l.6 6.6l.6 6.9l.6 7.4l.6 7.6l.6 7.9l.6 8l.6 8.2l.6 8.2l.6 8.2l.6 8.1l.6 7.9l.6 7.7l.6 7.5l.6 7.1l.6 6.8l.6 6.2l.6 5.8l.6 5.3l.6 4.6l.6 4.1l.6 3.4l.6 2.7l.6 1.9l.6 1.3l.6 .5l.6 -.2l.6 -.9l.6 -1.7l.6 -2.4l.6 -3.1l.6 -3.8l.6 -4.5l.6 -5l.6 -5.7l.6 -6.1l.6 -6.7l.6 -7.1l.6 -7.5l.6 -7.7l.6 -8.1l.6 -8.2l.6 -8.4l.6 -8.4l.6 -8.5l.6 -8.3l.6 -8.3l.6 -8l.6 -7.8l.6 -7.4l.6 -7.1l.6 -6.6l.6 -6.1l.6 -5.6l.6 -5l.6 -4.3l.6 -3.7l.6 -3.1l.6 -2.2l.6 -1.6l.6 -.8l.6 -.1l.6 .7l.6 1.5l.6 2.2l.6 2.9l.6 3.7l.6 4.3l.6 4.9l.6 5.6l.6 6.1l.6 6.6l.6 7.1l.6 7.5l.6 7.8l.6 8.2l.6 8.3l.6 8.5l.6 8.7l.6 8.6l.6 8.6l.6 8.5l.6 8.3l.6 8l.6 7.8l.6 7.4l.6 6.9l.6 6.5l.6 6l.6 5.3l.6 4.8l.6 4.1l.6 3.4l.6 2.7l.6 1.9l.6 1.2l.6 .4l.6 -.3l.6 -1.1l.6 -1.9l.6 -2.6l.6 -3.3l.6 -4.1l.6 -4.7l.6 -5.3l.6 -6l.6 -6.4l.6 -7l.6 -7.4l.6 -7.8l.6 -8.2l.6 -8.3l.6 -8.6l.6 -8.7l.6 -8.8l.6 -8.7l.6 -8.7l.6 -8.6l.6 -8.3l.6 -8.1l.6 -7.7l.6 -7.3l.6 -6.9l.6 -6.3l.6 -5.8l.6 -5.2l.6 -4.6l.6 -3.9l.6 -3.1l.6 -2.4l.6 -1.7l.6 -.9l.6 -.2l.6 .7l.6 1.4l.6 2.2l.6 2.9l.6 3.7l.6 4.3l.6 5l.6 5.6l.6 6.2l.6 6.8l.6 7.2l.6 7.6l.6 8l.6 8.3l.6 8.6l.6 8.7l.6 8.8l.6 8.9l.6 8.8l.6 8.7l.6 8.6l.6 8.3l.6 8l.6 7.7l.6 7.3l.6 6.8l.6 6.2l.6 5.7l.6 5.1l.6 4.4l.6 3.7l.6 3l.6 2.2l.6 1.5l.6 .7l.6 -.1l.6 -.8l.6 -1.6l.6 -2.4l.6 -3.1l.6 -3.9l.6 -4.5l.6 -5.2l.6 -5.8l.6 -6.3l.6 -6.9l.6 -7.3l.6 -7.8l.6 -8.1l.6 -8.4l.6 -8.6l.6 -8.8l.6 -8.9l.6 -8.9l.6 -8.8l.6 -8.8l.6 -8.5l.6 -8.3l.6 -8l.6 -7.7l.6 -7.2l.6 -6.7l.6 -6.2l.6 -5.6l.6 -4.9l.6 -4.4l.6 -3.6l.6 -2.9l.6 -2.1l.6 -1.4l.6 -.6l.6 .1l.6 1l.6 1.7l.6 2.4l.6 3.2l.6 3.9l.6 4.6l.6 5.3l.6 5.8l.6 6.4l.6 6.9l.6 7.4l.6 7.8l.6 8.1l.6 8.4l.6 8.7l.6 8.7l.6 8.9l.6 8.9l.6 8.8l.6 8.7l.6 8.5l.6 8.3l.6 8l.6 7.6l.6 7.2l.6 6.7l.6 6.1l.6 5.6l.6 4.9l.6 4.3l.6 3.6l.6 2.9l.6 2.1l.6 1.4l.6 .7l.6 -.2l.6 -.9l.6 -1.7l.6 -2.4l.6 -3.2l.6 -3.9l.6 -4.5l.6 -5.2l.6 -5.8l.6 -6.3l.6 -6.9l.6 -7.3l.6 -7.7l.6 -8l.6 -8.4l.6 -8.5l.6 -8.7l.6 -8.8l.6 -8.9l.6 -8.7l.6 -8.7l.6 -8.5l.6 -8.2l.6 -8l.6 -7.5l.6 -7.2l.6 -6.7l.6 -6.1l.6 -5.6l.6 -5l.6 -4.4l.6 -3.6l.6 -3l.6 -2.2l.6 -1.5l.6 -.7l.6 .1l.6 .8l.6 1.5l.6 2.3l.6 3l.6 3.7l.6 4.4l.6 5l.6 5.7l.6 6.1l.6 6.7l.6 7.2l.6 7.5l.6 7.9l.6 8.2l.6 8.4l.6 8.6l.6 8.6l.6 8.7l.6 8.7l.6 8.6l.6 8.4l.6 8.2l.6 7.9l.6 7.6l.6 7.1l.6 6.8l.6 6.2l.6 5.6l.6 5.1l.6 4.4l.6 3.8l.6 3.1l.6 2.4l.6 1.7l.6 .9l.6 .1l.6 -.5l.6 -1.3l.6 -2.1l.6 -2.7l.6 -3.5l.6 -4.1l.6 -4.8l.6 -5.3l.6 -5.9l.6 -6.4l.6 -6.9l.6 -7.3l.6 -7.7l.6 -7.9l.6 -8.2l.6 -8.4l.6 -8.5l.6 -8.5l.6 -8.5l.6 -8.5l.6 -8.3l.6 -8.2l.6 -7.8l.6 -7.6l.6 -7.2l.6 -6.7l.6 -6.3l.6 -5.8l.6 -5.2l.6 -4.6l.6 -3.9l.6 -3.3l.6 -2.7l.6 -1.9l.6 -1.2l.6 -.4l.6 .2l.6 1l.6 1.7l.6 2.4l.6 3.1l.6 3.7l.6 4.4l.6 5l.6 5.5l.6 6.1l.6 6.5l.6 6.9l.6 7.3l.6 7.7l.6 7.9l.6 8.1l.6 8.2l.6 8.4l.6 8.3l.6 8.3l.6 8.2l.6 8l.6 7.8l.6 7.6l.6 7.2l.6 6.8l.6 6.4l.6 5.8l.6 5.4l.6 4.8l.6 4.2l.6 3.6l.6 2.9l.6 2.2l.6 1.6l.6 .8l.6 .2l.6 -.6l.6 -1.2l.6 -2l.6 -2.6l.6 -3.3l.6 -3.9l.6 -4.5l.6 -5.1l.6 -5.5l.6 -6.1l.6 -6.5l.6 -6.9l.6 -7.3l.6 -7.5l.6 -7.8l.6 -7.9l.6 -8l.6 -8.1l.6 -8.1l.6 -8l.6 -7.9l.6 -7.8l.6 -7.4l.6 -7.2l.6 -6.9l.6 -6.4l.6 -6.1l.6 -5.5l.6 -5l.6 -4.5l.6 -3.9l.6 -3.2l.6 -2.6l.6 -2l.6 -1.3l.6 -.6l.6 .1l.6 .7l.6 1.4l.6 2.1l.6 2.7l.6 3.4l.6 3.9l.6 4.5l.6 5l.6 5.6l.6 5.9l.6 6.4l.6 6.8l.6 7.1l.6 7.3l.6 7.5l.6 7.7l.6 7.8l.6 7.8l.6 7.8l.6 7.7l.6 7.6l.6 7.4l.6 7.1l.6 6.9l.6 6.5l.6 6.2l.6 5.7l.6 5.2l.6 4.8l.6 4.1l.6 3.7l.6 3l.6 2.4l.6 1.8l.6 1.1l.6 .5l.6 -.2l.6 -.8l.6 -1.4l.6 -2.1l.6 -2.7l.6 -3.3l.6 -3.9l.6 -4.4l.6 -4.9l.6 -5.3l.6 -5.8l.6 -6.2l.6 -6.5l.6 -6.8l.6 -7.1l.6 -7.2l.6 -7.4l.6 -7.5l.6 -7.4l.6 -7.5l.6 -7.4l.6 -7.3l.6 -7l.6 -6.9l.6 -6.5l.6 -6.3l.6 -5.8l.6 -5.4l.6 -5l.6 -4.5l.6 -4l.6 -3.5l.6 -2.8l.6 -2.3l.6 -1.7l.6 -1.1l.6 -.4l.6 .2l.6 .7l.6 1.4l.6 2l.6 2.6l.6 3.1l.6 3.7l.6 4.2l.6 4.7l.6 5.1l.6 5.5l.6 5.9l.6 6.2l.6 6.5l.6 6.7l.6 6.9l.6 7l.6 7.1l.6 7.1l.6 7.1l.6 7.1l.6 6.9l.6 6.7l.6 6.6l.6 6.2l.6 6l.6 5.6l.6 5.2l.6 4.7l.6 4.4l.6 3.8l.6 3.3l.6 2.8l.6 2.2l.6 1.7l.6 1.1l.6 .5l.6 -.1l.6 -.7l.6 -1.2l.6 -1.8l.6 -2.4l.6 -2.9l.6 -3.4l.6 -3.9l.6 -4.4l.6 -4.7l.6 -5.2l.6 -5.5l.6 -5.8l.6 -6.1l.6 -6.3l.6 -6.5l.6 -6.6l.6 -6.7l.6 -6.8l.6 -6.7l.6 -6.7l.6 -6.5l.6 -6.4l.6 -6.2l.6 -6l.6 -5.7l.6 -5.3l.6 -5l.6 -4.7l.6 -4.1l.6 -3.8l.6 -3.2l.6 -2.8l.6 -2.2l.6 -1.7l.6 -1.2l.6 -.6l.6 -.1l.6 .5l.6 1l.6 1.6l.6 2.1l.6 2.6l.6 3l.6 3.6l.6 3.9l.6 4.4l.6 4.7l.6 5.1l.6 5.4l.6 5.6l.6 5.9l.6 6l.6 6.2l.6 6.3l.6 6.3l.6 6.3l.6 6.3l.6 6.1l.6 6.1l.6 5.9l.6 5.7l.6 5.4l.6 5.1l.6 4.8l.6 4.5l.6 4l.6 3.7l.6 3.2l.6 2.8l.6 2.3l.6 1.7l.6 1.3l.6 .8l.6 .3l.6 -.2l.6 -.8l.6 -1.2l.6 -1.8l.6 -2.2l.6 -2.6l.6 -3.1l.6 -3.5l.6 -3.9l.6 -4.3l.6 -4.6l.6 -4.9l.6 -5.1l.6 -5.4l.6 -5.5l.6 -5.7l.6 -5.8l.6 -5.8l.6 -5.9l.6 -5.9l.6 -5.7l.6 -5.7l.6 -5.6l.6 -5.3l.6 -5.2l.6 -4.9l.6 -4.6l.6 -4.3l.6 -4l.6 -3.6l.6 -3.2l.6 -2.8l.6 -2.3l.6 -1.9l.6 -1.5l.6 -1l.6 -.5l.6 0l.6 .4l.6 .9l.6 1.3l.6 1.8l.6 2.2l.6 2.7l.6 3l.6 3.4l.6 3.7l.6 4.1l.6 4.3l.6 4.6l.6 4.8l.6 5l.6 5.2l.6 5.2l.6 5.4l.6 5.4l.6 5.4l.6 5.3l.6 5.3l.6 5.2l.6 5.1l.6 4.8l.6 4.7l.6 4.4l.6 4.1l.6 3.9l.6 3.5l.6 3.2l.6 2.8l.6 2.4l.6 2l.6 1.7l.6 1.2l.6 .7l.6 .4l.6 -.1l.6 -.5l.6 -.9l.6 -1.4l.6 -1.7l.6 -2.1l.6 -2.5l.6 -2.9l.6 -3.2l.6 -3.4l.6 -3.8l.6 -4l.6 -4.2l.6 -4.5l.6 -4.6l.6 -4.7l.6 -4.8l.6 -4.9l.6 -4.9l.6 -4.9l.6 -4.8l.6 -4.8l.6 -4.7l.6 -4.5l.6 -4.4l.6 -4.2l.6 -4l.6 -3.7l.6 -3.4l.6 -3.1l.6 -2.8l.6 -2.5l.6 -2.2l.6 -1.7l.6 -1.5l.6 -1l.6 -.6l.6 -.3l.6 .2l.6 .5l.6 .9l.6 1.2l.6 1.6l.6 2l.6 2.3l.6 2.6l.6 2.9l.6 3.1l.6 3.4l.6 3.6l.6 3.9l.6 4l.6 4.1l.6 4.2l.6 4.4l.6 4.3l.6 4.4l.6 4.4l.6 4.4l.6 4.2l.6 4.2l.6 4.1l.6 3.9l.6 3.7l.6 3.5l.6 3.3l.6 3.1l.6 2.8l.6 2.5l.6 2.2l.6 1.9l.6 1.6l.6 1.2l.6 .9l.6 .6l.6 .2l.6 -.1l.6 -.5l.6 -.7l.6 -1.2l.6 -1.4l.6 -1.7l.6 -2l.6 -2.3l.6 -2.6l.6 -2.8l.6 -3l.6 -3.2l.6 -3.3l.6 -3.6l.6 -3.6l.6 -3.7l.6 -3.8l.6 -3.9l.6 -3.9l.6 -3.8l.6 -3.9l.6 -3.7l.6 -3.7l.6 -3.6l.6 -3.4l.6 -3.3l.6 -3.1l.6 -2.9l.6 -2.7l.6 -2.5l.6 -2.2l.6 -2l.6 -1.7l.6 -1.4l.6 -1.1l.6 -.8l.6 -.6l.6 -.2l.6 0l.6 .4l.6 .6l.6 1l.6 1.2l.6 1.4l.6 1.7l.6 2l.6 2.2l.6 2.3l.6 2.6l.6 2.8l.6 2.8l.6 3.1l.6 3.1l.6 3.2l.6 3.3l.6 3.3l.6 3.3l.6 3.4l.6 3.3l.6 3.2l.6 3.2l.6 3.1l.6 3l.6 2.8l.6 2.7l.6 2.6l.6 2.3l.6 2.2l.6 1.9l.6 1.8l.6 1.5l.6 1.2l.6 1.1l.6 .7l.6 .6l.6 .2l.6 0l.6 -.2l.6 -.5l.6 -.7l.6 -.9l.6 -1.2l.6 -1.4l.6 -1.6l.6 -1.8l.6 -1.9l.6 -2.1l.6 -2.3l.6 -2.4l.6 -2.5l.6 -2.6l.6 -2.7l.6 -2.7l.6 -2.8l.6 -2.8l.6 -2.8l.6 -2.8l.6 -2.7l.6 -2.7l.6 -2.6l.6 -2.5l.6 -2.4l.6 -2.3l.6 -2.2l.6 -2l.6 -1.8l.6 -1.7l.6 -1.5l.6 -1.3l.6 -1.1l.6 -1l.6 -.7l.6 -.5l.6 -.3l.6 -.1l.6 .1l.6 .3l.6 .6l.6 .7l.6 .8l.6 1.1l.6 1.2l.6 1.4l.6 1.6l.6 1.6l.6 1.8l.6 1.9l.6 2l.6 2.1l.6 2.1l.6 2.2l.6 2.3l.6 2.2l.6 2.2l.6 2.3l.6 2.2l.6 2.2l.6 2.1l.6 2l.6 2l.6 1.8l.6 1.8l.6 1.7l.6 1.5l.6 1.4l.6 1.2l.6 1.1l.6 1l.6 .8l.6 .6l.6 .5l.6 .3l.6 .2l.6 0l.6 -.2l.6 -.3l.6 -.5l.6 -.6l.6 -.8l.6 -.9l.6 -1l.6 -1.1l.6 -1.3l.6 -1.3l.6 -1.4l.6 -1.5l.6 -1.6l.6 -1.6l.6 -1.7l.6 -1.6l.6 -1.7l.6 -1.7l.6 -1.7l.6 -1.7l.6 -1.6l.6 -1.6l.6 -1.6l.6 -1.5l.6 -1.4l.6 -1.4l.6 -1.2l.6 -1.2l.6 -1.1l.6 -1l.6 -.8l.6 -.8l.6 -.6l.6 -.5l.6 -.4l.6 -.3l.6 -.2l.6 0l.6 0l.6 .2l.6 .3l.6 .4l.6 .5l.6 .6l.6 .7l.6 .8l.6 .8l.6 .9l.6 1l.6 1l.6 1.1l.6 1.1l.6 1.1l.6 1.2l.6 1.1l.6 1.2l.6 1.1l.6 1.2l.6 1.1l.6 1.1l.6 1l.6 1.1l.6 .9l.6 .9l.6 .9l.6 .8l.6 .7l.6 .6l.6 .6l.6 .5l.6 .4l.6 .4l.6 .2l.6 .2l.6 .1l.6 .1l.6 -.1l.6 -.1l.6 -.1l.6 -.3l.6 -.3l.6 -.4l.6 -.4l.6 -.4l.6 -.5l.6 -.6l.6 -.5l.6 -.6l.6 -.7l.6 -.6l.6 -.6l.6 -.7l.6 -.6l.6 -.7l.6 -.6l.6 -.6l.6 -.6l.6 -.6l.6 -.5l.6 -.5l.6 -.5l.6 -.4l.6 -.4l.6 -.4l.6 -.3l.6 -.3l.6 -.2l.6 -.2l.6 -.2l.6 -.1l.6 0l.6 0l.6 0l.6 0l.6 .1l.6 .1l.6 .2l.6 .1l.6 .2l.6 .2l.6 .3l.6 .2l.6 .2l.6 .3l.6 .2l.6 .3l.6 .2l.6 .2l.6 .2l.6 .2l.6 .2l.6 .2l.6 .1l.6 .1l.6 .1l.6 .1l.6 0l.6 0l.6 0l.6 -.1l.6 0l.6 -.2l.6 -.1l.6 -.1l.6 -.2l.6 -.2l.6 -.2l.6 -.2l.6 -.2l.6 -.3l.6 -.2l.6 -.2l.6 -.3l.6 -.2l.6 -.2l.6 -.2l.6 -.2l.6 -.1l.6 -.2l.6 -.1l.6 -.1l.6 0l.6 0l.6 0l.6 0l.6 .1l.6 .2l.6 .2l.6 .2l.6 .2l.6 .4l.6 .3l.6 .4l.6 .4l.6 .5l.6 .5l.6 .5l.6 .5l.6 .6l.6 .6l.6 .6l.6 .6l.6 .6l.6 .6l.6 .7l.6 .6l.6 .6l.6 .5l.6 .6l.6 .5l.6 .5l.6 .4l.6 .4l.6 .4l.6 .3l.6 .2l.6 .2l.6 .1l.6 .1l.6 0l.6 -.1l.6 -.2l.6 -.2l.6 -.4l.6 -.3l.6 -.5l.6 -.5l.6 -.6l.6 -.7l.6 -.7l.6 -.8l.6 -.9l.6 -.9l.6 -.9l.6 -1l.6 -1.1l.6 -1l.6 -1.1l.6 -1.1l.6 -1.1l.6 -1.1l.6 -1.1l.6 -1.1l.6 -1.1l.6 -1l.6 -1l.6 -1l.6 -.9l.6 -.8l.6 -.8l.6 -.7l.6 -.6l.6 -.6l.6 -.4l.6 -.4l.6 -.3l.6 -.1l.6 -.1l.6 .1l.6 .2l.6 .2l.6 .4l.6 .5l.6 .6l.6 .7l.6 .9l.6 .9l.6 1l.6 1.1l.6 1.2l.6 1.3l.6 1.3l.6 1.4l.6 1.5l.6 1.5l.6 1.5l.6 1.6l.6 1.6l.6 1.6l.6 1.6l.6 1.6l.6 1.6l.6 1.5l.6 1.5l.6 1.5l.6 1.4l.6 1.3l.6 1.2l.6 1.1l.6 1.1l.6 .9l.6 .8l.6 .7l.6 .5l.6 .4l.6 .3l.6 .2l.6 0l.6 -.2l.6 -.3l.6 -.4l.6 -.6l.6 -.8l.6 -.9l.6 -1l.6 -1.1l.6 -1.3l.6 -1.4l.6 -1.5l.6 -1.7l.6 -1.7l.6 -1.8l.6 -1.9l.6 -1.9l.6 -2.1l.6 -2l.6 -2.1l.6 -2.1l.6 -2.1l.6 -2.1l.6 -2l.6 -2.1l.6 -1.9l.6 -2l.6 -1.8l.6 -1.8l.6 -1.6l.6 -1.6l.6 -1.4l.6 -1.3l.6 -1.2l.6 -1l.6 -.8l.6 -.7l.6 -.5l.6 -.3l.6 -.2l.6 .1l.6 .2l.6 .4l.6 .6l.6 .7l.6 1l.6 1.1l.6 1.3l.6 1.4l.6 1.7l.6 1.7l.6 1.9l.6 2l.6 2.2l.6 2.2l.6 2.4l.6 2.4l.6 2.4l.6 2.6l.6 2.5l.6 2.6l.6 2.6l.6 2.5l.6 2.6l.6 2.5l.6 2.4l.6 2.3l.6 2.3l.6 2.1l.6 2.1l.6 1.9l.6 1.7l.6 1.6l.6 1.4l.6 1.2l.6 1.1l.6 .8l.6 .7l.6 .4l.6 .2l.6 0l.6 -.2l.6 -.5l.6 -.7l.6 -.8l.6 -1.1l.6 -1.3l.6 -1.5l.6 -1.7l.6 -1.9l.6 -2.1l.6 -2.2l.6 -2.4l.6 -2.5l.6 -2.6l.6 -2.8l.6 -2.8l.6 -2.9l.6 -3l.6 -3l.6 -3l.6 -3.1l.6 -3l.6 -3l.6 -2.9l.6 -2.9l.6 -2.8l.6 -2.7l.6 -2.5l.6 -2.5l.6 -2.2l.6 -2.1l.6 -1.9l.6 -1.8l.6 -1.5l.6 -1.3l.6 -1l.6 -.9l.6 -.5l.6 -.4l.6 -.1l.6 .2l.6 .4l.6 .7l.6 .9l.6 1.2l.6 1.4l.6 1.6l.6 1.9l.6 2.1l.6 2.3l.6 2.5l.6 2.6l.6 2.9l.6 2.9l.6 3.1l.6 3.2l.6 3.3l.6 3.4l.6 3.5l.6 3.4l.6 3.5l.6 3.5l.6 3.4l.6 3.4l.6 3.4l.6 3.2l.6 3.1l.6 3l.6 2.9l.6 2.6l.6 2.5l.6 2.3l.6 2.1l.6 1.9l.6 1.6l.6 1.3l.6 1.1l.6 .9l.6 .5l.6 .3l.6 0l.6 -.3l.6 -.6l.6 -.9l.6 -1.1l.6 -1.5l.6 -1.7l.6 -1.9"/></defs>
<g fill="none" stroke-linejoin="round">
<use href="#k0" clip-path="url(#c1)" stroke="rgba(130,118,255,0.45)" stroke-width="7.4"/>
<use href="#k0" clip-path="url(#c1)" stroke="rgb(72,52,255)" stroke-width="4.2"/>
<use href="#k1" clip-path="url(#c1)" stroke="rgba(245,120,110,0.16)" stroke-width="5.0"/>
<use href="#k1" clip-path="url(#c1)" stroke="rgb(246,86,80)" stroke-width="5.0" stroke-dasharray="6.6 5.6"/>
<use href="#k2" clip-path="url(#c2)" stroke="rgba(130,118,255,0.45)" stroke-width="7.4"/>
<use href="#k2" clip-path="url(#c2)" stroke="rgb(72,52,255)" stroke-width="4.2"/>
<use href="#k3" clip-path="url(#c2)" stroke="rgba(245,120,110,0.16)" stroke-width="5.0"/>
<use href="#k3" clip-path="url(#c2)" stroke="rgb(246,86,80)" stroke-width="5.0" stroke-dasharray="6.6 5.6"/>
<use href="#k4" clip-path="url(#c3)" stroke="rgba(130,118,255,0.45)" stroke-width="7.4"/>
<use href="#k4" clip-path="url(#c3)" stroke="rgb(72,52,255)" stroke-width="4.2"/>
<use href="#k5" clip-path="url(#c3)" stroke="rgba(245,120,110,0.16)" stroke-width="5.0"/>
<use href="#k5" clip-path="url(#c3)" stroke="rgb(246,86,80)" stroke-width="5.0" stroke-dasharray="6.6 5.6"/>
</g>
<path clip-path="url(#c3)" d="M131.0 794.9L169.1 785.6L207.5 773.9L246.1 760.4L284.8 745.3L323.7 729.2L361.8 712.8L388.4 706.6L424.2 722.2L463.7 738.2L503.8 753.3L544.3 767.1L585.0 779.2L626.0 789.3L667.4 797.1L709.0 802.7L750.9 805.8L793.1 806.4L835.6 804.7L878.5 800.6L921.6 794.3L965.1 786.1L1008.9 776.2L1053.1 764.8L1097.5 752.2L1142.3 738.8L1187.2 724.8L1231.3 710.8L1261.6 706.8L1304.0 720.1L1350.1 733.7L1397.0 746.6L1444.4 758.6L1492.2 769.5L1540.6 779.2L1589.4 787.5L1638.7 794.3" fill="none" stroke="rgb(62,40,252)" stroke-width="5.8" stroke-linejoin="round"/>
<path clip-path="url(#c3)" d="M134.3 803.4L172.7 797.8L211.3 789.7L250.2 779.3L289.3 766.9L328.6 753.0L368.1 737.8L407.5 722.0L443.8 706.7L470.8 712.3L510.0 728.1L550.5 743.4L591.5 757.6L632.7 770.5L674.3 781.7L716.2 791.0L758.4 798.3L800.9 803.3L843.8 806.0L886.9 806.4L930.3 804.6L974.1 800.6L1018.2 794.6L1062.7 786.8L1107.5 777.4L1152.7 766.6L1198.2 754.7L1244.0 742.0L1290.2 728.7L1336.1 715.2L1373.1 704.6L1410.0 714.9L1457.0 728.0L1505.0 740.6L1553.6 752.5L1602.7 763.5L1652.3 773.4" fill="none" stroke="rgb(246,70,70)" stroke-width="5.8" stroke-dasharray="10 6.5"/>
<line x1="215.0" y1="271.8" x2="215.0" y2="67.5" stroke="rgb(72,52,255)" stroke-width="4.2"/>
<line x1="216.0" y1="261.6" x2="216.0" y2="108.4" stroke="rgb(246,86,80)" stroke-width="5.0" stroke-dasharray="6.6 5.6"/>
<line x1="1556.4" y1="251.4" x2="1556.4" y2="67.5" stroke="rgb(72,52,255)" stroke-width="4.2"/>
<line x1="1555.9" y1="265.7" x2="1555.9" y2="67.5" stroke="rgb(246,86,80)" stroke-width="5.0" stroke-dasharray="6.6 5.6"/>
<line x1="215.0" y1="540.8" x2="215.0" y2="378.0" stroke="rgb(72,52,255)" stroke-width="4.2"/>
<line x1="216.0" y1="540.8" x2="216.0" y2="378.0" stroke="rgb(246,86,80)" stroke-width="5.0" stroke-dasharray="6.6 5.6"/>
<line x1="1556.4" y1="479.8" x2="1556.4" y2="337.3" stroke="rgb(72,52,255)" stroke-width="4.2"/>
<line x1="1555.9" y1="479.8" x2="1555.9" y2="337.3" stroke="rgb(246,86,80)" stroke-width="5.0" stroke-dasharray="6.6 5.6"/>
<line x1="215.0" y1="769.8" x2="215.0" y2="684.2" stroke="rgb(72,52,255)" stroke-width="4.2"/>
<line x1="216.0" y1="792.2" x2="216.0" y2="684.2" stroke="rgb(246,86,80)" stroke-width="5.0" stroke-dasharray="6.6 5.6"/>
<line x1="1556.4" y1="780.0" x2="1556.4" y2="680.1" stroke="rgb(72,52,255)" stroke-width="4.2"/>
<line x1="1555.9" y1="751.5" x2="1555.9" y2="663.8" stroke="rgb(246,86,80)" stroke-width="5.0" stroke-dasharray="6.6 5.6"/>
<line x1="213.5" y1="271.8" x2="228.5" y2="271.8" stroke="#575757" stroke-width="3.4"/>
<line x1="213.5" y1="220.7" x2="221.5" y2="220.7" stroke="#575757" stroke-width="3.4"/>
<line x1="213.5" y1="169.7" x2="228.5" y2="169.7" stroke="#575757" stroke-width="3.4"/>
<line x1="213.5" y1="118.6" x2="221.5" y2="118.6" stroke="#575757" stroke-width="3.4"/>
<line x1="213.5" y1="67.5" x2="228.5" y2="67.5" stroke="#575757" stroke-width="3.4"/>
<line x1="317.0" y1="303.5" x2="317.0" y2="288.5" stroke="#575757" stroke-width="3.4"/>
<line x1="523.9" y1="303.5" x2="523.9" y2="295.5" stroke="#575757" stroke-width="3.4"/>
<line x1="730.8" y1="303.5" x2="730.8" y2="288.5" stroke="#575757" stroke-width="3.4"/>
<line x1="937.7" y1="303.5" x2="937.7" y2="295.5" stroke="#575757" stroke-width="3.4"/>
<line x1="1144.6" y1="303.5" x2="1144.6" y2="288.5" stroke="#575757" stroke-width="3.4"/>
<line x1="1351.5" y1="303.5" x2="1351.5" y2="295.5" stroke="#575757" stroke-width="3.4"/>
<text transform="translate(205.0 290.8) scale(1 1.070)" text-anchor="end" style="font-family:'Liberation Sans',Arial,sans-serif;font-size:57.5px" fill="#2b2b2b" stroke="#2b2b2b" stroke-width="0.70">0.0</text>
<text transform="translate(205.0 188.7) scale(1 1.070)" text-anchor="end" style="font-family:'Liberation Sans',Arial,sans-serif;font-size:57.5px" fill="#2b2b2b" stroke="#2b2b2b" stroke-width="0.70">0.5</text>
<text transform="translate(205.0 86.5) scale(1 1.070)" text-anchor="end" style="font-family:'Liberation Sans',Arial,sans-serif;font-size:57.5px" fill="#2b2b2b" stroke="#2b2b2b" stroke-width="0.70">1.0</text>
<line x1="213.5" y1="540.8" x2="228.5" y2="540.8" stroke="#575757" stroke-width="3.4"/>
<line x1="213.5" y1="489.9" x2="221.5" y2="489.9" stroke="#575757" stroke-width="3.4"/>
<line x1="213.5" y1="439.0" x2="228.5" y2="439.0" stroke="#575757" stroke-width="3.4"/>
<line x1="213.5" y1="388.2" x2="221.5" y2="388.2" stroke="#575757" stroke-width="3.4"/>
<line x1="213.5" y1="337.3" x2="228.5" y2="337.3" stroke="#575757" stroke-width="3.4"/>
<line x1="317.0" y1="570.0" x2="317.0" y2="555.0" stroke="#575757" stroke-width="3.4"/>
<line x1="523.9" y1="570.0" x2="523.9" y2="562.0" stroke="#575757" stroke-width="3.4"/>
<line x1="730.8" y1="570.0" x2="730.8" y2="555.0" stroke="#575757" stroke-width="3.4"/>
<line x1="937.7" y1="570.0" x2="937.7" y2="562.0" stroke="#575757" stroke-width="3.4"/>
<line x1="1144.6" y1="570.0" x2="1144.6" y2="555.0" stroke="#575757" stroke-width="3.4"/>
<line x1="1351.5" y1="570.0" x2="1351.5" y2="562.0" stroke="#575757" stroke-width="3.4"/>
<text transform="translate(205.0 559.8) scale(1 1.070)" text-anchor="end" style="font-family:'Liberation Sans',Arial,sans-serif;font-size:57.5px" fill="#2b2b2b" stroke="#2b2b2b" stroke-width="0.70">0.0</text>
<text transform="translate(205.0 458.0) scale(1 1.070)" text-anchor="end" style="font-family:'Liberation Sans',Arial,sans-serif;font-size:57.5px" fill="#2b2b2b" stroke="#2b2b2b" stroke-width="0.70">0.5</text>
<text transform="translate(205.0 356.3) scale(1 1.070)" text-anchor="end" style="font-family:'Liberation Sans',Arial,sans-serif;font-size:57.5px" fill="#2b2b2b" stroke="#2b2b2b" stroke-width="0.70">1.0</text>
<line x1="213.5" y1="806.5" x2="228.5" y2="806.5" stroke="#575757" stroke-width="3.4"/>
<line x1="213.5" y1="755.5" x2="221.5" y2="755.5" stroke="#575757" stroke-width="3.4"/>
<line x1="213.5" y1="704.6" x2="228.5" y2="704.6" stroke="#575757" stroke-width="3.4"/>
<line x1="213.5" y1="653.7" x2="221.5" y2="653.7" stroke="#575757" stroke-width="3.4"/>
<line x1="213.5" y1="602.7" x2="228.5" y2="602.7" stroke="#575757" stroke-width="3.4"/>
<line x1="317.0" y1="837.0" x2="317.0" y2="822.0" stroke="#575757" stroke-width="3.4"/>
<line x1="523.9" y1="837.0" x2="523.9" y2="829.0" stroke="#575757" stroke-width="3.4"/>
<line x1="730.8" y1="837.0" x2="730.8" y2="822.0" stroke="#575757" stroke-width="3.4"/>
<line x1="937.7" y1="837.0" x2="937.7" y2="829.0" stroke="#575757" stroke-width="3.4"/>
<line x1="1144.6" y1="837.0" x2="1144.6" y2="822.0" stroke="#575757" stroke-width="3.4"/>
<line x1="1351.5" y1="837.0" x2="1351.5" y2="829.0" stroke="#575757" stroke-width="3.4"/>
<text transform="translate(205.0 825.5) scale(1 1.070)" text-anchor="end" style="font-family:'Liberation Sans',Arial,sans-serif;font-size:57.5px" fill="#2b2b2b" stroke="#2b2b2b" stroke-width="0.70">0.0</text>
<text transform="translate(205.0 723.6) scale(1 1.070)" text-anchor="end" style="font-family:'Liberation Sans',Arial,sans-serif;font-size:57.5px" fill="#2b2b2b" stroke="#2b2b2b" stroke-width="0.70">0.5</text>
<text transform="translate(205.0 621.7) scale(1 1.070)" text-anchor="end" style="font-family:'Liberation Sans',Arial,sans-serif;font-size:57.5px" fill="#2b2b2b" stroke="#2b2b2b" stroke-width="0.70">1.0</text>
<rect x="220.0" y="42.5" width="299.0" height="65.5" fill="#fff" stroke="#959595" stroke-width="2.6"/>
<text transform="translate(231.0 92.3) scale(1 1.050)" style="font-family:'Liberation Sans',Arial,sans-serif;font-size:45.5px" fill="#2b2b2b" stroke="#2b2b2b" stroke-width="0.70"><tspan font-style="italic">x</tspan>_polarization</text>
<rect x="220.0" y="313.6" width="302.0" height="62.2" fill="#fff" stroke="#959595" stroke-width="2.6"/>
<text transform="translate(232.4 362.2) scale(1 1.050)" style="font-family:'Liberation Sans',Arial,sans-serif;font-size:45.5px" fill="#2b2b2b" stroke="#2b2b2b" stroke-width="0.70"><tspan font-style="italic">y</tspan>_polarization</text>
<rect x="220.7" y="581.7" width="291.6" height="61.2" fill="#fff" stroke="#959595" stroke-width="2.6"/>
<text transform="translate(231.4 629.6) scale(1 1.050)" style="font-family:'Liberation Sans',Arial,sans-serif;font-size:45.5px" fill="#2b2b2b" stroke="#2b2b2b" stroke-width="0.70">Vernier effect</text>
<rect x="1190.0" y="37.0" width="367.0" height="109.0" fill="#fff" stroke="#a5a5a5" stroke-width="2.4"/>
<line x1="1190.0" y1="36.0" x2="1190.0" y2="147.0" stroke="#5a5a5a" stroke-width="3.2"/>
<line x1="1190.0" y1="146.0" x2="1557.0" y2="146.0" stroke="#c4c4c4" stroke-width="2.2"/>
<line x1="1198" y1="67.0" x2="1303" y2="67.0" stroke="rgba(130,118,255,0.45)" stroke-width="7.4"/>
<line x1="1198" y1="67.0" x2="1303" y2="67.0" stroke="rgb(72,52,255)" stroke-width="4.2"/>
<line x1="1198" y1="121.0" x2="1303" y2="121.0" stroke="rgba(245,120,110,0.16)" stroke-width="5.0" stroke-dasharray="9 6.3"/>
<line x1="1198" y1="121.0" x2="1303" y2="121.0" stroke="rgb(246,86,80)" stroke-width="5.0" stroke-dasharray="9 6.3"/>
<text transform="translate(1313.6 83.4) scale(1 1.065)" style="font-family:'Liberation Sans',Arial,sans-serif;font-size:45.0px" fill="#2b2b2b" stroke="#2b2b2b" stroke-width="0.70">SRI=1.3329</text>
<text transform="translate(1313.6 137.2) scale(1 1.065)" style="font-family:'Liberation Sans',Arial,sans-serif;font-size:45.0px" fill="#2b2b2b" stroke="#2b2b2b" stroke-width="0.70">SRI=1.3333</text>
<rect x="1188.5" y="305.0" width="367.5" height="104.5" fill="#fff" stroke="#a5a5a5" stroke-width="2.4"/>
<line x1="1188.5" y1="304.0" x2="1188.5" y2="410.5" stroke="#8c8c8c" stroke-width="2.6"/>
<line x1="1188.5" y1="409.5" x2="1556.0" y2="409.5" stroke="#ababab" stroke-width="2.4"/>
<line x1="1198" y1="333.2" x2="1303" y2="333.2" stroke="rgba(130,118,255,0.45)" stroke-width="7.4"/>
<line x1="1198" y1="333.2" x2="1303" y2="333.2" stroke="rgb(72,52,255)" stroke-width="4.2"/>
<line x1="1198" y1="387.7" x2="1303" y2="387.7" stroke="rgba(245,120,110,0.16)" stroke-width="5.0" stroke-dasharray="8 5.7"/>
<line x1="1198" y1="387.7" x2="1303" y2="387.7" stroke="rgb(246,86,80)" stroke-width="5.0" stroke-dasharray="8 5.7"/>
<text transform="translate(1313.6 348.6) scale(1 1.065)" style="font-family:'Liberation Sans',Arial,sans-serif;font-size:45.0px" fill="#2b2b2b" stroke="#2b2b2b" stroke-width="0.70">SRI=1.3329</text>
<text transform="translate(1313.6 403.0) scale(1 1.065)" style="font-family:'Liberation Sans',Arial,sans-serif;font-size:45.0px" fill="#2b2b2b" stroke="#2b2b2b" stroke-width="0.70">SRI=1.3333</text>
<rect x="1189.0" y="573.0" width="367.0" height="106.7" fill="#fff" stroke="#a5a5a5" stroke-width="2.4"/>
<line x1="1189.0" y1="572.0" x2="1189.0" y2="680.7" stroke="#959595" stroke-width="2.6"/>
<line x1="1189.0" y1="679.7" x2="1556.0" y2="679.7" stroke="#ababab" stroke-width="2.4"/>
<line x1="1198" y1="601.5" x2="1303" y2="601.5" stroke="rgba(130,118,255,0.45)" stroke-width="7.4"/>
<line x1="1198" y1="601.5" x2="1303" y2="601.5" stroke="rgb(72,52,255)" stroke-width="4.2"/>
<line x1="1198" y1="656.0" x2="1303" y2="656.0" stroke="rgba(245,120,110,0.16)" stroke-width="5.0" stroke-dasharray="8 5.7"/>
<line x1="1198" y1="656.0" x2="1303" y2="656.0" stroke="rgb(246,86,80)" stroke-width="5.0" stroke-dasharray="8 5.7"/>
<text transform="translate(1313.6 616.9) scale(1 1.065)" style="font-family:'Liberation Sans',Arial,sans-serif;font-size:45.0px" fill="#2b2b2b" stroke="#2b2b2b" stroke-width="0.70">SRI=1.3329</text>
<text transform="translate(1313.6 671.4) scale(1 1.065)" style="font-family:'Liberation Sans',Arial,sans-serif;font-size:45.0px" fill="#2b2b2b" stroke="#2b2b2b" stroke-width="0.70">SRI=1.3333</text>
<line x1="213.5" y1="303.3" x2="1558.4" y2="303.3" stroke="#959595" stroke-width="4.6"/>
<line x1="213.5" y1="570.0" x2="1558.4" y2="570.0" stroke="#959595" stroke-width="4.6"/>
<rect x="213.5" y="36" width="1346.0" height="802.4" fill="none" stroke="#6a6a6a" stroke-width="4.6"/>
<line x1="213.5" y1="37.2" x2="1559.5" y2="37.2" stroke="#404040" stroke-width="2.4"/>
<line x1="1559.3" y1="35" x2="1559.3" y2="840" stroke="#3e3e3e" stroke-width="2.6"/>
<text transform="translate(318.0 899.5) scale(1 1.070)" text-anchor="middle" style="font-family:'Liberation Sans',Arial,sans-serif;font-size:57.5px" fill="#2b2b2b" stroke="#2b2b2b" stroke-width="0.70">1200</text>
<text transform="translate(731.8 899.5) scale(1 1.070)" text-anchor="middle" style="font-family:'Liberation Sans',Arial,sans-serif;font-size:57.5px" fill="#2b2b2b" stroke="#2b2b2b" stroke-width="0.70">1240</text>
<text transform="translate(1145.6 899.5) scale(1 1.070)" text-anchor="middle" style="font-family:'Liberation Sans',Arial,sans-serif;font-size:57.5px" fill="#2b2b2b" stroke="#2b2b2b" stroke-width="0.70">1280</text>
<text transform="translate(1559.4 899.5) scale(1 1.070)" text-anchor="middle" style="font-family:'Liberation Sans',Arial,sans-serif;font-size:57.5px" fill="#2b2b2b" stroke="#2b2b2b" stroke-width="0.70">1320</text>
<text transform="translate(886.5 980.5) scale(1 1.020)" text-anchor="middle" style="font-family:'Liberation Sans',Arial,sans-serif;font-size:64.0px" fill="#2b2b2b" stroke="#2b2b2b" stroke-width="0.70">Wavelength (nm)</text>
<text transform="translate(87.5 454.0) rotate(-90) scale(1 1.020)" text-anchor="middle" style="font-family:'Liberation Sans',Arial,sans-serif;font-size:64.0px" fill="#2b2b2b" stroke="#2b2b2b" stroke-width="0.70">Transmission (a.u.)</text>
</svg>
</body></html>
